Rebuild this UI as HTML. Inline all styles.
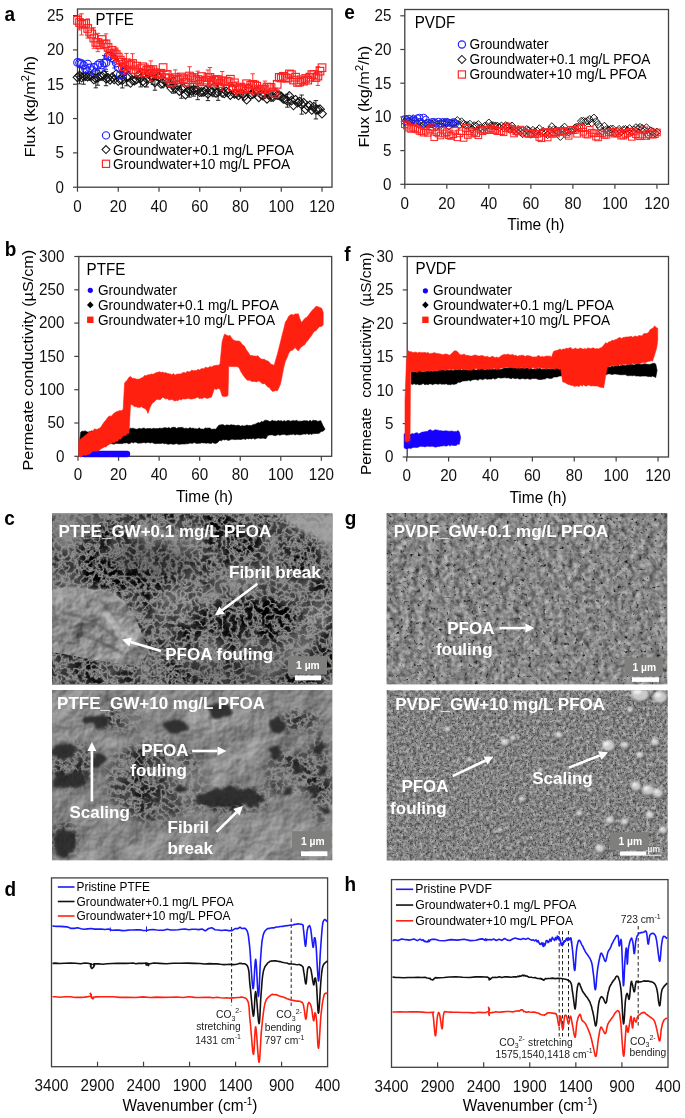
<!DOCTYPE html>
<html><head><meta charset="utf-8"><style>
html,body{margin:0;padding:0;background:#fff;}
svg{display:block;opacity:0.999;}
text{font-family:"Liberation Sans", sans-serif;}
</style></head><body>
<svg width="685" height="1118" viewBox="0 0 685 1118">
<defs><filter id="bl6" x="-50%" y="-50%" width="200%" height="200%"><feGaussianBlur stdDeviation="6"/></filter><filter id="bl3" x="-50%" y="-50%" width="200%" height="200%"><feGaussianBlur stdDeviation="3"/></filter><filter id="bl10" x="-50%" y="-50%" width="200%" height="200%"><feGaussianBlur stdDeviation="10"/></filter><filter id="nc1" x="0" y="0" width="1" height="1" color-interpolation-filters="sRGB"><feTurbulence type="fractalNoise" baseFrequency="0.025" numOctaves="4" seed="3"/><feColorMatrix type="matrix" values="0.9 0 0 0 -0.28  0.9 0 0 0 -0.28  0.9 0 0 0 -0.28  0 0 0 0 1"/></filter><filter id="fil_c1" x="0" y="0" width="1" height="1" color-interpolation-filters="sRGB"><feTurbulence type="fractalNoise" baseFrequency="0.13" numOctaves="3" seed="5"/><feColorMatrix type="matrix" values="0 0 0 0 0.6 0 0 0 0 0.6 0 0 0 0 0.6 1 0 0 0 0"/><feComponentTransfer><feFuncA type="table" tableValues="0 0 0 0 0.05 0.5 0.95 0.5 0.05 0 0 0 0"/></feComponentTransfer><feGaussianBlur stdDeviation="0.45"/></filter><filter id="nc1f" x="0" y="0" width="1" height="1" color-interpolation-filters="sRGB"><feTurbulence type="fractalNoise" baseFrequency="0.02" numOctaves="3" seed="8"/><feColorMatrix type="matrix" values="1.0 0 0 0 0.07999999999999996  1.0 0 0 0 0.07999999999999996  1.0 0 0 0 0.07999999999999996  0 0 0 0 1"/><feGaussianBlur stdDeviation="0.5"/></filter><filter id="nc2" x="0" y="0" width="1" height="1" color-interpolation-filters="sRGB"><feTurbulence type="fractalNoise" baseFrequency="0.03" numOctaves="5" seed="11"/><feColorMatrix type="matrix" values="0.45 0 0 0 0.28  0.45 0 0 0 0.28  0.45 0 0 0 0.28  0 0 0 0 1"/><feGaussianBlur stdDeviation="0.4"/></filter><filter id="rc2" x="0" y="0" width="1" height="1" color-interpolation-filters="sRGB"><feTurbulence type="fractalNoise" baseFrequency="0.035" numOctaves="4" seed="11" result="t"/><feColorMatrix in="t" type="matrix" values="0 0 0 0 0 0 0 0 0 0 0 0 0 0 0 1 0 0 0 0" result="a"/><feDiffuseLighting in="a" surfaceScale="3" diffuseConstant="0.7" lighting-color="#fff"><feDistantLight azimuth="225" elevation="45"/></feDiffuseLighting><feComponentTransfer><feFuncR type="linear" slope="1.4" intercept="-0.13"/><feFuncG type="linear" slope="1.4" intercept="-0.13"/><feFuncB type="linear" slope="1.4" intercept="-0.13"/></feComponentTransfer></filter><filter id="rg1" x="0" y="0" width="1" height="1" color-interpolation-filters="sRGB"><feTurbulence type="fractalNoise" baseFrequency="0.12 0.08" numOctaves="3" seed="5" result="t"/><feColorMatrix in="t" type="matrix" values="0 0 0 0 0 0 0 0 0 0 0 0 0 0 0 1 0 0 0 0" result="a"/><feDiffuseLighting in="a" surfaceScale="2.5" diffuseConstant="0.75" lighting-color="#fff"><feDistantLight azimuth="225" elevation="45"/></feDiffuseLighting><feComponentTransfer><feFuncR type="linear" slope="1.5" intercept="-0.2"/><feFuncG type="linear" slope="1.5" intercept="-0.2"/><feFuncB type="linear" slope="1.5" intercept="-0.2"/></feComponentTransfer></filter><filter id="nc2f" x="0" y="0" width="1" height="1" color-interpolation-filters="sRGB"><feTurbulence type="fractalNoise" baseFrequency="0.1" numOctaves="4" seed="12"/><feColorMatrix type="matrix" values="1.1 0 0 0 -0.18000000000000005  1.1 0 0 0 -0.18000000000000005  1.1 0 0 0 -0.18000000000000005  0 0 0 0 1"/><feGaussianBlur stdDeviation="0.4"/></filter><filter id="ng1" x="0" y="0" width="1" height="1" color-interpolation-filters="sRGB"><feTurbulence type="fractalNoise" baseFrequency="0.05 0.14" numOctaves="4" seed="5"/><feColorMatrix type="matrix" values="0.55 0 0 0 0.275  0.55 0 0 0 0.275  0.55 0 0 0 0.275  0 0 0 0 1"/><feGaussianBlur stdDeviation="0.5"/></filter><filter id="ng1f" x="0" y="0" width="1" height="1" color-interpolation-filters="sRGB"><feTurbulence type="fractalNoise" baseFrequency="0.22" numOctaves="3" seed="15"/><feColorMatrix type="matrix" values="1.0 0 0 0 0.0  1.0 0 0 0 0.0  1.0 0 0 0 0.0  0 0 0 0 1"/><feGaussianBlur stdDeviation="0.4"/></filter><filter id="ng2" x="0" y="0" width="1" height="1" color-interpolation-filters="sRGB"><feTurbulence type="fractalNoise" baseFrequency="0.3" numOctaves="4" seed="9"/><feColorMatrix type="matrix" values="0.6 0 0 0 0.23000000000000004  0.6 0 0 0 0.23000000000000004  0.6 0 0 0 0.23000000000000004  0 0 0 0 1"/><feGaussianBlur stdDeviation="0.4"/></filter><filter id="sp_c1" x="0" y="0" width="1" height="1" color-interpolation-filters="sRGB"><feTurbulence type="fractalNoise" baseFrequency="0.07" numOctaves="3" seed="7"/><feColorMatrix type="matrix" values="0 0 0 0 0.12  0 0 0 0 0.12  0 0 0 0 0.12  -5 0 0 0 1.85"/><feGaussianBlur stdDeviation="0.8"/></filter><filter id="sp_g1" x="0" y="0" width="1" height="1" color-interpolation-filters="sRGB"><feTurbulence type="fractalNoise" baseFrequency="0.28" numOctaves="2" seed="31"/><feColorMatrix type="matrix" values="0 0 0 0 0.1  0 0 0 0 0.1  0 0 0 0 0.1  -5 0 0 0 1.7999999999999998"/><feGaussianBlur stdDeviation="0.45"/></filter><filter id="sp_g2" x="0" y="0" width="1" height="1" color-interpolation-filters="sRGB"><feTurbulence type="fractalNoise" baseFrequency="0.6" numOctaves="2" seed="41"/><feColorMatrix type="matrix" values="0 0 0 0 0.15  0 0 0 0 0.15  0 0 0 0 0.15  -3.0 0 0 0 1.26"/><feGaussianBlur stdDeviation="0.35"/></filter><filter id="disp" x="-20%" y="-20%" width="140%" height="140%"><feTurbulence type="fractalNoise" baseFrequency="0.08" numOctaves="2" seed="4" result="t"/><feDisplacementMap in="SourceGraphic" in2="t" scale="12" xChannelSelector="R" yChannelSelector="G"/><feGaussianBlur stdDeviation="0.8"/></filter><filter id="bl1" x="-50%" y="-50%" width="200%" height="200%"><feGaussianBlur stdDeviation="1.2"/></filter><filter id="bl2" x="-50%" y="-50%" width="200%" height="200%"><feGaussianBlur stdDeviation="2"/></filter><mask id="m_c2" maskUnits="userSpaceOnUse" x="0" y="0" width="685" height="1118"><g filter="url(#bl6)" fill="#fff"><ellipse cx="156" cy="782" rx="50" ry="40"/><ellipse cx="289" cy="773" rx="25" ry="22"/><ellipse cx="72" cy="765" rx="20" ry="25"/><ellipse cx="320" cy="780" rx="12" ry="45"/><ellipse cx="230" cy="800" rx="38" ry="13"/><ellipse cx="64" cy="840" rx="14" ry="18"/><ellipse cx="120" cy="720" rx="25" ry="10"/><ellipse cx="300" cy="720" rx="25" ry="10"/></g></mask><clipPath id="clip1"><rect x="52" y="513.6" width="280.4" height="170.89999999999998"/></clipPath><clipPath id="filmc1"><path d="M52 592 C62 585 80 588 95 590 C108 588 118 595 126 604 C135 615 142 632 148 650 C146 662 135 667 118 664 C95 660 75 656 52 652Z"/></clipPath><clipPath id="clip2"><rect x="52" y="690.1" width="280.3" height="170.10000000000002"/></clipPath><clipPath id="clip3"><rect x="386.7" y="513.1" width="280.50000000000006" height="171.10000000000002"/></clipPath><clipPath id="clip4"><rect x="386.7" y="690.2" width="281.00000000000006" height="170.39999999999998"/></clipPath></defs>
<rect width="685" height="1118" fill="#fff"/>
<rect x="77.50" y="9.00" width="254.50" height="178.20" fill="none" stroke="#404040" stroke-width="1.3"/>
<line x1="73.00" y1="187.20" x2="77.50" y2="187.20" stroke="#404040" stroke-width="1.2"/>
<text x="64.00" y="192.60" font-size="15.20" text-anchor="end" font-weight="normal" fill="#111" transform="matrix(1 0 0 1.06 0 -11.556)">0</text>
<line x1="73.00" y1="152.88" x2="77.50" y2="152.88" stroke="#404040" stroke-width="1.2"/>
<text x="64.00" y="158.28" font-size="15.20" text-anchor="end" font-weight="normal" fill="#111" transform="matrix(1 0 0 1.06 0 -9.497)">5</text>
<line x1="73.00" y1="118.56" x2="77.50" y2="118.56" stroke="#404040" stroke-width="1.2"/>
<text x="64.00" y="123.96" font-size="15.20" text-anchor="end" font-weight="normal" fill="#111" transform="matrix(1 0 0 1.06 0 -7.438)">10</text>
<line x1="73.00" y1="84.24" x2="77.50" y2="84.24" stroke="#404040" stroke-width="1.2"/>
<text x="64.00" y="89.64" font-size="15.20" text-anchor="end" font-weight="normal" fill="#111" transform="matrix(1 0 0 1.06 0 -5.378)">15</text>
<line x1="73.00" y1="49.92" x2="77.50" y2="49.92" stroke="#404040" stroke-width="1.2"/>
<text x="64.00" y="55.32" font-size="15.20" text-anchor="end" font-weight="normal" fill="#111" transform="matrix(1 0 0 1.06 0 -3.319)">20</text>
<line x1="73.00" y1="15.60" x2="77.50" y2="15.60" stroke="#404040" stroke-width="1.2"/>
<text x="64.00" y="21.00" font-size="15.20" text-anchor="end" font-weight="normal" fill="#111" transform="matrix(1 0 0 1.06 0 -1.260)">25</text>
<line x1="77.50" y1="187.20" x2="77.50" y2="191.70" stroke="#404040" stroke-width="1.2"/>
<text x="77.50" y="211.80" font-size="15.20" text-anchor="middle" font-weight="normal" fill="#111" transform="matrix(1 0 0 1.06 0 -12.708)">0</text>
<line x1="118.25" y1="187.20" x2="118.25" y2="191.70" stroke="#404040" stroke-width="1.2"/>
<text x="118.25" y="211.80" font-size="15.20" text-anchor="middle" font-weight="normal" fill="#111" transform="matrix(1 0 0 1.06 0 -12.708)">20</text>
<line x1="159.01" y1="187.20" x2="159.01" y2="191.70" stroke="#404040" stroke-width="1.2"/>
<text x="159.01" y="211.80" font-size="15.20" text-anchor="middle" font-weight="normal" fill="#111" transform="matrix(1 0 0 1.06 0 -12.708)">40</text>
<line x1="199.76" y1="187.20" x2="199.76" y2="191.70" stroke="#404040" stroke-width="1.2"/>
<text x="199.76" y="211.80" font-size="15.20" text-anchor="middle" font-weight="normal" fill="#111" transform="matrix(1 0 0 1.06 0 -12.708)">60</text>
<line x1="240.51" y1="187.20" x2="240.51" y2="191.70" stroke="#404040" stroke-width="1.2"/>
<text x="240.51" y="211.80" font-size="15.20" text-anchor="middle" font-weight="normal" fill="#111" transform="matrix(1 0 0 1.06 0 -12.708)">80</text>
<line x1="281.26" y1="187.20" x2="281.26" y2="191.70" stroke="#404040" stroke-width="1.2"/>
<text x="281.26" y="211.80" font-size="15.20" text-anchor="middle" font-weight="normal" fill="#111" transform="matrix(1 0 0 1.06 0 -12.708)">100</text>
<line x1="322.02" y1="187.20" x2="322.02" y2="191.70" stroke="#404040" stroke-width="1.2"/>
<text x="322.02" y="211.80" font-size="15.20" text-anchor="middle" font-weight="normal" fill="#111" transform="matrix(1 0 0 1.06 0 -12.708)">120</text>
<text x="34.80" y="106.60" font-size="15.38" text-anchor="middle" font-weight="normal" fill="#000" transform="translate(34.80 106.60) rotate(-90) scale(1.06 1) translate(-34.80 -106.60)">Flux (kg/m<tspan font-size="10.5" dy="-6">2</tspan><tspan dy="6">/h)</tspan></text>
<text x="95.50" y="25.20" font-size="15.00" text-anchor="start" font-weight="normal" fill="#000" transform="matrix(1 0 0 1.06 0 -1.512)">PTFE</text>
<text x="4.40" y="21.20" font-size="19.00" text-anchor="start" font-weight="bold" fill="#000" transform="matrix(1 0 0 1.06 0 -1.272)">a</text>
<path d="M77.50 72.90L81.90 77.30L77.50 81.70L73.10 77.30Z" fill="none" stroke="#111" stroke-width="1.05"/>
<line x1="79.54" y1="67.23" x2="79.54" y2="83.83" stroke="#111" stroke-width="0.9"/>
<line x1="77.34" y1="67.23" x2="81.74" y2="67.23" stroke="#111" stroke-width="0.9"/>
<line x1="77.34" y1="83.83" x2="81.74" y2="83.83" stroke="#111" stroke-width="0.9"/>
<path d="M79.54 71.13L83.94 75.53L79.54 79.93L75.14 75.53Z" fill="none" stroke="#111" stroke-width="1.05"/>
<path d="M81.58 72.98L85.98 77.38L81.58 81.78L77.18 77.38Z" fill="none" stroke="#111" stroke-width="1.05"/>
<line x1="83.61" y1="68.33" x2="83.61" y2="84.22" stroke="#111" stroke-width="0.9"/>
<line x1="81.41" y1="68.33" x2="85.81" y2="68.33" stroke="#111" stroke-width="0.9"/>
<line x1="81.41" y1="84.22" x2="85.81" y2="84.22" stroke="#111" stroke-width="0.9"/>
<path d="M83.61 71.87L88.01 76.27L83.61 80.67L79.21 76.27Z" fill="none" stroke="#111" stroke-width="1.05"/>
<path d="M85.65 71.62L90.05 76.02L85.65 80.42L81.25 76.02Z" fill="none" stroke="#111" stroke-width="1.05"/>
<path d="M87.69 72.19L92.09 76.59L87.69 80.99L83.29 76.59Z" fill="none" stroke="#111" stroke-width="1.05"/>
<path d="M89.73 71.48L94.13 75.88L89.73 80.28L85.33 75.88Z" fill="none" stroke="#111" stroke-width="1.05"/>
<path d="M91.76 71.57L96.16 75.97L91.76 80.37L87.36 75.97Z" fill="none" stroke="#111" stroke-width="1.05"/>
<path d="M93.80 74.98L98.20 79.38L93.80 83.78L89.40 79.38Z" fill="none" stroke="#111" stroke-width="1.05"/>
<line x1="95.84" y1="69.03" x2="95.84" y2="87.84" stroke="#111" stroke-width="0.9"/>
<line x1="93.64" y1="69.03" x2="98.04" y2="69.03" stroke="#111" stroke-width="0.9"/>
<line x1="93.64" y1="87.84" x2="98.04" y2="87.84" stroke="#111" stroke-width="0.9"/>
<path d="M95.84 74.03L100.24 78.43L95.84 82.83L91.44 78.43Z" fill="none" stroke="#111" stroke-width="1.05"/>
<line x1="97.88" y1="70.19" x2="97.88" y2="85.22" stroke="#111" stroke-width="0.9"/>
<line x1="95.68" y1="70.19" x2="100.08" y2="70.19" stroke="#111" stroke-width="0.9"/>
<line x1="95.68" y1="85.22" x2="100.08" y2="85.22" stroke="#111" stroke-width="0.9"/>
<path d="M97.88 73.31L102.28 77.71L97.88 82.11L93.48 77.71Z" fill="none" stroke="#111" stroke-width="1.05"/>
<path d="M99.91 71.77L104.31 76.17L99.91 80.57L95.51 76.17Z" fill="none" stroke="#111" stroke-width="1.05"/>
<path d="M101.95 71.82L106.35 76.22L101.95 80.62L97.55 76.22Z" fill="none" stroke="#111" stroke-width="1.05"/>
<path d="M103.99 70.37L108.39 74.77L103.99 79.17L99.59 74.77Z" fill="none" stroke="#111" stroke-width="1.05"/>
<line x1="106.03" y1="71.40" x2="106.03" y2="85.73" stroke="#111" stroke-width="0.9"/>
<line x1="103.83" y1="71.40" x2="108.23" y2="71.40" stroke="#111" stroke-width="0.9"/>
<line x1="103.83" y1="85.73" x2="108.23" y2="85.73" stroke="#111" stroke-width="0.9"/>
<path d="M106.03 74.17L110.43 78.57L106.03 82.97L101.63 78.57Z" fill="none" stroke="#111" stroke-width="1.05"/>
<path d="M108.06 73.69L112.46 78.09L108.06 82.49L103.66 78.09Z" fill="none" stroke="#111" stroke-width="1.05"/>
<path d="M110.10 75.40L114.50 79.80L110.10 84.20L105.70 79.80Z" fill="none" stroke="#111" stroke-width="1.05"/>
<path d="M112.14 72.70L116.54 77.10L112.14 81.50L107.74 77.10Z" fill="none" stroke="#111" stroke-width="1.05"/>
<path d="M114.18 75.02L118.58 79.42L114.18 83.82L109.78 79.42Z" fill="none" stroke="#111" stroke-width="1.05"/>
<path d="M116.21 69.73L120.61 74.13L116.21 78.53L111.81 74.13Z" fill="none" stroke="#111" stroke-width="1.05"/>
<path d="M118.25 76.51L122.65 80.91L118.25 85.31L113.85 80.91Z" fill="none" stroke="#111" stroke-width="1.05"/>
<path d="M120.29 75.30L124.69 79.70L120.29 84.10L115.89 79.70Z" fill="none" stroke="#111" stroke-width="1.05"/>
<line x1="122.33" y1="72.17" x2="122.33" y2="87.96" stroke="#111" stroke-width="0.9"/>
<line x1="120.13" y1="72.17" x2="124.53" y2="72.17" stroke="#111" stroke-width="0.9"/>
<line x1="120.13" y1="87.96" x2="124.53" y2="87.96" stroke="#111" stroke-width="0.9"/>
<path d="M122.33 75.66L126.73 80.06L122.33 84.46L117.93 80.06Z" fill="none" stroke="#111" stroke-width="1.05"/>
<path d="M124.37 67.63L128.77 72.03L124.37 76.43L119.97 72.03Z" fill="none" stroke="#111" stroke-width="1.05"/>
<line x1="126.40" y1="68.30" x2="126.40" y2="85.80" stroke="#111" stroke-width="0.9"/>
<line x1="124.20" y1="68.30" x2="128.60" y2="68.30" stroke="#111" stroke-width="0.9"/>
<line x1="124.20" y1="85.80" x2="128.60" y2="85.80" stroke="#111" stroke-width="0.9"/>
<path d="M126.40 72.65L130.80 77.05L126.40 81.45L122.00 77.05Z" fill="none" stroke="#111" stroke-width="1.05"/>
<path d="M128.44 72.08L132.84 76.48L128.44 80.88L124.04 76.48Z" fill="none" stroke="#111" stroke-width="1.05"/>
<path d="M130.48 78.47L134.88 82.87L130.48 87.27L126.08 82.87Z" fill="none" stroke="#111" stroke-width="1.05"/>
<path d="M132.52 75.97L136.92 80.37L132.52 84.77L128.12 80.37Z" fill="none" stroke="#111" stroke-width="1.05"/>
<path d="M134.55 76.15L138.95 80.55L134.55 84.95L130.15 80.55Z" fill="none" stroke="#111" stroke-width="1.05"/>
<path d="M136.59 75.02L140.99 79.42L136.59 83.82L132.19 79.42Z" fill="none" stroke="#111" stroke-width="1.05"/>
<path d="M138.63 70.42L143.03 74.82L138.63 79.22L134.23 74.82Z" fill="none" stroke="#111" stroke-width="1.05"/>
<line x1="140.67" y1="69.16" x2="140.67" y2="86.90" stroke="#111" stroke-width="0.9"/>
<line x1="138.47" y1="69.16" x2="142.87" y2="69.16" stroke="#111" stroke-width="0.9"/>
<line x1="138.47" y1="86.90" x2="142.87" y2="86.90" stroke="#111" stroke-width="0.9"/>
<path d="M140.67 73.63L145.07 78.03L140.67 82.43L136.27 78.03Z" fill="none" stroke="#111" stroke-width="1.05"/>
<path d="M142.70 76.99L147.10 81.39L142.70 85.79L138.30 81.39Z" fill="none" stroke="#111" stroke-width="1.05"/>
<path d="M144.74 78.20L149.14 82.60L144.74 87.00L140.34 82.60Z" fill="none" stroke="#111" stroke-width="1.05"/>
<line x1="146.78" y1="70.92" x2="146.78" y2="87.01" stroke="#111" stroke-width="0.9"/>
<line x1="144.58" y1="70.92" x2="148.98" y2="70.92" stroke="#111" stroke-width="0.9"/>
<line x1="144.58" y1="87.01" x2="148.98" y2="87.01" stroke="#111" stroke-width="0.9"/>
<path d="M146.78 74.57L151.18 78.97L146.78 83.37L142.38 78.97Z" fill="none" stroke="#111" stroke-width="1.05"/>
<path d="M148.82 69.26L153.22 73.66L148.82 78.06L144.42 73.66Z" fill="none" stroke="#111" stroke-width="1.05"/>
<path d="M150.85 71.81L155.25 76.21L150.85 80.61L146.45 76.21Z" fill="none" stroke="#111" stroke-width="1.05"/>
<line x1="152.89" y1="69.78" x2="152.89" y2="84.40" stroke="#111" stroke-width="0.9"/>
<line x1="150.69" y1="69.78" x2="155.09" y2="69.78" stroke="#111" stroke-width="0.9"/>
<line x1="150.69" y1="84.40" x2="155.09" y2="84.40" stroke="#111" stroke-width="0.9"/>
<path d="M152.89 72.69L157.29 77.09L152.89 81.49L148.49 77.09Z" fill="none" stroke="#111" stroke-width="1.05"/>
<line x1="154.93" y1="74.24" x2="154.93" y2="90.24" stroke="#111" stroke-width="0.9"/>
<line x1="152.73" y1="74.24" x2="157.13" y2="74.24" stroke="#111" stroke-width="0.9"/>
<line x1="152.73" y1="90.24" x2="157.13" y2="90.24" stroke="#111" stroke-width="0.9"/>
<path d="M154.93 77.84L159.33 82.24L154.93 86.64L150.53 82.24Z" fill="none" stroke="#111" stroke-width="1.05"/>
<path d="M156.97 71.82L161.37 76.22L156.97 80.62L152.57 76.22Z" fill="none" stroke="#111" stroke-width="1.05"/>
<path d="M159.01 72.42L163.41 76.82L159.01 81.22L154.61 76.82Z" fill="none" stroke="#111" stroke-width="1.05"/>
<path d="M161.04 79.52L165.44 83.92L161.04 88.32L156.64 83.92Z" fill="none" stroke="#111" stroke-width="1.05"/>
<path d="M163.08 79.32L167.48 83.72L163.08 88.12L158.68 83.72Z" fill="none" stroke="#111" stroke-width="1.05"/>
<path d="M165.12 77.04L169.52 81.44L165.12 85.84L160.72 81.44Z" fill="none" stroke="#111" stroke-width="1.05"/>
<path d="M167.16 78.14L171.56 82.54L167.16 86.94L162.76 82.54Z" fill="none" stroke="#111" stroke-width="1.05"/>
<path d="M169.19 78.62L173.59 83.02L169.19 87.42L164.79 83.02Z" fill="none" stroke="#111" stroke-width="1.05"/>
<path d="M171.23 83.72L175.63 88.12L171.23 92.52L166.83 88.12Z" fill="none" stroke="#111" stroke-width="1.05"/>
<line x1="173.27" y1="77.41" x2="173.27" y2="93.21" stroke="#111" stroke-width="0.9"/>
<line x1="171.07" y1="77.41" x2="175.47" y2="77.41" stroke="#111" stroke-width="0.9"/>
<line x1="171.07" y1="93.21" x2="175.47" y2="93.21" stroke="#111" stroke-width="0.9"/>
<path d="M173.27 80.91L177.67 85.31L173.27 89.71L168.87 85.31Z" fill="none" stroke="#111" stroke-width="1.05"/>
<path d="M175.31 84.01L179.71 88.41L175.31 92.81L170.91 88.41Z" fill="none" stroke="#111" stroke-width="1.05"/>
<path d="M177.34 80.31L181.74 84.71L177.34 89.11L172.94 84.71Z" fill="none" stroke="#111" stroke-width="1.05"/>
<path d="M179.38 86.59L183.78 90.99L179.38 95.39L174.98 90.99Z" fill="none" stroke="#111" stroke-width="1.05"/>
<line x1="181.42" y1="79.14" x2="181.42" y2="98.23" stroke="#111" stroke-width="0.9"/>
<line x1="179.22" y1="79.14" x2="183.62" y2="79.14" stroke="#111" stroke-width="0.9"/>
<line x1="179.22" y1="98.23" x2="183.62" y2="98.23" stroke="#111" stroke-width="0.9"/>
<path d="M181.42 84.28L185.82 88.68L181.42 93.08L177.02 88.68Z" fill="none" stroke="#111" stroke-width="1.05"/>
<path d="M183.46 83.73L187.86 88.13L183.46 92.53L179.06 88.13Z" fill="none" stroke="#111" stroke-width="1.05"/>
<path d="M185.49 90.14L189.89 94.54L185.49 98.94L181.09 94.54Z" fill="none" stroke="#111" stroke-width="1.05"/>
<path d="M187.53 86.92L191.93 91.32L187.53 95.72L183.13 91.32Z" fill="none" stroke="#111" stroke-width="1.05"/>
<line x1="189.57" y1="83.75" x2="189.57" y2="97.13" stroke="#111" stroke-width="0.9"/>
<line x1="187.37" y1="83.75" x2="191.77" y2="83.75" stroke="#111" stroke-width="0.9"/>
<line x1="187.37" y1="97.13" x2="191.77" y2="97.13" stroke="#111" stroke-width="0.9"/>
<path d="M189.57 86.04L193.97 90.44L189.57 94.84L185.17 90.44Z" fill="none" stroke="#111" stroke-width="1.05"/>
<path d="M191.61 86.34L196.01 90.74L191.61 95.14L187.21 90.74Z" fill="none" stroke="#111" stroke-width="1.05"/>
<line x1="193.64" y1="83.26" x2="193.64" y2="96.18" stroke="#111" stroke-width="0.9"/>
<line x1="191.44" y1="83.26" x2="195.84" y2="83.26" stroke="#111" stroke-width="0.9"/>
<line x1="191.44" y1="96.18" x2="195.84" y2="96.18" stroke="#111" stroke-width="0.9"/>
<path d="M193.64 85.32L198.04 89.72L193.64 94.12L189.24 89.72Z" fill="none" stroke="#111" stroke-width="1.05"/>
<path d="M195.68 86.06L200.08 90.46L195.68 94.86L191.28 90.46Z" fill="none" stroke="#111" stroke-width="1.05"/>
<line x1="197.72" y1="80.74" x2="197.72" y2="99.66" stroke="#111" stroke-width="0.9"/>
<line x1="195.52" y1="80.74" x2="199.92" y2="80.74" stroke="#111" stroke-width="0.9"/>
<line x1="195.52" y1="99.66" x2="199.92" y2="99.66" stroke="#111" stroke-width="0.9"/>
<path d="M197.72 85.80L202.12 90.20L197.72 94.60L193.32 90.20Z" fill="none" stroke="#111" stroke-width="1.05"/>
<path d="M199.76 87.73L204.16 92.13L199.76 96.53L195.36 92.13Z" fill="none" stroke="#111" stroke-width="1.05"/>
<path d="M201.80 87.60L206.20 92.00L201.80 96.40L197.40 92.00Z" fill="none" stroke="#111" stroke-width="1.05"/>
<path d="M203.83 87.51L208.23 91.91L203.83 96.31L199.43 91.91Z" fill="none" stroke="#111" stroke-width="1.05"/>
<path d="M205.87 85.78L210.27 90.18L205.87 94.58L201.47 90.18Z" fill="none" stroke="#111" stroke-width="1.05"/>
<line x1="207.91" y1="86.99" x2="207.91" y2="100.61" stroke="#111" stroke-width="0.9"/>
<line x1="205.71" y1="86.99" x2="210.11" y2="86.99" stroke="#111" stroke-width="0.9"/>
<line x1="205.71" y1="100.61" x2="210.11" y2="100.61" stroke="#111" stroke-width="0.9"/>
<path d="M207.91 89.40L212.31 93.80L207.91 98.20L203.51 93.80Z" fill="none" stroke="#111" stroke-width="1.05"/>
<path d="M209.95 86.12L214.35 90.52L209.95 94.92L205.55 90.52Z" fill="none" stroke="#111" stroke-width="1.05"/>
<path d="M211.98 87.30L216.38 91.70L211.98 96.10L207.58 91.70Z" fill="none" stroke="#111" stroke-width="1.05"/>
<line x1="214.02" y1="77.25" x2="214.02" y2="96.70" stroke="#111" stroke-width="0.9"/>
<line x1="211.82" y1="77.25" x2="216.22" y2="77.25" stroke="#111" stroke-width="0.9"/>
<line x1="211.82" y1="96.70" x2="216.22" y2="96.70" stroke="#111" stroke-width="0.9"/>
<path d="M214.02 82.58L218.42 86.98L214.02 91.38L209.62 86.98Z" fill="none" stroke="#111" stroke-width="1.05"/>
<path d="M216.06 88.58L220.46 92.98L216.06 97.38L211.66 92.98Z" fill="none" stroke="#111" stroke-width="1.05"/>
<line x1="218.10" y1="83.80" x2="218.10" y2="100.35" stroke="#111" stroke-width="0.9"/>
<line x1="215.90" y1="83.80" x2="220.30" y2="83.80" stroke="#111" stroke-width="0.9"/>
<line x1="215.90" y1="100.35" x2="220.30" y2="100.35" stroke="#111" stroke-width="0.9"/>
<path d="M218.10 87.68L222.50 92.08L218.10 96.48L213.70 92.08Z" fill="none" stroke="#111" stroke-width="1.05"/>
<path d="M220.13 82.87L224.53 87.27L220.13 91.67L215.73 87.27Z" fill="none" stroke="#111" stroke-width="1.05"/>
<path d="M222.17 88.45L226.57 92.85L222.17 97.25L217.77 92.85Z" fill="none" stroke="#111" stroke-width="1.05"/>
<path d="M224.21 88.96L228.61 93.36L224.21 97.76L219.81 93.36Z" fill="none" stroke="#111" stroke-width="1.05"/>
<path d="M226.25 87.09L230.65 91.49L226.25 95.89L221.85 91.49Z" fill="none" stroke="#111" stroke-width="1.05"/>
<path d="M228.28 87.96L232.68 92.36L228.28 96.76L223.88 92.36Z" fill="none" stroke="#111" stroke-width="1.05"/>
<path d="M230.32 90.65L234.72 95.05L230.32 99.45L225.92 95.05Z" fill="none" stroke="#111" stroke-width="1.05"/>
<path d="M232.36 84.04L236.76 88.44L232.36 92.84L227.96 88.44Z" fill="none" stroke="#111" stroke-width="1.05"/>
<path d="M234.40 89.35L238.80 93.75L234.40 98.15L230.00 93.75Z" fill="none" stroke="#111" stroke-width="1.05"/>
<path d="M236.44 89.19L240.84 93.59L236.44 97.99L232.04 93.59Z" fill="none" stroke="#111" stroke-width="1.05"/>
<path d="M238.47 90.99L242.87 95.39L238.47 99.79L234.07 95.39Z" fill="none" stroke="#111" stroke-width="1.05"/>
<path d="M240.51 88.89L244.91 93.29L240.51 97.69L236.11 93.29Z" fill="none" stroke="#111" stroke-width="1.05"/>
<path d="M242.55 89.43L246.95 93.83L242.55 98.23L238.15 93.83Z" fill="none" stroke="#111" stroke-width="1.05"/>
<path d="M244.59 91.74L248.99 96.14L244.59 100.54L240.19 96.14Z" fill="none" stroke="#111" stroke-width="1.05"/>
<path d="M246.62 95.32L251.02 99.72L246.62 104.12L242.22 99.72Z" fill="none" stroke="#111" stroke-width="1.05"/>
<path d="M248.66 83.81L253.06 88.21L248.66 92.61L244.26 88.21Z" fill="none" stroke="#111" stroke-width="1.05"/>
<path d="M250.70 90.30L255.10 94.70L250.70 99.10L246.30 94.70Z" fill="none" stroke="#111" stroke-width="1.05"/>
<path d="M252.74 89.70L257.14 94.10L252.74 98.50L248.34 94.10Z" fill="none" stroke="#111" stroke-width="1.05"/>
<path d="M254.77 88.44L259.17 92.84L254.77 97.24L250.37 92.84Z" fill="none" stroke="#111" stroke-width="1.05"/>
<path d="M256.81 86.37L261.21 90.77L256.81 95.17L252.41 90.77Z" fill="none" stroke="#111" stroke-width="1.05"/>
<path d="M258.85 92.87L263.25 97.27L258.85 101.67L254.45 97.27Z" fill="none" stroke="#111" stroke-width="1.05"/>
<path d="M260.89 89.95L265.29 94.35L260.89 98.75L256.49 94.35Z" fill="none" stroke="#111" stroke-width="1.05"/>
<path d="M262.92 91.30L267.32 95.70L262.92 100.10L258.52 95.70Z" fill="none" stroke="#111" stroke-width="1.05"/>
<path d="M264.96 89.61L269.36 94.01L264.96 98.41L260.56 94.01Z" fill="none" stroke="#111" stroke-width="1.05"/>
<path d="M267.00 94.42L271.40 98.82L267.00 103.22L262.60 98.82Z" fill="none" stroke="#111" stroke-width="1.05"/>
<path d="M269.04 90.05L273.44 94.45L269.04 98.85L264.64 94.45Z" fill="none" stroke="#111" stroke-width="1.05"/>
<path d="M271.07 92.76L275.47 97.16L271.07 101.56L266.67 97.16Z" fill="none" stroke="#111" stroke-width="1.05"/>
<path d="M273.11 92.67L277.51 97.07L273.11 101.47L268.71 97.07Z" fill="none" stroke="#111" stroke-width="1.05"/>
<path d="M275.15 89.34L279.55 93.74L275.15 98.14L270.75 93.74Z" fill="none" stroke="#111" stroke-width="1.05"/>
<path d="M277.19 90.82L281.59 95.22L277.19 99.62L272.79 95.22Z" fill="none" stroke="#111" stroke-width="1.05"/>
<path d="M279.23 90.93L283.63 95.33L279.23 99.73L274.83 95.33Z" fill="none" stroke="#111" stroke-width="1.05"/>
<path d="M281.26 92.15L285.66 96.55L281.26 100.95L276.86 96.55Z" fill="none" stroke="#111" stroke-width="1.05"/>
<path d="M283.30 94.49L287.70 98.89L283.30 103.29L278.90 98.89Z" fill="none" stroke="#111" stroke-width="1.05"/>
<path d="M285.34 95.05L289.74 99.45L285.34 103.85L280.94 99.45Z" fill="none" stroke="#111" stroke-width="1.05"/>
<line x1="287.38" y1="94.18" x2="287.38" y2="107.20" stroke="#111" stroke-width="0.9"/>
<line x1="285.18" y1="94.18" x2="289.58" y2="94.18" stroke="#111" stroke-width="0.9"/>
<line x1="285.18" y1="107.20" x2="289.58" y2="107.20" stroke="#111" stroke-width="0.9"/>
<path d="M287.38 96.29L291.78 100.69L287.38 105.09L282.98 100.69Z" fill="none" stroke="#111" stroke-width="1.05"/>
<path d="M289.41 91.61L293.81 96.01L289.41 100.41L285.01 96.01Z" fill="none" stroke="#111" stroke-width="1.05"/>
<path d="M291.45 96.26L295.85 100.66L291.45 105.06L287.05 100.66Z" fill="none" stroke="#111" stroke-width="1.05"/>
<path d="M293.49 100.96L297.89 105.36L293.49 109.76L289.09 105.36Z" fill="none" stroke="#111" stroke-width="1.05"/>
<path d="M295.53 95.43L299.93 99.83L295.53 104.23L291.13 99.83Z" fill="none" stroke="#111" stroke-width="1.05"/>
<path d="M297.56 98.30L301.96 102.70L297.56 107.10L293.16 102.70Z" fill="none" stroke="#111" stroke-width="1.05"/>
<path d="M299.60 97.16L304.00 101.56L299.60 105.96L295.20 101.56Z" fill="none" stroke="#111" stroke-width="1.05"/>
<line x1="301.64" y1="95.00" x2="301.64" y2="114.17" stroke="#111" stroke-width="0.9"/>
<line x1="299.44" y1="95.00" x2="303.84" y2="95.00" stroke="#111" stroke-width="0.9"/>
<line x1="299.44" y1="114.17" x2="303.84" y2="114.17" stroke="#111" stroke-width="0.9"/>
<path d="M301.64 100.19L306.04 104.59L301.64 108.99L297.24 104.59Z" fill="none" stroke="#111" stroke-width="1.05"/>
<path d="M303.68 98.42L308.08 102.82L303.68 107.22L299.28 102.82Z" fill="none" stroke="#111" stroke-width="1.05"/>
<path d="M305.71 104.87L310.11 109.27L305.71 113.67L301.31 109.27Z" fill="none" stroke="#111" stroke-width="1.05"/>
<path d="M307.75 101.75L312.15 106.15L307.75 110.55L303.35 106.15Z" fill="none" stroke="#111" stroke-width="1.05"/>
<path d="M309.79 100.88L314.19 105.28L309.79 109.68L305.39 105.28Z" fill="none" stroke="#111" stroke-width="1.05"/>
<path d="M311.83 105.52L316.23 109.92L311.83 114.32L307.43 109.92Z" fill="none" stroke="#111" stroke-width="1.05"/>
<path d="M313.87 102.32L318.27 106.72L313.87 111.12L309.47 106.72Z" fill="none" stroke="#111" stroke-width="1.05"/>
<line x1="315.90" y1="100.56" x2="315.90" y2="118.96" stroke="#111" stroke-width="0.9"/>
<line x1="313.70" y1="100.56" x2="318.10" y2="100.56" stroke="#111" stroke-width="0.9"/>
<line x1="313.70" y1="118.96" x2="318.10" y2="118.96" stroke="#111" stroke-width="0.9"/>
<path d="M315.90 105.36L320.30 109.76L315.90 114.16L311.50 109.76Z" fill="none" stroke="#111" stroke-width="1.05"/>
<path d="M317.94 105.16L322.34 109.56L317.94 113.96L313.54 109.56Z" fill="none" stroke="#111" stroke-width="1.05"/>
<path d="M319.98 104.81L324.38 109.21L319.98 113.61L315.58 109.21Z" fill="none" stroke="#111" stroke-width="1.05"/>
<path d="M322.02 109.32L326.42 113.72L322.02 118.12L317.62 113.72Z" fill="none" stroke="#111" stroke-width="1.05"/>
<circle cx="77.50" cy="62.44" r="3.8" fill="none" stroke="#2020ff" stroke-width="1.15"/>
<circle cx="79.54" cy="62.86" r="3.8" fill="none" stroke="#2020ff" stroke-width="1.15"/>
<circle cx="81.58" cy="63.63" r="3.8" fill="none" stroke="#2020ff" stroke-width="1.15"/>
<circle cx="83.61" cy="65.39" r="3.8" fill="none" stroke="#2020ff" stroke-width="1.15"/>
<circle cx="85.65" cy="68.88" r="3.8" fill="none" stroke="#2020ff" stroke-width="1.15"/>
<circle cx="87.69" cy="64.09" r="3.8" fill="none" stroke="#2020ff" stroke-width="1.15"/>
<circle cx="89.73" cy="67.92" r="3.8" fill="none" stroke="#2020ff" stroke-width="1.15"/>
<circle cx="91.76" cy="70.50" r="3.8" fill="none" stroke="#2020ff" stroke-width="1.15"/>
<circle cx="93.80" cy="67.36" r="3.8" fill="none" stroke="#2020ff" stroke-width="1.15"/>
<circle cx="95.84" cy="72.06" r="3.8" fill="none" stroke="#2020ff" stroke-width="1.15"/>
<circle cx="97.88" cy="64.92" r="3.8" fill="none" stroke="#2020ff" stroke-width="1.15"/>
<circle cx="99.91" cy="63.28" r="3.8" fill="none" stroke="#2020ff" stroke-width="1.15"/>
<circle cx="101.95" cy="65.00" r="3.8" fill="none" stroke="#2020ff" stroke-width="1.15"/>
<line x1="103.99" y1="55.57" x2="103.99" y2="59.15" stroke="#2020ff" stroke-width="0.9"/>
<line x1="101.99" y1="55.57" x2="105.99" y2="55.57" stroke="#2020ff" stroke-width="0.9"/>
<line x1="103.99" y1="66.75" x2="103.99" y2="70.33" stroke="#2020ff" stroke-width="0.9"/>
<line x1="101.99" y1="70.33" x2="105.99" y2="70.33" stroke="#2020ff" stroke-width="0.9"/>
<circle cx="103.99" cy="62.95" r="3.8" fill="none" stroke="#2020ff" stroke-width="1.15"/>
<line x1="106.03" y1="56.01" x2="106.03" y2="58.89" stroke="#2020ff" stroke-width="0.9"/>
<line x1="104.03" y1="56.01" x2="108.03" y2="56.01" stroke="#2020ff" stroke-width="0.9"/>
<line x1="106.03" y1="66.49" x2="106.03" y2="69.38" stroke="#2020ff" stroke-width="0.9"/>
<line x1="104.03" y1="69.38" x2="108.03" y2="69.38" stroke="#2020ff" stroke-width="0.9"/>
<circle cx="106.03" cy="62.69" r="3.8" fill="none" stroke="#2020ff" stroke-width="1.15"/>
<circle cx="108.06" cy="56.33" r="3.8" fill="none" stroke="#2020ff" stroke-width="1.15"/>
<circle cx="110.10" cy="55.89" r="3.8" fill="none" stroke="#2020ff" stroke-width="1.15"/>
<circle cx="112.14" cy="57.72" r="3.8" fill="none" stroke="#2020ff" stroke-width="1.15"/>
<line x1="114.18" y1="50.24" x2="114.18" y2="55.33" stroke="#2020ff" stroke-width="0.9"/>
<line x1="112.18" y1="50.24" x2="116.18" y2="50.24" stroke="#2020ff" stroke-width="0.9"/>
<line x1="114.18" y1="62.93" x2="114.18" y2="68.02" stroke="#2020ff" stroke-width="0.9"/>
<line x1="112.18" y1="68.02" x2="116.18" y2="68.02" stroke="#2020ff" stroke-width="0.9"/>
<circle cx="114.18" cy="59.13" r="3.8" fill="none" stroke="#2020ff" stroke-width="1.15"/>
<circle cx="116.21" cy="63.02" r="3.8" fill="none" stroke="#2020ff" stroke-width="1.15"/>
<circle cx="118.25" cy="67.42" r="3.8" fill="none" stroke="#2020ff" stroke-width="1.15"/>
<circle cx="120.29" cy="74.85" r="3.8" fill="none" stroke="#2020ff" stroke-width="1.15"/>
<line x1="122.33" y1="60.19" x2="122.33" y2="63.73" stroke="#2020ff" stroke-width="0.9"/>
<line x1="120.33" y1="60.19" x2="124.33" y2="60.19" stroke="#2020ff" stroke-width="0.9"/>
<line x1="122.33" y1="71.33" x2="122.33" y2="74.87" stroke="#2020ff" stroke-width="0.9"/>
<line x1="120.33" y1="74.87" x2="124.33" y2="74.87" stroke="#2020ff" stroke-width="0.9"/>
<circle cx="122.33" cy="67.53" r="3.8" fill="none" stroke="#2020ff" stroke-width="1.15"/>
<line x1="124.37" y1="63.85" x2="124.37" y2="67.00" stroke="#2020ff" stroke-width="0.9"/>
<line x1="122.37" y1="63.85" x2="126.37" y2="63.85" stroke="#2020ff" stroke-width="0.9"/>
<line x1="124.37" y1="74.60" x2="124.37" y2="77.75" stroke="#2020ff" stroke-width="0.9"/>
<line x1="122.37" y1="77.75" x2="126.37" y2="77.75" stroke="#2020ff" stroke-width="0.9"/>
<circle cx="124.37" cy="70.80" r="3.8" fill="none" stroke="#2020ff" stroke-width="1.15"/>
<circle cx="126.40" cy="69.35" r="3.8" fill="none" stroke="#2020ff" stroke-width="1.15"/>
<rect x="73.70" y="16.57" width="7.6" height="7.6" fill="none" stroke="#ff2020" stroke-width="1.15"/>
<line x1="79.54" y1="15.04" x2="79.54" y2="29.95" stroke="#ff2020" stroke-width="0.9"/>
<line x1="77.34" y1="15.04" x2="81.74" y2="15.04" stroke="#ff2020" stroke-width="0.9"/>
<line x1="77.34" y1="29.95" x2="81.74" y2="29.95" stroke="#ff2020" stroke-width="0.9"/>
<rect x="75.74" y="18.70" width="7.6" height="7.6" fill="none" stroke="#ff2020" stroke-width="1.15"/>
<line x1="81.58" y1="13.76" x2="81.58" y2="34.94" stroke="#ff2020" stroke-width="0.9"/>
<line x1="79.38" y1="13.76" x2="83.78" y2="13.76" stroke="#ff2020" stroke-width="0.9"/>
<line x1="79.38" y1="34.94" x2="83.78" y2="34.94" stroke="#ff2020" stroke-width="0.9"/>
<rect x="77.78" y="20.55" width="7.6" height="7.6" fill="none" stroke="#ff2020" stroke-width="1.15"/>
<rect x="79.81" y="19.60" width="7.6" height="7.6" fill="none" stroke="#ff2020" stroke-width="1.15"/>
<rect x="81.85" y="19.59" width="7.6" height="7.6" fill="none" stroke="#ff2020" stroke-width="1.15"/>
<line x1="87.69" y1="18.86" x2="87.69" y2="38.06" stroke="#ff2020" stroke-width="0.9"/>
<line x1="85.49" y1="18.86" x2="89.89" y2="18.86" stroke="#ff2020" stroke-width="0.9"/>
<line x1="85.49" y1="38.06" x2="89.89" y2="38.06" stroke="#ff2020" stroke-width="0.9"/>
<rect x="83.89" y="24.66" width="7.6" height="7.6" fill="none" stroke="#ff2020" stroke-width="1.15"/>
<rect x="85.93" y="28.18" width="7.6" height="7.6" fill="none" stroke="#ff2020" stroke-width="1.15"/>
<rect x="87.96" y="30.13" width="7.6" height="7.6" fill="none" stroke="#ff2020" stroke-width="1.15"/>
<line x1="93.80" y1="27.77" x2="93.80" y2="48.32" stroke="#ff2020" stroke-width="0.9"/>
<line x1="91.60" y1="27.77" x2="96.00" y2="27.77" stroke="#ff2020" stroke-width="0.9"/>
<line x1="91.60" y1="48.32" x2="96.00" y2="48.32" stroke="#ff2020" stroke-width="0.9"/>
<rect x="90.00" y="34.25" width="7.6" height="7.6" fill="none" stroke="#ff2020" stroke-width="1.15"/>
<rect x="92.04" y="38.67" width="7.6" height="7.6" fill="none" stroke="#ff2020" stroke-width="1.15"/>
<line x1="97.88" y1="33.34" x2="97.88" y2="51.67" stroke="#ff2020" stroke-width="0.9"/>
<line x1="95.68" y1="33.34" x2="100.08" y2="33.34" stroke="#ff2020" stroke-width="0.9"/>
<line x1="95.68" y1="51.67" x2="100.08" y2="51.67" stroke="#ff2020" stroke-width="0.9"/>
<rect x="94.08" y="38.71" width="7.6" height="7.6" fill="none" stroke="#ff2020" stroke-width="1.15"/>
<rect x="96.11" y="41.07" width="7.6" height="7.6" fill="none" stroke="#ff2020" stroke-width="1.15"/>
<rect x="98.15" y="35.72" width="7.6" height="7.6" fill="none" stroke="#ff2020" stroke-width="1.15"/>
<rect x="100.19" y="40.30" width="7.6" height="7.6" fill="none" stroke="#ff2020" stroke-width="1.15"/>
<line x1="106.03" y1="33.87" x2="106.03" y2="53.88" stroke="#ff2020" stroke-width="0.9"/>
<line x1="103.83" y1="33.87" x2="108.23" y2="33.87" stroke="#ff2020" stroke-width="0.9"/>
<line x1="103.83" y1="53.88" x2="108.23" y2="53.88" stroke="#ff2020" stroke-width="0.9"/>
<rect x="102.23" y="40.07" width="7.6" height="7.6" fill="none" stroke="#ff2020" stroke-width="1.15"/>
<rect x="104.26" y="43.63" width="7.6" height="7.6" fill="none" stroke="#ff2020" stroke-width="1.15"/>
<rect x="106.30" y="49.80" width="7.6" height="7.6" fill="none" stroke="#ff2020" stroke-width="1.15"/>
<rect x="108.34" y="46.60" width="7.6" height="7.6" fill="none" stroke="#ff2020" stroke-width="1.15"/>
<rect x="110.38" y="49.07" width="7.6" height="7.6" fill="none" stroke="#ff2020" stroke-width="1.15"/>
<line x1="116.21" y1="47.94" x2="116.21" y2="61.21" stroke="#ff2020" stroke-width="0.9"/>
<line x1="114.01" y1="47.94" x2="118.41" y2="47.94" stroke="#ff2020" stroke-width="0.9"/>
<line x1="114.01" y1="61.21" x2="118.41" y2="61.21" stroke="#ff2020" stroke-width="0.9"/>
<rect x="112.41" y="50.78" width="7.6" height="7.6" fill="none" stroke="#ff2020" stroke-width="1.15"/>
<rect x="114.45" y="53.29" width="7.6" height="7.6" fill="none" stroke="#ff2020" stroke-width="1.15"/>
<rect x="116.49" y="56.30" width="7.6" height="7.6" fill="none" stroke="#ff2020" stroke-width="1.15"/>
<rect x="118.53" y="58.57" width="7.6" height="7.6" fill="none" stroke="#ff2020" stroke-width="1.15"/>
<line x1="124.37" y1="59.08" x2="124.37" y2="74.13" stroke="#ff2020" stroke-width="0.9"/>
<line x1="122.17" y1="59.08" x2="126.57" y2="59.08" stroke="#ff2020" stroke-width="0.9"/>
<line x1="122.17" y1="74.13" x2="126.57" y2="74.13" stroke="#ff2020" stroke-width="0.9"/>
<rect x="120.57" y="62.80" width="7.6" height="7.6" fill="none" stroke="#ff2020" stroke-width="1.15"/>
<line x1="126.40" y1="53.40" x2="126.40" y2="72.16" stroke="#ff2020" stroke-width="0.9"/>
<line x1="124.20" y1="53.40" x2="128.60" y2="53.40" stroke="#ff2020" stroke-width="0.9"/>
<line x1="124.20" y1="72.16" x2="128.60" y2="72.16" stroke="#ff2020" stroke-width="0.9"/>
<rect x="122.60" y="58.98" width="7.6" height="7.6" fill="none" stroke="#ff2020" stroke-width="1.15"/>
<rect x="124.64" y="61.33" width="7.6" height="7.6" fill="none" stroke="#ff2020" stroke-width="1.15"/>
<rect x="126.68" y="60.92" width="7.6" height="7.6" fill="none" stroke="#ff2020" stroke-width="1.15"/>
<line x1="132.52" y1="53.71" x2="132.52" y2="73.29" stroke="#ff2020" stroke-width="0.9"/>
<line x1="130.32" y1="53.71" x2="134.72" y2="53.71" stroke="#ff2020" stroke-width="0.9"/>
<line x1="130.32" y1="73.29" x2="134.72" y2="73.29" stroke="#ff2020" stroke-width="0.9"/>
<rect x="128.72" y="59.70" width="7.6" height="7.6" fill="none" stroke="#ff2020" stroke-width="1.15"/>
<rect x="130.75" y="66.03" width="7.6" height="7.6" fill="none" stroke="#ff2020" stroke-width="1.15"/>
<rect x="132.79" y="62.30" width="7.6" height="7.6" fill="none" stroke="#ff2020" stroke-width="1.15"/>
<rect x="134.83" y="68.32" width="7.6" height="7.6" fill="none" stroke="#ff2020" stroke-width="1.15"/>
<rect x="136.87" y="64.83" width="7.6" height="7.6" fill="none" stroke="#ff2020" stroke-width="1.15"/>
<rect x="138.90" y="62.98" width="7.6" height="7.6" fill="none" stroke="#ff2020" stroke-width="1.15"/>
<rect x="140.94" y="69.31" width="7.6" height="7.6" fill="none" stroke="#ff2020" stroke-width="1.15"/>
<line x1="146.78" y1="64.15" x2="146.78" y2="76.55" stroke="#ff2020" stroke-width="0.9"/>
<line x1="144.58" y1="64.15" x2="148.98" y2="64.15" stroke="#ff2020" stroke-width="0.9"/>
<line x1="144.58" y1="76.55" x2="148.98" y2="76.55" stroke="#ff2020" stroke-width="0.9"/>
<rect x="142.98" y="66.55" width="7.6" height="7.6" fill="none" stroke="#ff2020" stroke-width="1.15"/>
<rect x="145.02" y="65.73" width="7.6" height="7.6" fill="none" stroke="#ff2020" stroke-width="1.15"/>
<line x1="150.85" y1="60.90" x2="150.85" y2="80.70" stroke="#ff2020" stroke-width="0.9"/>
<line x1="148.65" y1="60.90" x2="153.05" y2="60.90" stroke="#ff2020" stroke-width="0.9"/>
<line x1="148.65" y1="80.70" x2="153.05" y2="80.70" stroke="#ff2020" stroke-width="0.9"/>
<rect x="147.05" y="67.00" width="7.6" height="7.6" fill="none" stroke="#ff2020" stroke-width="1.15"/>
<rect x="149.09" y="65.76" width="7.6" height="7.6" fill="none" stroke="#ff2020" stroke-width="1.15"/>
<rect x="151.13" y="68.93" width="7.6" height="7.6" fill="none" stroke="#ff2020" stroke-width="1.15"/>
<rect x="153.17" y="70.28" width="7.6" height="7.6" fill="none" stroke="#ff2020" stroke-width="1.15"/>
<rect x="155.21" y="70.33" width="7.6" height="7.6" fill="none" stroke="#ff2020" stroke-width="1.15"/>
<rect x="157.24" y="69.44" width="7.6" height="7.6" fill="none" stroke="#ff2020" stroke-width="1.15"/>
<rect x="159.28" y="63.77" width="7.6" height="7.6" fill="none" stroke="#ff2020" stroke-width="1.15"/>
<rect x="161.32" y="73.76" width="7.6" height="7.6" fill="none" stroke="#ff2020" stroke-width="1.15"/>
<rect x="163.36" y="70.78" width="7.6" height="7.6" fill="none" stroke="#ff2020" stroke-width="1.15"/>
<line x1="169.19" y1="70.78" x2="169.19" y2="86.16" stroke="#ff2020" stroke-width="0.9"/>
<line x1="166.99" y1="70.78" x2="171.39" y2="70.78" stroke="#ff2020" stroke-width="0.9"/>
<line x1="166.99" y1="86.16" x2="171.39" y2="86.16" stroke="#ff2020" stroke-width="0.9"/>
<rect x="165.39" y="74.67" width="7.6" height="7.6" fill="none" stroke="#ff2020" stroke-width="1.15"/>
<rect x="167.43" y="78.45" width="7.6" height="7.6" fill="none" stroke="#ff2020" stroke-width="1.15"/>
<rect x="169.47" y="75.81" width="7.6" height="7.6" fill="none" stroke="#ff2020" stroke-width="1.15"/>
<line x1="175.31" y1="69.88" x2="175.31" y2="85.43" stroke="#ff2020" stroke-width="0.9"/>
<line x1="173.11" y1="69.88" x2="177.51" y2="69.88" stroke="#ff2020" stroke-width="0.9"/>
<line x1="173.11" y1="85.43" x2="177.51" y2="85.43" stroke="#ff2020" stroke-width="0.9"/>
<rect x="171.51" y="73.86" width="7.6" height="7.6" fill="none" stroke="#ff2020" stroke-width="1.15"/>
<line x1="177.34" y1="73.45" x2="177.34" y2="85.39" stroke="#ff2020" stroke-width="0.9"/>
<line x1="175.14" y1="73.45" x2="179.54" y2="73.45" stroke="#ff2020" stroke-width="0.9"/>
<line x1="175.14" y1="85.39" x2="179.54" y2="85.39" stroke="#ff2020" stroke-width="0.9"/>
<rect x="173.54" y="75.62" width="7.6" height="7.6" fill="none" stroke="#ff2020" stroke-width="1.15"/>
<rect x="175.58" y="76.04" width="7.6" height="7.6" fill="none" stroke="#ff2020" stroke-width="1.15"/>
<rect x="177.62" y="73.17" width="7.6" height="7.6" fill="none" stroke="#ff2020" stroke-width="1.15"/>
<rect x="179.66" y="74.72" width="7.6" height="7.6" fill="none" stroke="#ff2020" stroke-width="1.15"/>
<rect x="181.69" y="78.44" width="7.6" height="7.6" fill="none" stroke="#ff2020" stroke-width="1.15"/>
<rect x="183.73" y="75.98" width="7.6" height="7.6" fill="none" stroke="#ff2020" stroke-width="1.15"/>
<line x1="189.57" y1="66.69" x2="189.57" y2="85.37" stroke="#ff2020" stroke-width="0.9"/>
<line x1="187.37" y1="66.69" x2="191.77" y2="66.69" stroke="#ff2020" stroke-width="0.9"/>
<line x1="187.37" y1="85.37" x2="191.77" y2="85.37" stroke="#ff2020" stroke-width="0.9"/>
<rect x="185.77" y="72.23" width="7.6" height="7.6" fill="none" stroke="#ff2020" stroke-width="1.15"/>
<rect x="187.81" y="73.98" width="7.6" height="7.6" fill="none" stroke="#ff2020" stroke-width="1.15"/>
<rect x="189.84" y="73.80" width="7.6" height="7.6" fill="none" stroke="#ff2020" stroke-width="1.15"/>
<rect x="191.88" y="75.95" width="7.6" height="7.6" fill="none" stroke="#ff2020" stroke-width="1.15"/>
<line x1="197.72" y1="71.15" x2="197.72" y2="87.90" stroke="#ff2020" stroke-width="0.9"/>
<line x1="195.52" y1="71.15" x2="199.92" y2="71.15" stroke="#ff2020" stroke-width="0.9"/>
<line x1="195.52" y1="87.90" x2="199.92" y2="87.90" stroke="#ff2020" stroke-width="0.9"/>
<rect x="193.92" y="75.72" width="7.6" height="7.6" fill="none" stroke="#ff2020" stroke-width="1.15"/>
<rect x="195.96" y="77.41" width="7.6" height="7.6" fill="none" stroke="#ff2020" stroke-width="1.15"/>
<rect x="198.00" y="72.76" width="7.6" height="7.6" fill="none" stroke="#ff2020" stroke-width="1.15"/>
<rect x="200.03" y="78.04" width="7.6" height="7.6" fill="none" stroke="#ff2020" stroke-width="1.15"/>
<rect x="202.07" y="76.36" width="7.6" height="7.6" fill="none" stroke="#ff2020" stroke-width="1.15"/>
<line x1="207.91" y1="69.97" x2="207.91" y2="85.16" stroke="#ff2020" stroke-width="0.9"/>
<line x1="205.71" y1="69.97" x2="210.11" y2="69.97" stroke="#ff2020" stroke-width="0.9"/>
<line x1="205.71" y1="85.16" x2="210.11" y2="85.16" stroke="#ff2020" stroke-width="0.9"/>
<rect x="204.11" y="73.76" width="7.6" height="7.6" fill="none" stroke="#ff2020" stroke-width="1.15"/>
<line x1="209.95" y1="67.50" x2="209.95" y2="87.25" stroke="#ff2020" stroke-width="0.9"/>
<line x1="207.75" y1="67.50" x2="212.15" y2="67.50" stroke="#ff2020" stroke-width="0.9"/>
<line x1="207.75" y1="87.25" x2="212.15" y2="87.25" stroke="#ff2020" stroke-width="0.9"/>
<rect x="206.15" y="73.58" width="7.6" height="7.6" fill="none" stroke="#ff2020" stroke-width="1.15"/>
<rect x="208.18" y="78.28" width="7.6" height="7.6" fill="none" stroke="#ff2020" stroke-width="1.15"/>
<rect x="210.22" y="76.47" width="7.6" height="7.6" fill="none" stroke="#ff2020" stroke-width="1.15"/>
<rect x="212.26" y="75.72" width="7.6" height="7.6" fill="none" stroke="#ff2020" stroke-width="1.15"/>
<rect x="214.30" y="75.89" width="7.6" height="7.6" fill="none" stroke="#ff2020" stroke-width="1.15"/>
<rect x="216.33" y="79.72" width="7.6" height="7.6" fill="none" stroke="#ff2020" stroke-width="1.15"/>
<line x1="222.17" y1="71.47" x2="222.17" y2="90.27" stroke="#ff2020" stroke-width="0.9"/>
<line x1="219.97" y1="71.47" x2="224.37" y2="71.47" stroke="#ff2020" stroke-width="0.9"/>
<line x1="219.97" y1="90.27" x2="224.37" y2="90.27" stroke="#ff2020" stroke-width="0.9"/>
<rect x="218.37" y="77.07" width="7.6" height="7.6" fill="none" stroke="#ff2020" stroke-width="1.15"/>
<rect x="220.41" y="77.71" width="7.6" height="7.6" fill="none" stroke="#ff2020" stroke-width="1.15"/>
<rect x="222.45" y="77.30" width="7.6" height="7.6" fill="none" stroke="#ff2020" stroke-width="1.15"/>
<rect x="224.48" y="77.82" width="7.6" height="7.6" fill="none" stroke="#ff2020" stroke-width="1.15"/>
<rect x="226.52" y="75.43" width="7.6" height="7.6" fill="none" stroke="#ff2020" stroke-width="1.15"/>
<rect x="228.56" y="82.76" width="7.6" height="7.6" fill="none" stroke="#ff2020" stroke-width="1.15"/>
<rect x="230.60" y="79.02" width="7.6" height="7.6" fill="none" stroke="#ff2020" stroke-width="1.15"/>
<line x1="236.44" y1="81.97" x2="236.44" y2="95.10" stroke="#ff2020" stroke-width="0.9"/>
<line x1="234.24" y1="81.97" x2="238.64" y2="81.97" stroke="#ff2020" stroke-width="0.9"/>
<line x1="234.24" y1="95.10" x2="238.64" y2="95.10" stroke="#ff2020" stroke-width="0.9"/>
<rect x="232.64" y="84.74" width="7.6" height="7.6" fill="none" stroke="#ff2020" stroke-width="1.15"/>
<rect x="234.67" y="85.14" width="7.6" height="7.6" fill="none" stroke="#ff2020" stroke-width="1.15"/>
<rect x="236.71" y="83.29" width="7.6" height="7.6" fill="none" stroke="#ff2020" stroke-width="1.15"/>
<line x1="242.55" y1="83.45" x2="242.55" y2="95.75" stroke="#ff2020" stroke-width="0.9"/>
<line x1="240.35" y1="83.45" x2="244.75" y2="83.45" stroke="#ff2020" stroke-width="0.9"/>
<line x1="240.35" y1="95.75" x2="244.75" y2="95.75" stroke="#ff2020" stroke-width="0.9"/>
<rect x="238.75" y="85.80" width="7.6" height="7.6" fill="none" stroke="#ff2020" stroke-width="1.15"/>
<rect x="240.79" y="84.22" width="7.6" height="7.6" fill="none" stroke="#ff2020" stroke-width="1.15"/>
<rect x="242.82" y="79.94" width="7.6" height="7.6" fill="none" stroke="#ff2020" stroke-width="1.15"/>
<rect x="244.86" y="85.12" width="7.6" height="7.6" fill="none" stroke="#ff2020" stroke-width="1.15"/>
<rect x="246.90" y="81.36" width="7.6" height="7.6" fill="none" stroke="#ff2020" stroke-width="1.15"/>
<line x1="252.74" y1="73.80" x2="252.74" y2="94.92" stroke="#ff2020" stroke-width="0.9"/>
<line x1="250.54" y1="73.80" x2="254.94" y2="73.80" stroke="#ff2020" stroke-width="0.9"/>
<line x1="250.54" y1="94.92" x2="254.94" y2="94.92" stroke="#ff2020" stroke-width="0.9"/>
<rect x="248.94" y="80.56" width="7.6" height="7.6" fill="none" stroke="#ff2020" stroke-width="1.15"/>
<rect x="250.97" y="81.17" width="7.6" height="7.6" fill="none" stroke="#ff2020" stroke-width="1.15"/>
<rect x="253.01" y="82.36" width="7.6" height="7.6" fill="none" stroke="#ff2020" stroke-width="1.15"/>
<rect x="255.05" y="85.32" width="7.6" height="7.6" fill="none" stroke="#ff2020" stroke-width="1.15"/>
<rect x="257.09" y="87.99" width="7.6" height="7.6" fill="none" stroke="#ff2020" stroke-width="1.15"/>
<rect x="259.12" y="85.55" width="7.6" height="7.6" fill="none" stroke="#ff2020" stroke-width="1.15"/>
<line x1="264.96" y1="81.06" x2="264.96" y2="97.81" stroke="#ff2020" stroke-width="0.9"/>
<line x1="262.76" y1="81.06" x2="267.16" y2="81.06" stroke="#ff2020" stroke-width="0.9"/>
<line x1="262.76" y1="97.81" x2="267.16" y2="97.81" stroke="#ff2020" stroke-width="0.9"/>
<rect x="261.16" y="85.63" width="7.6" height="7.6" fill="none" stroke="#ff2020" stroke-width="1.15"/>
<rect x="263.20" y="83.30" width="7.6" height="7.6" fill="none" stroke="#ff2020" stroke-width="1.15"/>
<rect x="265.24" y="83.69" width="7.6" height="7.6" fill="none" stroke="#ff2020" stroke-width="1.15"/>
<rect x="267.27" y="83.64" width="7.6" height="7.6" fill="none" stroke="#ff2020" stroke-width="1.15"/>
<rect x="269.31" y="88.27" width="7.6" height="7.6" fill="none" stroke="#ff2020" stroke-width="1.15"/>
<rect x="271.35" y="89.90" width="7.6" height="7.6" fill="none" stroke="#ff2020" stroke-width="1.15"/>
<rect x="273.39" y="80.55" width="7.6" height="7.6" fill="none" stroke="#ff2020" stroke-width="1.15"/>
<rect x="275.43" y="73.54" width="7.6" height="7.6" fill="none" stroke="#ff2020" stroke-width="1.15"/>
<rect x="277.46" y="74.23" width="7.6" height="7.6" fill="none" stroke="#ff2020" stroke-width="1.15"/>
<rect x="279.50" y="72.49" width="7.6" height="7.6" fill="none" stroke="#ff2020" stroke-width="1.15"/>
<rect x="281.54" y="74.00" width="7.6" height="7.6" fill="none" stroke="#ff2020" stroke-width="1.15"/>
<rect x="283.58" y="74.40" width="7.6" height="7.6" fill="none" stroke="#ff2020" stroke-width="1.15"/>
<rect x="285.61" y="70.12" width="7.6" height="7.6" fill="none" stroke="#ff2020" stroke-width="1.15"/>
<rect x="287.65" y="70.83" width="7.6" height="7.6" fill="none" stroke="#ff2020" stroke-width="1.15"/>
<rect x="289.69" y="76.21" width="7.6" height="7.6" fill="none" stroke="#ff2020" stroke-width="1.15"/>
<rect x="291.73" y="73.41" width="7.6" height="7.6" fill="none" stroke="#ff2020" stroke-width="1.15"/>
<rect x="293.76" y="78.61" width="7.6" height="7.6" fill="none" stroke="#ff2020" stroke-width="1.15"/>
<rect x="295.80" y="78.22" width="7.6" height="7.6" fill="none" stroke="#ff2020" stroke-width="1.15"/>
<rect x="297.84" y="76.05" width="7.6" height="7.6" fill="none" stroke="#ff2020" stroke-width="1.15"/>
<rect x="299.88" y="77.31" width="7.6" height="7.6" fill="none" stroke="#ff2020" stroke-width="1.15"/>
<rect x="301.91" y="74.68" width="7.6" height="7.6" fill="none" stroke="#ff2020" stroke-width="1.15"/>
<rect x="303.95" y="76.32" width="7.6" height="7.6" fill="none" stroke="#ff2020" stroke-width="1.15"/>
<rect x="305.99" y="73.42" width="7.6" height="7.6" fill="none" stroke="#ff2020" stroke-width="1.15"/>
<rect x="308.03" y="70.83" width="7.6" height="7.6" fill="none" stroke="#ff2020" stroke-width="1.15"/>
<rect x="310.07" y="70.73" width="7.6" height="7.6" fill="none" stroke="#ff2020" stroke-width="1.15"/>
<rect x="312.10" y="73.73" width="7.6" height="7.6" fill="none" stroke="#ff2020" stroke-width="1.15"/>
<line x1="317.94" y1="66.68" x2="317.94" y2="85.43" stroke="#ff2020" stroke-width="0.9"/>
<line x1="315.74" y1="66.68" x2="320.14" y2="66.68" stroke="#ff2020" stroke-width="0.9"/>
<line x1="315.74" y1="85.43" x2="320.14" y2="85.43" stroke="#ff2020" stroke-width="0.9"/>
<rect x="314.14" y="72.26" width="7.6" height="7.6" fill="none" stroke="#ff2020" stroke-width="1.15"/>
<rect x="316.18" y="67.36" width="7.6" height="7.6" fill="none" stroke="#ff2020" stroke-width="1.15"/>
<rect x="318.22" y="63.90" width="7.6" height="7.6" fill="none" stroke="#ff2020" stroke-width="1.15"/>
<rect x="98" y="126" width="200" height="46" fill="#fff"/>
<circle cx="106.00" cy="135.40" r="3.6" fill="none" stroke="#2020ff" stroke-width="1.15"/>
<text x="113.00" y="140.40" font-size="13.70" text-anchor="start" font-weight="normal" fill="#000" transform="matrix(1 0 0 1.06 0 -8.424)">Groundwater</text>
<path d="M106.00 145.60L110.00 149.60L106.00 153.60L102.00 149.60Z" fill="none" stroke="#111" stroke-width="1.05"/>
<text x="113.00" y="154.60" font-size="13.70" text-anchor="start" font-weight="normal" fill="#000" transform="matrix(1 0 0 1.06 0 -9.276)">Groundwater+0.1 mg/L PFOA</text>
<rect x="102.40" y="160.20" width="7.2" height="7.2" fill="none" stroke="#ff2020" stroke-width="1.15"/>
<text x="113.00" y="168.80" font-size="13.70" text-anchor="start" font-weight="normal" fill="#000" transform="matrix(1 0 0 1.06 0 -10.128)">Groundwater+10 mg/L PFOA</text>
<rect x="404.80" y="9.50" width="263.70" height="174.80" fill="none" stroke="#404040" stroke-width="1.3"/>
<line x1="400.30" y1="184.30" x2="404.80" y2="184.30" stroke="#404040" stroke-width="1.2"/>
<text x="391.50" y="189.70" font-size="15.20" text-anchor="end" font-weight="normal" fill="#111" transform="matrix(1 0 0 1.06 0 -11.382)">0</text>
<line x1="400.30" y1="150.60" x2="404.80" y2="150.60" stroke="#404040" stroke-width="1.2"/>
<text x="391.50" y="156.00" font-size="15.20" text-anchor="end" font-weight="normal" fill="#111" transform="matrix(1 0 0 1.06 0 -9.360)">5</text>
<line x1="400.30" y1="116.90" x2="404.80" y2="116.90" stroke="#404040" stroke-width="1.2"/>
<text x="391.50" y="122.30" font-size="15.20" text-anchor="end" font-weight="normal" fill="#111" transform="matrix(1 0 0 1.06 0 -7.338)">10</text>
<line x1="400.30" y1="83.20" x2="404.80" y2="83.20" stroke="#404040" stroke-width="1.2"/>
<text x="391.50" y="88.60" font-size="15.20" text-anchor="end" font-weight="normal" fill="#111" transform="matrix(1 0 0 1.06 0 -5.316)">15</text>
<line x1="400.30" y1="49.50" x2="404.80" y2="49.50" stroke="#404040" stroke-width="1.2"/>
<text x="391.50" y="54.90" font-size="15.20" text-anchor="end" font-weight="normal" fill="#111" transform="matrix(1 0 0 1.06 0 -3.294)">20</text>
<line x1="400.30" y1="15.80" x2="404.80" y2="15.80" stroke="#404040" stroke-width="1.2"/>
<text x="391.50" y="21.20" font-size="15.20" text-anchor="end" font-weight="normal" fill="#111" transform="matrix(1 0 0 1.06 0 -1.272)">25</text>
<line x1="404.80" y1="184.30" x2="404.80" y2="188.80" stroke="#404040" stroke-width="1.2"/>
<text x="404.80" y="208.60" font-size="15.20" text-anchor="middle" font-weight="normal" fill="#111" transform="matrix(1 0 0 1.06 0 -12.516)">0</text>
<line x1="446.82" y1="184.30" x2="446.82" y2="188.80" stroke="#404040" stroke-width="1.2"/>
<text x="446.82" y="208.60" font-size="15.20" text-anchor="middle" font-weight="normal" fill="#111" transform="matrix(1 0 0 1.06 0 -12.516)">20</text>
<line x1="488.85" y1="184.30" x2="488.85" y2="188.80" stroke="#404040" stroke-width="1.2"/>
<text x="488.85" y="208.60" font-size="15.20" text-anchor="middle" font-weight="normal" fill="#111" transform="matrix(1 0 0 1.06 0 -12.516)">40</text>
<line x1="530.87" y1="184.30" x2="530.87" y2="188.80" stroke="#404040" stroke-width="1.2"/>
<text x="530.87" y="208.60" font-size="15.20" text-anchor="middle" font-weight="normal" fill="#111" transform="matrix(1 0 0 1.06 0 -12.516)">60</text>
<line x1="572.90" y1="184.30" x2="572.90" y2="188.80" stroke="#404040" stroke-width="1.2"/>
<text x="572.90" y="208.60" font-size="15.20" text-anchor="middle" font-weight="normal" fill="#111" transform="matrix(1 0 0 1.06 0 -12.516)">80</text>
<line x1="614.92" y1="184.30" x2="614.92" y2="188.80" stroke="#404040" stroke-width="1.2"/>
<text x="614.92" y="208.60" font-size="15.20" text-anchor="middle" font-weight="normal" fill="#111" transform="matrix(1 0 0 1.06 0 -12.516)">100</text>
<line x1="656.94" y1="184.30" x2="656.94" y2="188.80" stroke="#404040" stroke-width="1.2"/>
<text x="656.94" y="208.60" font-size="15.20" text-anchor="middle" font-weight="normal" fill="#111" transform="matrix(1 0 0 1.06 0 -12.516)">120</text>
<text x="535.90" y="229.90" font-size="15.50" text-anchor="middle" font-weight="normal" fill="#000" transform="matrix(1 0 0 1.06 0 -13.794)">Time (h)</text>
<text x="369.30" y="96.60" font-size="15.47" text-anchor="middle" font-weight="normal" fill="#000" transform="translate(369.30 96.60) rotate(-90) scale(1.06 1) translate(-369.30 -96.60)">Flux (kg/m<tspan font-size="10.5" dy="-6">2</tspan><tspan dy="6">/h)</tspan></text>
<text x="414.70" y="28.20" font-size="15.20" text-anchor="start" font-weight="normal" fill="#000" transform="matrix(1 0 0 1.06 0 -1.692)">PVDF</text>
<text x="344.20" y="18.80" font-size="19.00" text-anchor="start" font-weight="bold" fill="#000" transform="matrix(1 0 0 1.06 0 -1.128)">e</text>
<path d="M404.80 118.12L408.70 122.02L404.80 125.92L400.90 122.02Z" fill="none" stroke="#111" stroke-width="0.95"/>
<path d="M406.90 115.31L410.80 119.21L406.90 123.11L403.00 119.21Z" fill="none" stroke="#111" stroke-width="0.95"/>
<path d="M409.00 116.90L412.90 120.80L409.00 124.70L405.10 120.80Z" fill="none" stroke="#111" stroke-width="0.95"/>
<path d="M411.10 117.73L415.00 121.63L411.10 125.53L407.20 121.63Z" fill="none" stroke="#111" stroke-width="0.95"/>
<path d="M413.20 114.68L417.10 118.58L413.20 122.48L409.30 118.58Z" fill="none" stroke="#111" stroke-width="0.95"/>
<path d="M415.31 118.51L419.21 122.41L415.31 126.31L411.41 122.41Z" fill="none" stroke="#111" stroke-width="0.95"/>
<path d="M417.41 119.31L421.31 123.21L417.41 127.11L413.51 123.21Z" fill="none" stroke="#111" stroke-width="0.95"/>
<path d="M419.51 118.03L423.41 121.93L419.51 125.83L415.61 121.93Z" fill="none" stroke="#111" stroke-width="0.95"/>
<path d="M421.61 118.06L425.51 121.96L421.61 125.86L417.71 121.96Z" fill="none" stroke="#111" stroke-width="0.95"/>
<path d="M423.71 120.52L427.61 124.42L423.71 128.32L419.81 124.42Z" fill="none" stroke="#111" stroke-width="0.95"/>
<path d="M425.81 119.72L429.71 123.62L425.81 127.52L421.91 123.62Z" fill="none" stroke="#111" stroke-width="0.95"/>
<path d="M427.91 120.62L431.81 124.52L427.91 128.42L424.01 124.52Z" fill="none" stroke="#111" stroke-width="0.95"/>
<path d="M430.01 119.45L433.91 123.35L430.01 127.25L426.11 123.35Z" fill="none" stroke="#111" stroke-width="0.95"/>
<path d="M432.12 120.14L436.02 124.04L432.12 127.94L428.22 124.04Z" fill="none" stroke="#111" stroke-width="0.95"/>
<path d="M434.22 119.12L438.12 123.02L434.22 126.92L430.32 123.02Z" fill="none" stroke="#111" stroke-width="0.95"/>
<path d="M436.32 122.93L440.22 126.83L436.32 130.73L432.42 126.83Z" fill="none" stroke="#111" stroke-width="0.95"/>
<path d="M438.42 121.23L442.32 125.13L438.42 129.03L434.52 125.13Z" fill="none" stroke="#111" stroke-width="0.95"/>
<path d="M440.52 121.50L444.42 125.40L440.52 129.30L436.62 125.40Z" fill="none" stroke="#111" stroke-width="0.95"/>
<path d="M442.62 118.68L446.52 122.58L442.62 126.48L438.72 122.58Z" fill="none" stroke="#111" stroke-width="0.95"/>
<path d="M444.72 118.48L448.62 122.38L444.72 126.28L440.82 122.38Z" fill="none" stroke="#111" stroke-width="0.95"/>
<path d="M446.82 119.22L450.72 123.12L446.82 127.02L442.92 123.12Z" fill="none" stroke="#111" stroke-width="0.95"/>
<path d="M448.93 122.11L452.83 126.01L448.93 129.91L445.03 126.01Z" fill="none" stroke="#111" stroke-width="0.95"/>
<path d="M451.03 119.79L454.93 123.69L451.03 127.59L447.13 123.69Z" fill="none" stroke="#111" stroke-width="0.95"/>
<path d="M453.13 119.91L457.03 123.81L453.13 127.71L449.23 123.81Z" fill="none" stroke="#111" stroke-width="0.95"/>
<path d="M455.23 118.48L459.13 122.38L455.23 126.28L451.33 122.38Z" fill="none" stroke="#111" stroke-width="0.95"/>
<path d="M457.33 116.60L461.23 120.50L457.33 124.40L453.43 120.50Z" fill="none" stroke="#111" stroke-width="0.95"/>
<path d="M459.43 121.01L463.33 124.91L459.43 128.81L455.53 124.91Z" fill="none" stroke="#111" stroke-width="0.95"/>
<path d="M461.53 117.82L465.43 121.72L461.53 125.62L457.63 121.72Z" fill="none" stroke="#111" stroke-width="0.95"/>
<path d="M463.63 120.22L467.53 124.12L463.63 128.02L459.73 124.12Z" fill="none" stroke="#111" stroke-width="0.95"/>
<path d="M465.73 121.12L469.63 125.02L465.73 128.92L461.83 125.02Z" fill="none" stroke="#111" stroke-width="0.95"/>
<path d="M467.84 121.44L471.74 125.34L467.84 129.24L463.94 125.34Z" fill="none" stroke="#111" stroke-width="0.95"/>
<path d="M469.94 120.25L473.84 124.15L469.94 128.05L466.04 124.15Z" fill="none" stroke="#111" stroke-width="0.95"/>
<path d="M472.04 125.05L475.94 128.95L472.04 132.85L468.14 128.95Z" fill="none" stroke="#111" stroke-width="0.95"/>
<path d="M474.14 121.68L478.04 125.58L474.14 129.48L470.24 125.58Z" fill="none" stroke="#111" stroke-width="0.95"/>
<path d="M476.24 122.16L480.14 126.06L476.24 129.96L472.34 126.06Z" fill="none" stroke="#111" stroke-width="0.95"/>
<path d="M478.34 120.59L482.24 124.49L478.34 128.39L474.44 124.49Z" fill="none" stroke="#111" stroke-width="0.95"/>
<path d="M480.44 124.01L484.34 127.91L480.44 131.81L476.54 127.91Z" fill="none" stroke="#111" stroke-width="0.95"/>
<path d="M482.54 125.03L486.44 128.93L482.54 132.83L478.64 128.93Z" fill="none" stroke="#111" stroke-width="0.95"/>
<path d="M484.65 122.34L488.55 126.24L484.65 130.14L480.75 126.24Z" fill="none" stroke="#111" stroke-width="0.95"/>
<path d="M486.75 122.43L490.65 126.33L486.75 130.23L482.85 126.33Z" fill="none" stroke="#111" stroke-width="0.95"/>
<path d="M488.85 119.01L492.75 122.91L488.85 126.81L484.95 122.91Z" fill="none" stroke="#111" stroke-width="0.95"/>
<path d="M490.95 121.82L494.85 125.72L490.95 129.62L487.05 125.72Z" fill="none" stroke="#111" stroke-width="0.95"/>
<path d="M493.05 121.71L496.95 125.61L493.05 129.51L489.15 125.61Z" fill="none" stroke="#111" stroke-width="0.95"/>
<path d="M495.15 122.08L499.05 125.98L495.15 129.88L491.25 125.98Z" fill="none" stroke="#111" stroke-width="0.95"/>
<path d="M497.25 122.09L501.15 125.99L497.25 129.89L493.35 125.99Z" fill="none" stroke="#111" stroke-width="0.95"/>
<path d="M499.35 123.35L503.25 127.25L499.35 131.15L495.45 127.25Z" fill="none" stroke="#111" stroke-width="0.95"/>
<path d="M501.45 122.02L505.35 125.92L501.45 129.82L497.55 125.92Z" fill="none" stroke="#111" stroke-width="0.95"/>
<path d="M503.56 123.75L507.46 127.65L503.56 131.55L499.66 127.65Z" fill="none" stroke="#111" stroke-width="0.95"/>
<path d="M505.66 121.74L509.56 125.64L505.66 129.54L501.76 125.64Z" fill="none" stroke="#111" stroke-width="0.95"/>
<path d="M507.76 122.45L511.66 126.35L507.76 130.25L503.86 126.35Z" fill="none" stroke="#111" stroke-width="0.95"/>
<path d="M509.86 125.51L513.76 129.41L509.86 133.31L505.96 129.41Z" fill="none" stroke="#111" stroke-width="0.95"/>
<path d="M511.96 122.04L515.86 125.94L511.96 129.84L508.06 125.94Z" fill="none" stroke="#111" stroke-width="0.95"/>
<path d="M514.06 125.60L517.96 129.50L514.06 133.40L510.16 129.50Z" fill="none" stroke="#111" stroke-width="0.95"/>
<path d="M516.16 127.84L520.06 131.74L516.16 135.64L512.26 131.74Z" fill="none" stroke="#111" stroke-width="0.95"/>
<path d="M518.26 125.64L522.16 129.54L518.26 133.44L514.36 129.54Z" fill="none" stroke="#111" stroke-width="0.95"/>
<path d="M520.37 127.93L524.27 131.83L520.37 135.73L516.47 131.83Z" fill="none" stroke="#111" stroke-width="0.95"/>
<path d="M522.47 129.72L526.37 133.62L522.47 137.52L518.57 133.62Z" fill="none" stroke="#111" stroke-width="0.95"/>
<path d="M524.57 127.67L528.47 131.57L524.57 135.47L520.67 131.57Z" fill="none" stroke="#111" stroke-width="0.95"/>
<path d="M526.67 125.61L530.57 129.51L526.67 133.41L522.77 129.51Z" fill="none" stroke="#111" stroke-width="0.95"/>
<path d="M528.77 126.66L532.67 130.56L528.77 134.46L524.87 130.56Z" fill="none" stroke="#111" stroke-width="0.95"/>
<path d="M530.87 130.47L534.77 134.37L530.87 138.27L526.97 134.37Z" fill="none" stroke="#111" stroke-width="0.95"/>
<path d="M532.97 126.33L536.87 130.23L532.97 134.13L529.07 130.23Z" fill="none" stroke="#111" stroke-width="0.95"/>
<path d="M535.07 127.97L538.97 131.87L535.07 135.77L531.17 131.87Z" fill="none" stroke="#111" stroke-width="0.95"/>
<path d="M537.18 127.12L541.08 131.02L537.18 134.92L533.28 131.02Z" fill="none" stroke="#111" stroke-width="0.95"/>
<path d="M539.28 124.76L543.18 128.66L539.28 132.56L535.38 128.66Z" fill="none" stroke="#111" stroke-width="0.95"/>
<path d="M541.38 128.58L545.28 132.48L541.38 136.38L537.48 132.48Z" fill="none" stroke="#111" stroke-width="0.95"/>
<path d="M543.48 127.39L547.38 131.29L543.48 135.19L539.58 131.29Z" fill="none" stroke="#111" stroke-width="0.95"/>
<path d="M545.58 129.44L549.48 133.34L545.58 137.24L541.68 133.34Z" fill="none" stroke="#111" stroke-width="0.95"/>
<path d="M547.68 130.83L551.58 134.73L547.68 138.63L543.78 134.73Z" fill="none" stroke="#111" stroke-width="0.95"/>
<path d="M549.78 126.17L553.68 130.07L549.78 133.97L545.88 130.07Z" fill="none" stroke="#111" stroke-width="0.95"/>
<path d="M551.88 122.72L555.78 126.62L551.88 130.52L547.98 126.62Z" fill="none" stroke="#111" stroke-width="0.95"/>
<path d="M553.98 125.52L557.88 129.42L553.98 133.32L550.08 129.42Z" fill="none" stroke="#111" stroke-width="0.95"/>
<path d="M556.09 126.40L559.99 130.30L556.09 134.20L552.19 130.30Z" fill="none" stroke="#111" stroke-width="0.95"/>
<path d="M558.19 127.58L562.09 131.48L558.19 135.38L554.29 131.48Z" fill="none" stroke="#111" stroke-width="0.95"/>
<path d="M560.29 132.69L564.19 136.59L560.29 140.49L556.39 136.59Z" fill="none" stroke="#111" stroke-width="0.95"/>
<path d="M562.39 125.26L566.29 129.16L562.39 133.06L558.49 129.16Z" fill="none" stroke="#111" stroke-width="0.95"/>
<path d="M564.49 123.12L568.39 127.02L564.49 130.92L560.59 127.02Z" fill="none" stroke="#111" stroke-width="0.95"/>
<path d="M566.59 127.52L570.49 131.42L566.59 135.32L562.69 131.42Z" fill="none" stroke="#111" stroke-width="0.95"/>
<path d="M568.69 128.03L572.59 131.93L568.69 135.83L564.79 131.93Z" fill="none" stroke="#111" stroke-width="0.95"/>
<path d="M570.79 126.49L574.69 130.39L570.79 134.29L566.89 130.39Z" fill="none" stroke="#111" stroke-width="0.95"/>
<path d="M572.90 126.37L576.80 130.27L572.90 134.17L569.00 130.27Z" fill="none" stroke="#111" stroke-width="0.95"/>
<path d="M575.00 123.96L578.90 127.86L575.00 131.76L571.10 127.86Z" fill="none" stroke="#111" stroke-width="0.95"/>
<path d="M577.10 123.35L581.00 127.25L577.10 131.15L573.20 127.25Z" fill="none" stroke="#111" stroke-width="0.95"/>
<path d="M579.20 123.37L583.10 127.27L579.20 131.17L575.30 127.27Z" fill="none" stroke="#111" stroke-width="0.95"/>
<path d="M581.30 117.29L585.20 121.19L581.30 125.09L577.40 121.19Z" fill="none" stroke="#111" stroke-width="0.95"/>
<path d="M583.40 117.25L587.30 121.15L583.40 125.05L579.50 121.15Z" fill="none" stroke="#111" stroke-width="0.95"/>
<path d="M585.50 117.81L589.40 121.71L585.50 125.61L581.60 121.71Z" fill="none" stroke="#111" stroke-width="0.95"/>
<path d="M587.60 117.16L591.50 121.06L587.60 124.96L583.70 121.06Z" fill="none" stroke="#111" stroke-width="0.95"/>
<path d="M589.71 115.54L593.61 119.44L589.71 123.34L585.81 119.44Z" fill="none" stroke="#111" stroke-width="0.95"/>
<path d="M591.81 118.98L595.71 122.88L591.81 126.78L587.91 122.88Z" fill="none" stroke="#111" stroke-width="0.95"/>
<path d="M593.91 114.06L597.81 117.96L593.91 121.86L590.01 117.96Z" fill="none" stroke="#111" stroke-width="0.95"/>
<path d="M596.01 117.58L599.91 121.48L596.01 125.38L592.11 121.48Z" fill="none" stroke="#111" stroke-width="0.95"/>
<path d="M598.11 120.51L602.01 124.41L598.11 128.31L594.21 124.41Z" fill="none" stroke="#111" stroke-width="0.95"/>
<path d="M600.21 123.17L604.11 127.07L600.21 130.97L596.31 127.07Z" fill="none" stroke="#111" stroke-width="0.95"/>
<path d="M602.31 127.39L606.21 131.29L602.31 135.19L598.41 131.29Z" fill="none" stroke="#111" stroke-width="0.95"/>
<path d="M604.41 122.21L608.31 126.11L604.41 130.01L600.51 126.11Z" fill="none" stroke="#111" stroke-width="0.95"/>
<path d="M606.51 125.75L610.41 129.65L606.51 133.55L602.61 129.65Z" fill="none" stroke="#111" stroke-width="0.95"/>
<path d="M608.62 126.35L612.52 130.25L608.62 134.15L604.72 130.25Z" fill="none" stroke="#111" stroke-width="0.95"/>
<path d="M610.72 125.24L614.62 129.14L610.72 133.04L606.82 129.14Z" fill="none" stroke="#111" stroke-width="0.95"/>
<path d="M612.82 125.09L616.72 128.99L612.82 132.89L608.92 128.99Z" fill="none" stroke="#111" stroke-width="0.95"/>
<path d="M614.92 129.03L618.82 132.93L614.92 136.83L611.02 132.93Z" fill="none" stroke="#111" stroke-width="0.95"/>
<path d="M617.02 127.36L620.92 131.26L617.02 135.16L613.12 131.26Z" fill="none" stroke="#111" stroke-width="0.95"/>
<path d="M619.12 125.39L623.02 129.29L619.12 133.19L615.22 129.29Z" fill="none" stroke="#111" stroke-width="0.95"/>
<path d="M621.22 127.99L625.12 131.89L621.22 135.79L617.32 131.89Z" fill="none" stroke="#111" stroke-width="0.95"/>
<path d="M623.32 125.91L627.22 129.81L623.32 133.71L619.42 129.81Z" fill="none" stroke="#111" stroke-width="0.95"/>
<path d="M625.43 125.52L629.33 129.42L625.43 133.32L621.53 129.42Z" fill="none" stroke="#111" stroke-width="0.95"/>
<path d="M627.53 126.68L631.43 130.58L627.53 134.48L623.63 130.58Z" fill="none" stroke="#111" stroke-width="0.95"/>
<path d="M629.63 124.66L633.53 128.56L629.63 132.46L625.73 128.56Z" fill="none" stroke="#111" stroke-width="0.95"/>
<path d="M631.73 128.27L635.63 132.17L631.73 136.07L627.83 132.17Z" fill="none" stroke="#111" stroke-width="0.95"/>
<path d="M633.83 126.08L637.73 129.98L633.83 133.88L629.93 129.98Z" fill="none" stroke="#111" stroke-width="0.95"/>
<path d="M635.93 123.68L639.83 127.58L635.93 131.48L632.03 127.58Z" fill="none" stroke="#111" stroke-width="0.95"/>
<path d="M638.03 124.69L641.93 128.59L638.03 132.49L634.13 128.59Z" fill="none" stroke="#111" stroke-width="0.95"/>
<path d="M640.13 123.41L644.03 127.31L640.13 131.21L636.23 127.31Z" fill="none" stroke="#111" stroke-width="0.95"/>
<path d="M642.24 124.46L646.14 128.36L642.24 132.26L638.34 128.36Z" fill="none" stroke="#111" stroke-width="0.95"/>
<path d="M644.34 126.57L648.24 130.47L644.34 134.37L640.44 130.47Z" fill="none" stroke="#111" stroke-width="0.95"/>
<path d="M646.44 123.77L650.34 127.67L646.44 131.57L642.54 127.67Z" fill="none" stroke="#111" stroke-width="0.95"/>
<path d="M648.54 131.31L652.44 135.21L648.54 139.11L644.64 135.21Z" fill="none" stroke="#111" stroke-width="0.95"/>
<path d="M650.64 126.81L654.54 130.71L650.64 134.61L646.74 130.71Z" fill="none" stroke="#111" stroke-width="0.95"/>
<path d="M652.74 127.78L656.64 131.68L652.74 135.58L648.84 131.68Z" fill="none" stroke="#111" stroke-width="0.95"/>
<path d="M654.84 129.20L658.74 133.10L654.84 137.00L650.94 133.10Z" fill="none" stroke="#111" stroke-width="0.95"/>
<path d="M656.94 128.11L660.84 132.01L656.94 135.91L653.04 132.01Z" fill="none" stroke="#111" stroke-width="0.95"/>
<circle cx="404.80" cy="118.96" r="3.4" fill="none" stroke="#2020ff" stroke-width="1.0"/>
<circle cx="406.90" cy="121.67" r="3.4" fill="none" stroke="#2020ff" stroke-width="1.0"/>
<circle cx="409.00" cy="118.58" r="3.4" fill="none" stroke="#2020ff" stroke-width="1.0"/>
<circle cx="411.10" cy="120.27" r="3.4" fill="none" stroke="#2020ff" stroke-width="1.0"/>
<circle cx="413.20" cy="119.53" r="3.4" fill="none" stroke="#2020ff" stroke-width="1.0"/>
<circle cx="415.31" cy="120.49" r="3.4" fill="none" stroke="#2020ff" stroke-width="1.0"/>
<circle cx="417.41" cy="118.13" r="3.4" fill="none" stroke="#2020ff" stroke-width="1.0"/>
<circle cx="419.51" cy="117.57" r="3.4" fill="none" stroke="#2020ff" stroke-width="1.0"/>
<circle cx="421.61" cy="123.35" r="3.4" fill="none" stroke="#2020ff" stroke-width="1.0"/>
<circle cx="423.71" cy="117.57" r="3.4" fill="none" stroke="#2020ff" stroke-width="1.0"/>
<circle cx="425.81" cy="119.57" r="3.4" fill="none" stroke="#2020ff" stroke-width="1.0"/>
<circle cx="427.91" cy="122.78" r="3.4" fill="none" stroke="#2020ff" stroke-width="1.0"/>
<circle cx="430.01" cy="124.08" r="3.4" fill="none" stroke="#2020ff" stroke-width="1.0"/>
<circle cx="432.12" cy="121.90" r="3.4" fill="none" stroke="#2020ff" stroke-width="1.0"/>
<circle cx="434.22" cy="121.88" r="3.4" fill="none" stroke="#2020ff" stroke-width="1.0"/>
<circle cx="436.32" cy="123.36" r="3.4" fill="none" stroke="#2020ff" stroke-width="1.0"/>
<circle cx="438.42" cy="121.61" r="3.4" fill="none" stroke="#2020ff" stroke-width="1.0"/>
<circle cx="440.52" cy="123.40" r="3.4" fill="none" stroke="#2020ff" stroke-width="1.0"/>
<circle cx="442.62" cy="121.85" r="3.4" fill="none" stroke="#2020ff" stroke-width="1.0"/>
<circle cx="444.72" cy="123.66" r="3.4" fill="none" stroke="#2020ff" stroke-width="1.0"/>
<circle cx="446.82" cy="121.69" r="3.4" fill="none" stroke="#2020ff" stroke-width="1.0"/>
<circle cx="448.93" cy="122.84" r="3.4" fill="none" stroke="#2020ff" stroke-width="1.0"/>
<circle cx="451.03" cy="122.70" r="3.4" fill="none" stroke="#2020ff" stroke-width="1.0"/>
<circle cx="453.13" cy="122.04" r="3.4" fill="none" stroke="#2020ff" stroke-width="1.0"/>
<circle cx="455.23" cy="123.70" r="3.4" fill="none" stroke="#2020ff" stroke-width="1.0"/>
<rect x="401.50" y="120.98" width="6.6" height="6.6" fill="none" stroke="#ff2020" stroke-width="1.0"/>
<rect x="403.60" y="122.39" width="6.6" height="6.6" fill="none" stroke="#ff2020" stroke-width="1.0"/>
<rect x="405.70" y="124.52" width="6.6" height="6.6" fill="none" stroke="#ff2020" stroke-width="1.0"/>
<rect x="407.80" y="125.64" width="6.6" height="6.6" fill="none" stroke="#ff2020" stroke-width="1.0"/>
<rect x="409.90" y="124.34" width="6.6" height="6.6" fill="none" stroke="#ff2020" stroke-width="1.0"/>
<rect x="412.01" y="125.21" width="6.6" height="6.6" fill="none" stroke="#ff2020" stroke-width="1.0"/>
<rect x="414.11" y="126.18" width="6.6" height="6.6" fill="none" stroke="#ff2020" stroke-width="1.0"/>
<rect x="416.21" y="127.58" width="6.6" height="6.6" fill="none" stroke="#ff2020" stroke-width="1.0"/>
<rect x="418.31" y="128.16" width="6.6" height="6.6" fill="none" stroke="#ff2020" stroke-width="1.0"/>
<rect x="420.41" y="129.35" width="6.6" height="6.6" fill="none" stroke="#ff2020" stroke-width="1.0"/>
<rect x="422.51" y="127.54" width="6.6" height="6.6" fill="none" stroke="#ff2020" stroke-width="1.0"/>
<rect x="424.61" y="129.49" width="6.6" height="6.6" fill="none" stroke="#ff2020" stroke-width="1.0"/>
<rect x="426.71" y="126.15" width="6.6" height="6.6" fill="none" stroke="#ff2020" stroke-width="1.0"/>
<rect x="428.82" y="124.14" width="6.6" height="6.6" fill="none" stroke="#ff2020" stroke-width="1.0"/>
<rect x="430.92" y="133.84" width="6.6" height="6.6" fill="none" stroke="#ff2020" stroke-width="1.0"/>
<rect x="433.02" y="128.95" width="6.6" height="6.6" fill="none" stroke="#ff2020" stroke-width="1.0"/>
<rect x="435.12" y="130.18" width="6.6" height="6.6" fill="none" stroke="#ff2020" stroke-width="1.0"/>
<rect x="437.22" y="132.22" width="6.6" height="6.6" fill="none" stroke="#ff2020" stroke-width="1.0"/>
<rect x="439.32" y="127.24" width="6.6" height="6.6" fill="none" stroke="#ff2020" stroke-width="1.0"/>
<rect x="441.42" y="130.20" width="6.6" height="6.6" fill="none" stroke="#ff2020" stroke-width="1.0"/>
<rect x="443.52" y="128.81" width="6.6" height="6.6" fill="none" stroke="#ff2020" stroke-width="1.0"/>
<rect x="445.63" y="131.98" width="6.6" height="6.6" fill="none" stroke="#ff2020" stroke-width="1.0"/>
<rect x="447.73" y="132.67" width="6.6" height="6.6" fill="none" stroke="#ff2020" stroke-width="1.0"/>
<rect x="449.83" y="130.95" width="6.6" height="6.6" fill="none" stroke="#ff2020" stroke-width="1.0"/>
<rect x="451.93" y="127.63" width="6.6" height="6.6" fill="none" stroke="#ff2020" stroke-width="1.0"/>
<rect x="454.03" y="134.01" width="6.6" height="6.6" fill="none" stroke="#ff2020" stroke-width="1.0"/>
<rect x="456.13" y="130.12" width="6.6" height="6.6" fill="none" stroke="#ff2020" stroke-width="1.0"/>
<rect x="458.23" y="127.79" width="6.6" height="6.6" fill="none" stroke="#ff2020" stroke-width="1.0"/>
<rect x="460.33" y="134.61" width="6.6" height="6.6" fill="none" stroke="#ff2020" stroke-width="1.0"/>
<rect x="462.43" y="124.55" width="6.6" height="6.6" fill="none" stroke="#ff2020" stroke-width="1.0"/>
<rect x="464.54" y="131.70" width="6.6" height="6.6" fill="none" stroke="#ff2020" stroke-width="1.0"/>
<rect x="466.64" y="127.78" width="6.6" height="6.6" fill="none" stroke="#ff2020" stroke-width="1.0"/>
<rect x="468.74" y="130.27" width="6.6" height="6.6" fill="none" stroke="#ff2020" stroke-width="1.0"/>
<rect x="470.84" y="128.63" width="6.6" height="6.6" fill="none" stroke="#ff2020" stroke-width="1.0"/>
<rect x="472.94" y="130.03" width="6.6" height="6.6" fill="none" stroke="#ff2020" stroke-width="1.0"/>
<rect x="475.04" y="131.99" width="6.6" height="6.6" fill="none" stroke="#ff2020" stroke-width="1.0"/>
<rect x="477.14" y="126.35" width="6.6" height="6.6" fill="none" stroke="#ff2020" stroke-width="1.0"/>
<rect x="479.24" y="127.95" width="6.6" height="6.6" fill="none" stroke="#ff2020" stroke-width="1.0"/>
<rect x="481.35" y="126.16" width="6.6" height="6.6" fill="none" stroke="#ff2020" stroke-width="1.0"/>
<rect x="483.45" y="126.87" width="6.6" height="6.6" fill="none" stroke="#ff2020" stroke-width="1.0"/>
<rect x="485.55" y="126.69" width="6.6" height="6.6" fill="none" stroke="#ff2020" stroke-width="1.0"/>
<rect x="487.65" y="125.04" width="6.6" height="6.6" fill="none" stroke="#ff2020" stroke-width="1.0"/>
<rect x="489.75" y="126.69" width="6.6" height="6.6" fill="none" stroke="#ff2020" stroke-width="1.0"/>
<rect x="491.85" y="126.61" width="6.6" height="6.6" fill="none" stroke="#ff2020" stroke-width="1.0"/>
<rect x="493.95" y="127.81" width="6.6" height="6.6" fill="none" stroke="#ff2020" stroke-width="1.0"/>
<rect x="496.05" y="127.95" width="6.6" height="6.6" fill="none" stroke="#ff2020" stroke-width="1.0"/>
<rect x="498.15" y="127.78" width="6.6" height="6.6" fill="none" stroke="#ff2020" stroke-width="1.0"/>
<rect x="500.26" y="128.99" width="6.6" height="6.6" fill="none" stroke="#ff2020" stroke-width="1.0"/>
<rect x="502.36" y="124.80" width="6.6" height="6.6" fill="none" stroke="#ff2020" stroke-width="1.0"/>
<rect x="504.46" y="123.16" width="6.6" height="6.6" fill="none" stroke="#ff2020" stroke-width="1.0"/>
<rect x="506.56" y="125.32" width="6.6" height="6.6" fill="none" stroke="#ff2020" stroke-width="1.0"/>
<rect x="508.66" y="125.90" width="6.6" height="6.6" fill="none" stroke="#ff2020" stroke-width="1.0"/>
<rect x="510.76" y="130.18" width="6.6" height="6.6" fill="none" stroke="#ff2020" stroke-width="1.0"/>
<rect x="512.86" y="128.10" width="6.6" height="6.6" fill="none" stroke="#ff2020" stroke-width="1.0"/>
<rect x="514.96" y="127.46" width="6.6" height="6.6" fill="none" stroke="#ff2020" stroke-width="1.0"/>
<rect x="517.07" y="126.26" width="6.6" height="6.6" fill="none" stroke="#ff2020" stroke-width="1.0"/>
<rect x="519.17" y="127.37" width="6.6" height="6.6" fill="none" stroke="#ff2020" stroke-width="1.0"/>
<rect x="521.27" y="129.58" width="6.6" height="6.6" fill="none" stroke="#ff2020" stroke-width="1.0"/>
<rect x="523.37" y="130.14" width="6.6" height="6.6" fill="none" stroke="#ff2020" stroke-width="1.0"/>
<rect x="525.47" y="130.65" width="6.6" height="6.6" fill="none" stroke="#ff2020" stroke-width="1.0"/>
<rect x="527.57" y="130.50" width="6.6" height="6.6" fill="none" stroke="#ff2020" stroke-width="1.0"/>
<rect x="529.67" y="129.31" width="6.6" height="6.6" fill="none" stroke="#ff2020" stroke-width="1.0"/>
<rect x="531.77" y="130.58" width="6.6" height="6.6" fill="none" stroke="#ff2020" stroke-width="1.0"/>
<rect x="533.88" y="130.56" width="6.6" height="6.6" fill="none" stroke="#ff2020" stroke-width="1.0"/>
<rect x="535.98" y="133.74" width="6.6" height="6.6" fill="none" stroke="#ff2020" stroke-width="1.0"/>
<rect x="538.08" y="135.00" width="6.6" height="6.6" fill="none" stroke="#ff2020" stroke-width="1.0"/>
<rect x="540.18" y="129.58" width="6.6" height="6.6" fill="none" stroke="#ff2020" stroke-width="1.0"/>
<rect x="542.28" y="128.63" width="6.6" height="6.6" fill="none" stroke="#ff2020" stroke-width="1.0"/>
<rect x="544.38" y="134.18" width="6.6" height="6.6" fill="none" stroke="#ff2020" stroke-width="1.0"/>
<rect x="546.48" y="129.49" width="6.6" height="6.6" fill="none" stroke="#ff2020" stroke-width="1.0"/>
<rect x="548.58" y="130.63" width="6.6" height="6.6" fill="none" stroke="#ff2020" stroke-width="1.0"/>
<rect x="550.68" y="128.89" width="6.6" height="6.6" fill="none" stroke="#ff2020" stroke-width="1.0"/>
<rect x="552.79" y="130.27" width="6.6" height="6.6" fill="none" stroke="#ff2020" stroke-width="1.0"/>
<rect x="554.89" y="128.73" width="6.6" height="6.6" fill="none" stroke="#ff2020" stroke-width="1.0"/>
<rect x="556.99" y="127.51" width="6.6" height="6.6" fill="none" stroke="#ff2020" stroke-width="1.0"/>
<rect x="559.09" y="127.69" width="6.6" height="6.6" fill="none" stroke="#ff2020" stroke-width="1.0"/>
<rect x="561.19" y="128.54" width="6.6" height="6.6" fill="none" stroke="#ff2020" stroke-width="1.0"/>
<rect x="563.29" y="130.57" width="6.6" height="6.6" fill="none" stroke="#ff2020" stroke-width="1.0"/>
<rect x="565.39" y="132.51" width="6.6" height="6.6" fill="none" stroke="#ff2020" stroke-width="1.0"/>
<rect x="567.49" y="126.66" width="6.6" height="6.6" fill="none" stroke="#ff2020" stroke-width="1.0"/>
<rect x="569.60" y="126.78" width="6.6" height="6.6" fill="none" stroke="#ff2020" stroke-width="1.0"/>
<rect x="571.70" y="126.73" width="6.6" height="6.6" fill="none" stroke="#ff2020" stroke-width="1.0"/>
<rect x="573.80" y="130.47" width="6.6" height="6.6" fill="none" stroke="#ff2020" stroke-width="1.0"/>
<rect x="575.90" y="123.69" width="6.6" height="6.6" fill="none" stroke="#ff2020" stroke-width="1.0"/>
<rect x="578.00" y="124.94" width="6.6" height="6.6" fill="none" stroke="#ff2020" stroke-width="1.0"/>
<rect x="580.10" y="128.47" width="6.6" height="6.6" fill="none" stroke="#ff2020" stroke-width="1.0"/>
<rect x="582.20" y="130.55" width="6.6" height="6.6" fill="none" stroke="#ff2020" stroke-width="1.0"/>
<rect x="584.30" y="131.33" width="6.6" height="6.6" fill="none" stroke="#ff2020" stroke-width="1.0"/>
<rect x="586.41" y="126.59" width="6.6" height="6.6" fill="none" stroke="#ff2020" stroke-width="1.0"/>
<rect x="588.51" y="129.36" width="6.6" height="6.6" fill="none" stroke="#ff2020" stroke-width="1.0"/>
<rect x="590.61" y="130.07" width="6.6" height="6.6" fill="none" stroke="#ff2020" stroke-width="1.0"/>
<rect x="592.71" y="133.27" width="6.6" height="6.6" fill="none" stroke="#ff2020" stroke-width="1.0"/>
<rect x="594.81" y="134.11" width="6.6" height="6.6" fill="none" stroke="#ff2020" stroke-width="1.0"/>
<rect x="596.91" y="129.79" width="6.6" height="6.6" fill="none" stroke="#ff2020" stroke-width="1.0"/>
<rect x="599.01" y="129.73" width="6.6" height="6.6" fill="none" stroke="#ff2020" stroke-width="1.0"/>
<rect x="601.11" y="131.55" width="6.6" height="6.6" fill="none" stroke="#ff2020" stroke-width="1.0"/>
<rect x="603.21" y="131.48" width="6.6" height="6.6" fill="none" stroke="#ff2020" stroke-width="1.0"/>
<rect x="605.32" y="129.17" width="6.6" height="6.6" fill="none" stroke="#ff2020" stroke-width="1.0"/>
<rect x="607.42" y="129.18" width="6.6" height="6.6" fill="none" stroke="#ff2020" stroke-width="1.0"/>
<rect x="609.52" y="128.46" width="6.6" height="6.6" fill="none" stroke="#ff2020" stroke-width="1.0"/>
<rect x="611.62" y="130.42" width="6.6" height="6.6" fill="none" stroke="#ff2020" stroke-width="1.0"/>
<rect x="613.72" y="130.09" width="6.6" height="6.6" fill="none" stroke="#ff2020" stroke-width="1.0"/>
<rect x="615.82" y="127.94" width="6.6" height="6.6" fill="none" stroke="#ff2020" stroke-width="1.0"/>
<rect x="617.92" y="132.29" width="6.6" height="6.6" fill="none" stroke="#ff2020" stroke-width="1.0"/>
<rect x="620.02" y="132.33" width="6.6" height="6.6" fill="none" stroke="#ff2020" stroke-width="1.0"/>
<rect x="622.13" y="130.74" width="6.6" height="6.6" fill="none" stroke="#ff2020" stroke-width="1.0"/>
<rect x="624.23" y="129.71" width="6.6" height="6.6" fill="none" stroke="#ff2020" stroke-width="1.0"/>
<rect x="626.33" y="128.48" width="6.6" height="6.6" fill="none" stroke="#ff2020" stroke-width="1.0"/>
<rect x="628.43" y="133.54" width="6.6" height="6.6" fill="none" stroke="#ff2020" stroke-width="1.0"/>
<rect x="630.53" y="128.15" width="6.6" height="6.6" fill="none" stroke="#ff2020" stroke-width="1.0"/>
<rect x="632.63" y="130.91" width="6.6" height="6.6" fill="none" stroke="#ff2020" stroke-width="1.0"/>
<rect x="634.73" y="132.53" width="6.6" height="6.6" fill="none" stroke="#ff2020" stroke-width="1.0"/>
<rect x="636.83" y="132.99" width="6.6" height="6.6" fill="none" stroke="#ff2020" stroke-width="1.0"/>
<rect x="638.94" y="131.28" width="6.6" height="6.6" fill="none" stroke="#ff2020" stroke-width="1.0"/>
<rect x="641.04" y="127.02" width="6.6" height="6.6" fill="none" stroke="#ff2020" stroke-width="1.0"/>
<rect x="643.14" y="132.70" width="6.6" height="6.6" fill="none" stroke="#ff2020" stroke-width="1.0"/>
<rect x="645.24" y="130.70" width="6.6" height="6.6" fill="none" stroke="#ff2020" stroke-width="1.0"/>
<rect x="647.34" y="129.04" width="6.6" height="6.6" fill="none" stroke="#ff2020" stroke-width="1.0"/>
<rect x="649.44" y="131.46" width="6.6" height="6.6" fill="none" stroke="#ff2020" stroke-width="1.0"/>
<rect x="651.54" y="130.87" width="6.6" height="6.6" fill="none" stroke="#ff2020" stroke-width="1.0"/>
<rect x="653.64" y="129.17" width="6.6" height="6.6" fill="none" stroke="#ff2020" stroke-width="1.0"/>
<circle cx="461.90" cy="44.50" r="3.6" fill="none" stroke="#2020ff" stroke-width="1.15"/>
<text x="469.50" y="49.50" font-size="13.70" text-anchor="start" font-weight="normal" fill="#000" transform="matrix(1 0 0 1.06 0 -2.970)">Groundwater</text>
<path d="M461.90 55.50L465.90 59.50L461.90 63.50L457.90 59.50Z" fill="none" stroke="#111" stroke-width="1.05"/>
<text x="469.50" y="64.50" font-size="13.70" text-anchor="start" font-weight="normal" fill="#000" transform="matrix(1 0 0 1.06 0 -3.870)">Groundwater+0.1 mg/L PFOA</text>
<rect x="458.30" y="70.90" width="7.2" height="7.2" fill="none" stroke="#ff2020" stroke-width="1.15"/>
<text x="469.50" y="79.50" font-size="13.70" text-anchor="start" font-weight="normal" fill="#000" transform="matrix(1 0 0 1.06 0 -4.770)">Groundwater+10 mg/L PFOA</text>
<rect x="78.80" y="256.50" width="252.90" height="199.80" fill="none" stroke="#404040" stroke-width="1.3"/>
<line x1="74.30" y1="456.30" x2="78.80" y2="456.30" stroke="#404040" stroke-width="1.2"/>
<text x="64.40" y="461.70" font-size="15.20" text-anchor="end" font-weight="normal" fill="#111" transform="matrix(1 0 0 1.06 0 -27.702)">0</text>
<line x1="74.30" y1="423.00" x2="78.80" y2="423.00" stroke="#404040" stroke-width="1.2"/>
<text x="64.40" y="428.40" font-size="15.20" text-anchor="end" font-weight="normal" fill="#111" transform="matrix(1 0 0 1.06 0 -25.704)">50</text>
<line x1="74.30" y1="389.70" x2="78.80" y2="389.70" stroke="#404040" stroke-width="1.2"/>
<text x="64.40" y="395.10" font-size="15.20" text-anchor="end" font-weight="normal" fill="#111" transform="matrix(1 0 0 1.06 0 -23.706)">100</text>
<line x1="74.30" y1="356.40" x2="78.80" y2="356.40" stroke="#404040" stroke-width="1.2"/>
<text x="64.40" y="361.80" font-size="15.20" text-anchor="end" font-weight="normal" fill="#111" transform="matrix(1 0 0 1.06 0 -21.708)">150</text>
<line x1="74.30" y1="323.10" x2="78.80" y2="323.10" stroke="#404040" stroke-width="1.2"/>
<text x="64.40" y="328.50" font-size="15.20" text-anchor="end" font-weight="normal" fill="#111" transform="matrix(1 0 0 1.06 0 -19.710)">200</text>
<line x1="74.30" y1="289.80" x2="78.80" y2="289.80" stroke="#404040" stroke-width="1.2"/>
<text x="64.40" y="295.20" font-size="15.20" text-anchor="end" font-weight="normal" fill="#111" transform="matrix(1 0 0 1.06 0 -17.712)">250</text>
<line x1="74.30" y1="256.50" x2="78.80" y2="256.50" stroke="#404040" stroke-width="1.2"/>
<text x="64.40" y="261.90" font-size="15.20" text-anchor="end" font-weight="normal" fill="#111" transform="matrix(1 0 0 1.06 0 -15.714)">300</text>
<line x1="78.00" y1="456.30" x2="78.00" y2="460.80" stroke="#404040" stroke-width="1.2"/>
<text x="78.00" y="480.50" font-size="15.20" text-anchor="middle" font-weight="normal" fill="#111" transform="matrix(1 0 0 1.06 0 -28.830)">0</text>
<line x1="118.56" y1="456.30" x2="118.56" y2="460.80" stroke="#404040" stroke-width="1.2"/>
<text x="118.56" y="480.50" font-size="15.20" text-anchor="middle" font-weight="normal" fill="#111" transform="matrix(1 0 0 1.06 0 -28.830)">20</text>
<line x1="159.12" y1="456.30" x2="159.12" y2="460.80" stroke="#404040" stroke-width="1.2"/>
<text x="159.12" y="480.50" font-size="15.20" text-anchor="middle" font-weight="normal" fill="#111" transform="matrix(1 0 0 1.06 0 -28.830)">40</text>
<line x1="199.68" y1="456.30" x2="199.68" y2="460.80" stroke="#404040" stroke-width="1.2"/>
<text x="199.68" y="480.50" font-size="15.20" text-anchor="middle" font-weight="normal" fill="#111" transform="matrix(1 0 0 1.06 0 -28.830)">60</text>
<line x1="240.24" y1="456.30" x2="240.24" y2="460.80" stroke="#404040" stroke-width="1.2"/>
<text x="240.24" y="480.50" font-size="15.20" text-anchor="middle" font-weight="normal" fill="#111" transform="matrix(1 0 0 1.06 0 -28.830)">80</text>
<line x1="280.80" y1="456.30" x2="280.80" y2="460.80" stroke="#404040" stroke-width="1.2"/>
<text x="280.80" y="480.50" font-size="15.20" text-anchor="middle" font-weight="normal" fill="#111" transform="matrix(1 0 0 1.06 0 -28.830)">100</text>
<line x1="321.36" y1="456.30" x2="321.36" y2="460.80" stroke="#404040" stroke-width="1.2"/>
<text x="321.36" y="480.50" font-size="15.20" text-anchor="middle" font-weight="normal" fill="#111" transform="matrix(1 0 0 1.06 0 -28.830)">120</text>
<text x="204.50" y="501.80" font-size="15.50" text-anchor="middle" font-weight="normal" fill="#000" transform="matrix(1 0 0 1.06 0 -30.108)">Time (h)</text>
<text x="33.50" y="360.20" font-size="15.28" text-anchor="middle" font-weight="normal" fill="#000" transform="translate(33.50 360.20) rotate(-90) scale(1.06 1) translate(-33.50 -360.20)">Permeate conductivity (µS/cm)</text>
<text x="86.60" y="275.50" font-size="15.20" text-anchor="start" font-weight="normal" fill="#000" transform="matrix(1 0 0 1.06 0 -16.530)">PTFE</text>
<text x="4.80" y="256.40" font-size="19.00" text-anchor="start" font-weight="bold" fill="#000" transform="matrix(1 0 0 1.06 0 -15.384)">b</text>
<rect x="407.20" y="256.50" width="261.30" height="200.50" fill="none" stroke="#404040" stroke-width="1.3"/>
<line x1="402.70" y1="457.00" x2="407.20" y2="457.00" stroke="#404040" stroke-width="1.2"/>
<text x="393.50" y="462.40" font-size="15.20" text-anchor="end" font-weight="normal" fill="#111" transform="matrix(1 0 0 1.06 0 -27.744)">0</text>
<line x1="402.70" y1="423.58" x2="407.20" y2="423.58" stroke="#404040" stroke-width="1.2"/>
<text x="393.50" y="428.98" font-size="15.20" text-anchor="end" font-weight="normal" fill="#111" transform="matrix(1 0 0 1.06 0 -25.739)">5</text>
<line x1="402.70" y1="390.17" x2="407.20" y2="390.17" stroke="#404040" stroke-width="1.2"/>
<text x="393.50" y="395.57" font-size="15.20" text-anchor="end" font-weight="normal" fill="#111" transform="matrix(1 0 0 1.06 0 -23.734)">10</text>
<line x1="402.70" y1="356.75" x2="407.20" y2="356.75" stroke="#404040" stroke-width="1.2"/>
<text x="393.50" y="362.15" font-size="15.20" text-anchor="end" font-weight="normal" fill="#111" transform="matrix(1 0 0 1.06 0 -21.729)">15</text>
<line x1="402.70" y1="323.33" x2="407.20" y2="323.33" stroke="#404040" stroke-width="1.2"/>
<text x="393.50" y="328.73" font-size="15.20" text-anchor="end" font-weight="normal" fill="#111" transform="matrix(1 0 0 1.06 0 -19.724)">20</text>
<line x1="402.70" y1="289.92" x2="407.20" y2="289.92" stroke="#404040" stroke-width="1.2"/>
<text x="393.50" y="295.32" font-size="15.20" text-anchor="end" font-weight="normal" fill="#111" transform="matrix(1 0 0 1.06 0 -17.719)">25</text>
<line x1="402.70" y1="256.50" x2="407.20" y2="256.50" stroke="#404040" stroke-width="1.2"/>
<text x="393.50" y="261.90" font-size="15.20" text-anchor="end" font-weight="normal" fill="#111" transform="matrix(1 0 0 1.06 0 -15.714)">30</text>
<line x1="406.70" y1="457.00" x2="406.70" y2="461.50" stroke="#404040" stroke-width="1.2"/>
<text x="406.70" y="481.50" font-size="15.20" text-anchor="middle" font-weight="normal" fill="#111" transform="matrix(1 0 0 1.06 0 -28.890)">0</text>
<line x1="448.59" y1="457.00" x2="448.59" y2="461.50" stroke="#404040" stroke-width="1.2"/>
<text x="448.59" y="481.50" font-size="15.20" text-anchor="middle" font-weight="normal" fill="#111" transform="matrix(1 0 0 1.06 0 -28.890)">20</text>
<line x1="490.48" y1="457.00" x2="490.48" y2="461.50" stroke="#404040" stroke-width="1.2"/>
<text x="490.48" y="481.50" font-size="15.20" text-anchor="middle" font-weight="normal" fill="#111" transform="matrix(1 0 0 1.06 0 -28.890)">40</text>
<line x1="532.36" y1="457.00" x2="532.36" y2="461.50" stroke="#404040" stroke-width="1.2"/>
<text x="532.36" y="481.50" font-size="15.20" text-anchor="middle" font-weight="normal" fill="#111" transform="matrix(1 0 0 1.06 0 -28.890)">60</text>
<line x1="574.25" y1="457.00" x2="574.25" y2="461.50" stroke="#404040" stroke-width="1.2"/>
<text x="574.25" y="481.50" font-size="15.20" text-anchor="middle" font-weight="normal" fill="#111" transform="matrix(1 0 0 1.06 0 -28.890)">80</text>
<line x1="616.14" y1="457.00" x2="616.14" y2="461.50" stroke="#404040" stroke-width="1.2"/>
<text x="616.14" y="481.50" font-size="15.20" text-anchor="middle" font-weight="normal" fill="#111" transform="matrix(1 0 0 1.06 0 -28.890)">100</text>
<line x1="658.03" y1="457.00" x2="658.03" y2="461.50" stroke="#404040" stroke-width="1.2"/>
<text x="658.03" y="481.50" font-size="15.20" text-anchor="middle" font-weight="normal" fill="#111" transform="matrix(1 0 0 1.06 0 -28.890)">120</text>
<text x="538.00" y="502.60" font-size="15.50" text-anchor="middle" font-weight="normal" fill="#000" transform="matrix(1 0 0 1.06 0 -30.156)">Time (h)</text>
<text x="370.60" y="363.70" font-size="14.62" text-anchor="middle" font-weight="normal" fill="#000" transform="translate(370.60 363.70) rotate(-90) scale(1.06 1) translate(-370.60 -363.70)" word-spacing="5.5">Permeate conductivity (µS/cm)</text>
<text x="415.60" y="274.00" font-size="15.20" text-anchor="start" font-weight="normal" fill="#000" transform="matrix(1 0 0 1.06 0 -16.440)">PVDF</text>
<text x="344.20" y="260.80" font-size="19.00" text-anchor="start" font-weight="bold" fill="#000" transform="matrix(1 0 0 1.06 0 -15.648)">f</text>
<path d="M79.5 442.2 L80.8 432.0 L82.3 431.2 L83.9 431.2 L85.5 430.9 L87.0 432.0 L88.6 431.9 L90.2 431.8 L91.8 430.8 L93.4 432.0 L95.0 431.8 L96.5 431.5 L98.1 431.8 L99.7 431.4 L101.3 431.1 L102.8 430.8 L104.4 430.8 L105.9 430.4 L107.4 430.7 L108.9 431.2 L110.5 430.9 L112.0 431.0 L113.5 430.7 L115.1 429.9 L116.6 430.2 L118.1 429.9 L119.6 430.2 L121.2 429.7 L122.7 429.2 L124.2 429.6 L125.8 429.9 L127.3 428.8 L128.8 429.5 L130.3 428.2 L131.9 428.4 L133.4 428.2 L134.9 428.9 L136.5 429.2 L138.0 428.9 L139.6 428.3 L141.1 429.0 L142.6 428.2 L144.2 428.1 L145.7 429.0 L147.3 428.5 L148.8 428.6 L150.3 428.5 L151.9 429.0 L153.4 428.2 L155.0 428.7 L156.5 428.5 L158.1 428.7 L159.6 428.1 L161.1 428.4 L162.7 428.2 L164.2 427.8 L165.8 427.7 L167.3 428.2 L168.8 427.4 L170.4 428.6 L171.9 427.5 L173.5 427.3 L175.0 427.3 L176.5 428.5 L178.0 427.7 L179.5 427.5 L181.0 427.4 L182.6 427.4 L184.1 428.4 L185.6 428.3 L187.1 428.4 L188.6 428.5 L190.1 427.6 L191.6 428.4 L193.1 428.1 L194.6 428.8 L196.2 428.8 L197.7 428.9 L199.2 427.8 L200.7 429.0 L202.2 429.1 L203.7 429.2 L205.2 428.0 L206.7 428.2 L208.2 428.1 L209.8 428.0 L211.3 429.2 L212.8 429.2 L214.3 429.0 L215.8 429.3 L218.6 425.4 L220.2 424.9 L221.7 424.7 L223.3 424.7 L224.9 425.7 L226.4 424.9 L228.0 425.1 L229.6 425.3 L231.2 424.7 L232.7 425.1 L234.3 425.1 L235.9 425.8 L237.4 425.3 L239.0 425.3 L240.6 426.2 L242.2 425.6 L243.7 426.1 L245.3 425.8 L246.9 425.0 L248.4 425.6 L250.0 425.6 L251.6 425.5 L253.2 424.4 L254.8 424.4 L256.4 423.6 L258.1 422.6 L259.7 423.0 L261.3 421.4 L262.9 421.9 L264.5 420.4 L266.0 420.2 L267.5 420.5 L269.1 421.3 L270.6 421.6 L272.1 420.2 L273.6 420.9 L275.2 420.9 L276.7 421.3 L278.2 420.5 L279.7 420.9 L281.2 420.7 L282.8 421.4 L284.3 420.6 L285.8 421.5 L287.3 420.6 L288.8 420.5 L290.4 421.2 L291.9 420.9 L293.4 420.4 L294.9 421.1 L296.5 420.3 L298.0 421.3 L299.5 421.2 L301.0 421.3 L302.5 421.1 L304.1 420.7 L305.6 420.8 L307.1 420.8 L308.6 421.4 L310.1 420.3 L311.7 421.4 L313.2 420.2 L314.7 420.5 L316.2 420.6 L317.8 421.5 L319.3 420.9 L320.8 420.7 L322.9 425.4 L324.9 428.9 L324.9 429.5 L323.0 431.2 L321.1 431.6 L319.2 433.3 L317.7 433.6 L316.2 433.4 L314.7 433.7 L313.1 433.6 L311.6 434.4 L310.1 433.8 L308.6 434.5 L307.1 433.6 L305.6 434.2 L304.1 433.9 L302.5 434.2 L301.0 434.7 L299.5 434.8 L298.0 434.6 L296.5 434.2 L295.0 435.1 L293.4 434.1 L291.9 434.6 L290.4 434.6 L288.9 434.8 L287.4 435.1 L285.9 435.1 L284.4 434.3 L282.8 434.4 L281.3 434.7 L279.8 435.3 L278.3 434.6 L276.8 435.1 L275.3 435.7 L273.8 435.4 L272.2 434.8 L270.7 434.9 L269.2 435.0 L267.7 435.6 L266.1 438.5 L264.5 438.5 L262.9 437.9 L261.3 438.5 L259.7 438.3 L258.1 438.0 L256.4 438.4 L254.8 439.3 L253.2 438.1 L251.6 439.0 L250.0 438.4 L248.5 438.9 L247.0 438.4 L245.5 439.5 L244.0 438.8 L242.5 439.0 L241.0 439.5 L239.5 439.4 L238.0 439.3 L236.5 439.6 L235.0 439.5 L233.5 439.6 L232.0 439.0 L230.5 439.7 L229.0 440.3 L227.5 440.2 L226.0 439.4 L224.5 440.0 L223.0 439.4 L221.5 440.8 L220.0 440.2 L217.2 442.8 L215.6 443.4 L214.1 443.2 L212.5 442.6 L211.0 443.6 L209.4 443.2 L207.9 442.9 L206.3 443.2 L204.8 442.9 L203.2 442.9 L201.7 442.7 L200.2 443.2 L198.6 443.3 L197.0 443.5 L195.5 443.0 L193.9 442.6 L192.3 443.4 L190.7 443.1 L189.2 443.3 L187.6 443.7 L186.0 443.8 L184.4 444.1 L182.9 443.9 L181.3 444.1 L179.7 444.3 L178.1 444.2 L176.6 443.6 L175.0 443.9 L173.5 444.3 L171.9 444.0 L170.4 443.7 L168.8 444.3 L167.3 444.1 L165.8 443.5 L164.2 443.8 L162.7 443.1 L161.1 443.4 L159.6 443.6 L158.1 443.4 L156.5 443.6 L155.0 443.7 L153.4 443.1 L151.9 442.5 L150.3 443.0 L148.8 442.6 L147.3 442.4 L145.7 443.1 L144.2 442.5 L142.6 442.7 L141.1 443.1 L139.6 443.1 L138.0 443.3 L136.5 442.4 L134.9 442.0 L133.4 443.1 L131.8 442.1 L130.2 443.2 L128.5 443.7 L126.9 442.7 L125.3 443.1 L123.7 443.0 L122.0 443.7 L120.4 443.6 L118.8 443.6 L117.3 443.4 L115.8 443.3 L114.2 444.2 L112.7 443.9 L111.2 443.3 L109.7 443.0 L108.2 443.0 L106.6 443.8 L105.1 443.2 L103.6 442.6 L102.1 443.1 L100.6 443.3 L99.0 442.8 L97.5 442.3 L96.0 443.0 L94.5 442.8 L93.0 443.0 L91.4 441.9 L89.9 442.1 L88.4 442.0 L86.9 442.4 L85.4 442.4 L83.8 442.3 L82.3 441.9 L80.8 441.7 L79.5 446.6Z" fill="#000" stroke="#000" stroke-width="0.6" stroke-linejoin="round"/>
<path d="M84 450.8 L127 450.8 A3.2 3.2 0 0 1 127 457.2 L84 457.2 A3.2 3.2 0 0 1 84 450.8Z" fill="#1800ff"/>
<path d="M78.8 440.6 L80.3 439.2 L81.9 437.9 L83.4 436.9 L85.0 435.4 L86.5 434.5 L88.1 433.1 L89.6 431.3 L91.3 431.6 L92.9 430.9 L94.6 428.8 L96.3 429.5 L98.0 429.0 L99.6 428.2 L101.3 426.4 L104.2 421.9 L106.0 420.1 L107.7 417.5 L109.5 416.0 L111.2 416.3 L113.0 414.3 L114.7 412.8 L116.4 411.8 L118.1 411.2 L119.8 410.6 L121.5 410.8 L123.2 409.3 L124.6 382.8 L126.8 380.8 L129.0 377.3 L130.8 376.6 L132.5 378.4 L134.3 378.3 L136.0 379.1 L137.8 379.3 L139.5 379.0 L141.2 378.1 L142.9 377.4 L144.6 375.5 L146.3 375.7 L148.0 374.7 L149.7 374.7 L151.3 373.9 L153.0 374.3 L154.7 373.4 L156.4 372.6 L158.0 372.2 L159.7 371.8 L161.2 372.6 L162.8 372.0 L164.3 373.0 L165.8 372.6 L167.3 373.5 L168.9 373.7 L170.4 374.0 L171.9 374.8 L173.5 373.5 L175.0 375.2 L176.5 374.2 L178.1 374.1 L179.6 373.9 L181.1 373.9 L182.6 372.7 L184.2 372.5 L185.7 373.1 L187.2 371.2 L188.8 371.9 L190.3 371.5 L191.8 370.1 L193.3 370.8 L194.9 370.6 L196.4 370.7 L197.9 369.3 L199.4 370.1 L201.0 368.9 L202.5 368.5 L204.0 368.9 L205.5 367.0 L207.1 367.9 L208.6 367.4 L210.2 366.5 L211.9 367.1 L213.5 365.8 L215.1 365.6 L216.7 365.2 L218.4 365.3 L220.0 363.9 L222.2 341.4 L224.4 334.2 L226.3 334.9 L228.2 335.9 L230.1 335.4 L232.2 338.9 L234.4 340.6 L236.3 341.0 L238.2 340.9 L240.1 341.5 L242.2 344.5 L244.4 346.1 L246.3 349.7 L248.2 352.2 L250.1 355.5 L251.7 355.4 L253.2 355.9 L254.8 356.0 L256.4 356.2 L258.0 355.7 L259.6 357.8 L261.2 359.0 L262.8 359.3 L264.4 359.3 L266.1 360.6 L267.7 360.9 L269.3 362.1 L270.9 364.3 L272.5 364.6 L274.1 365.6 L275.7 359.9 L277.4 354.2 L279.0 347.8 L280.6 341.4 L282.2 335.0 L283.8 328.7 L285.4 322.1 L287.0 319.8 L288.6 316.5 L290.2 314.9 L291.8 314.5 L293.4 315.1 L295.1 313.9 L296.7 314.0 L298.3 313.8 L299.9 318.7 L301.5 322.6 L303.1 320.6 L304.8 318.4 L306.4 317.6 L308.0 315.9 L309.6 313.8 L311.2 311.4 L312.8 309.8 L314.4 308.2 L316.0 306.3 L317.9 306.7 L319.7 307.4 L321.6 308.2 L323.2 312.2 L323.2 325.0 L321.4 326.5 L319.6 326.7 L317.8 328.4 L316.0 330.8 L314.4 331.2 L312.8 333.4 L311.2 336.1 L309.5 338.0 L307.9 340.4 L306.3 342.1 L304.7 344.8 L303.1 345.4 L301.5 347.0 L299.9 348.6 L298.3 351.0 L296.6 349.2 L295.0 347.6 L293.4 349.4 L291.8 350.4 L290.2 350.9 L288.6 353.6 L287.0 357.8 L285.4 361.1 L283.8 367.3 L282.2 375.4 L280.6 383.5 L279.0 387.5 L277.4 390.7 L275.8 390.6 L274.1 391.0 L272.5 391.4 L270.9 389.7 L269.3 387.4 L267.7 387.0 L266.1 385.1 L264.5 383.4 L262.9 383.9 L261.2 382.8 L259.6 381.3 L258.0 381.1 L256.4 382.0 L254.8 381.4 L253.2 381.5 L251.6 381.4 L250.0 380.2 L247.3 380.2 L245.2 377.9 L243.0 375.0 L241.1 372.1 L239.1 367.8 L237.2 366.5 L235.5 366.6 L233.8 366.5 L232.1 366.5 L230.4 366.5 L228.7 366.3 L228.0 395.5 L226.1 396.5 L224.1 396.6 L222.2 396.1 L220.0 389.0 L218.1 388.5 L216.3 389.4 L214.4 388.6 L211.5 397.0 L210.0 397.6 L208.5 398.1 L207.0 398.4 L205.5 397.8 L203.9 397.4 L202.4 398.4 L200.9 398.2 L199.4 398.8 L197.9 397.2 L196.4 397.7 L194.9 398.3 L193.4 398.7 L191.9 399.1 L190.3 398.9 L188.8 398.3 L187.3 398.4 L185.8 398.9 L184.3 399.0 L182.8 398.8 L181.2 400.0 L179.7 399.2 L178.1 400.5 L176.6 400.4 L175.0 401.0 L173.4 400.3 L171.9 399.4 L170.3 399.8 L168.8 400.1 L167.2 398.5 L165.7 399.1 L164.2 398.0 L162.6 397.2 L160.9 399.3 L159.2 399.7 L157.5 399.3 L155.8 400.0 L154.1 402.0 L152.4 403.1 L150.2 407.0 L148.0 413.4 L146.5 410.2 L145.0 408.4 L143.2 407.9 L141.4 406.6 L139.6 407.4 L137.8 407.3 L136.0 406.7 L134.2 406.5 L132.3 404.8 L130.5 404.7 L129.0 433.4 L127.4 433.6 L125.7 435.6 L124.1 435.4 L122.5 436.7 L120.8 439.2 L119.2 438.9 L117.5 441.5 L115.9 441.1 L114.2 443.0 L112.6 442.6 L110.9 443.4 L109.2 444.5 L107.5 445.4 L105.9 447.0 L104.2 446.9 L102.6 448.1 L101.0 448.8 L99.3 450.4 L97.7 451.0 L96.1 451.0 L94.5 451.3 L92.8 451.2 L91.2 452.7 L89.6 454.2 L87.8 454.3 L86.1 455.4 L84.3 454.9 L82.6 455.5 L80.8 457.1 L78.8 456.2Z" fill="#ff2010" stroke="#ff2010" stroke-width="0.6" stroke-linejoin="round"/>
<circle cx="90.3" cy="290.3" r="2.6" fill="#1800ff"/>
<path d="M90.3 301.6 L93.6 304.9 L90.3 308.2 L87 304.9Z" fill="#000"/>
<rect x="87.1" y="316.6" width="6.4" height="6.4" fill="#ff2010"/>
<text x="97.90" y="294.80" font-size="13.70" text-anchor="start" font-weight="normal" fill="#000" transform="matrix(1 0 0 1.06 0 -17.688)">Groundwater</text>
<text x="97.90" y="310.10" font-size="13.70" text-anchor="start" font-weight="normal" fill="#000" transform="matrix(1 0 0 1.06 0 -18.606)">Groundwater+0.1 mg/L PFOA</text>
<text x="97.90" y="324.80" font-size="13.70" text-anchor="start" font-weight="normal" fill="#000" transform="matrix(1 0 0 1.06 0 -19.488)">Groundwater+10 mg/L PFOA</text>
<path d="M411.2 372.3 L412.7 371.3 L414.3 371.9 L415.8 371.5 L417.3 371.6 L418.9 370.8 L420.4 370.8 L421.9 372.0 L423.4 371.8 L425.0 371.2 L426.5 371.2 L428.0 370.7 L429.6 371.4 L431.1 370.8 L432.6 371.4 L434.2 371.1 L435.7 371.1 L437.2 371.2 L438.8 370.2 L440.3 369.8 L441.8 369.9 L443.3 369.8 L444.9 369.6 L446.4 369.5 L447.9 370.1 L449.5 370.5 L451.0 369.8 L452.5 370.5 L454.0 370.4 L455.5 369.2 L457.0 369.9 L458.5 369.6 L460.0 369.2 L461.5 370.3 L463.0 369.3 L464.6 369.7 L466.1 369.8 L467.6 370.2 L469.1 369.7 L470.6 369.3 L472.1 369.4 L473.6 368.9 L475.1 370.0 L476.6 370.0 L478.1 368.9 L479.6 368.6 L481.1 368.9 L482.6 369.0 L484.1 369.8 L485.6 369.7 L487.1 369.6 L488.6 368.5 L490.2 369.5 L491.7 369.3 L493.2 369.2 L494.7 369.6 L496.2 368.3 L497.7 368.4 L499.2 369.2 L500.7 369.4 L502.2 369.0 L504.2 368.0 L506.3 367.9 L507.8 368.2 L509.4 367.3 L510.9 367.7 L512.4 367.6 L514.0 367.5 L515.5 368.0 L517.0 367.7 L518.6 367.8 L520.1 367.7 L521.6 368.5 L523.1 367.6 L524.7 368.6 L526.2 368.0 L527.7 367.8 L529.3 369.1 L530.8 368.1 L532.3 369.2 L533.9 369.1 L535.4 369.2 L536.9 368.2 L538.5 368.7 L540.0 368.2 L541.6 369.4 L543.1 369.3 L544.7 369.0 L546.3 368.7 L547.9 368.6 L549.4 369.3 L551.0 368.8 L552.6 369.0 L554.1 368.3 L555.7 368.4 L557.3 368.2 L558.9 369.1 L560.4 368.9 L562.0 368.3 L563.5 369.3 L565.0 368.3 L566.5 368.5 L568.0 368.1 L569.5 368.1 L571.1 368.9 L572.6 368.1 L574.1 367.8 L575.6 368.2 L577.1 367.9 L578.6 368.6 L580.1 367.5 L581.6 368.6 L583.1 367.2 L584.6 368.4 L586.2 368.0 L587.7 367.3 L589.2 367.6 L590.7 367.2 L592.2 367.1 L593.7 367.0 L595.2 367.1 L596.7 368.0 L598.2 367.9 L599.8 367.7 L601.3 366.5 L602.8 366.7 L604.3 367.5 L605.8 366.2 L607.3 367.1 L608.8 366.4 L610.3 367.2 L611.9 365.7 L613.4 366.7 L614.9 365.9 L616.4 365.5 L617.9 365.1 L619.5 366.1 L621.0 365.6 L622.5 365.0 L624.0 365.2 L625.5 365.7 L627.1 364.6 L628.6 364.9 L630.1 364.2 L631.6 364.2 L633.1 365.0 L634.6 364.8 L636.1 364.0 L637.6 363.8 L639.1 363.8 L640.6 364.4 L642.1 364.2 L643.7 363.9 L645.2 363.7 L646.7 364.2 L648.2 364.3 L649.7 364.4 L651.2 364.0 L652.7 363.4 L654.2 363.2 L655.7 364.0 L657.0 370.0 L657.0 371.0 L655.7 377.5 L654.2 376.7 L652.6 376.1 L651.1 376.8 L649.6 376.5 L648.0 376.6 L646.5 376.1 L645.0 376.0 L643.4 376.0 L641.9 376.1 L640.4 376.2 L638.9 376.1 L637.3 375.9 L635.8 376.1 L634.3 375.3 L632.7 375.8 L631.2 375.6 L629.7 375.6 L628.1 375.8 L626.6 375.3 L625.1 374.6 L623.5 374.7 L622.0 374.7 L620.4 374.8 L618.8 374.5 L617.2 374.2 L615.6 374.0 L614.1 374.0 L612.5 374.4 L610.9 374.2 L609.3 373.8 L607.7 374.0 L606.2 374.7 L604.7 374.3 L603.2 373.7 L601.6 374.5 L600.1 374.1 L598.6 374.1 L597.1 375.1 L595.6 374.4 L594.1 374.6 L592.5 374.3 L591.0 374.9 L589.5 375.4 L588.0 374.9 L586.5 374.6 L585.0 375.2 L583.4 374.7 L581.9 375.3 L580.4 374.5 L578.9 375.8 L577.4 375.8 L575.9 375.8 L574.3 375.6 L572.8 376.1 L571.3 375.9 L569.8 376.3 L568.3 375.2 L566.8 375.1 L565.2 375.8 L563.7 375.8 L562.2 375.3 L560.7 376.0 L559.0 376.1 L557.3 376.9 L555.5 376.9 L553.8 377.0 L552.1 378.3 L550.4 378.6 L548.7 378.2 L546.9 377.7 L545.2 379.0 L543.5 379.1 L541.7 379.4 L540.0 379.4 L538.5 379.6 L537.0 378.8 L535.5 378.6 L534.0 378.5 L532.4 378.6 L530.9 379.1 L529.4 379.3 L527.9 378.5 L526.4 378.7 L524.9 379.1 L523.4 378.4 L521.9 378.4 L520.3 379.1 L518.8 378.9 L517.3 377.9 L515.8 378.7 L514.3 378.4 L512.8 377.8 L511.3 378.7 L509.8 378.3 L508.2 377.7 L506.7 378.0 L505.2 377.6 L503.7 377.7 L502.2 378.0 L500.7 378.1 L499.2 377.7 L497.7 377.7 L496.1 378.8 L494.6 379.1 L493.1 378.1 L491.6 379.1 L490.1 379.0 L488.6 379.1 L487.1 379.3 L485.5 378.6 L484.0 379.0 L482.5 379.8 L481.0 379.0 L479.5 379.1 L478.0 380.3 L476.4 379.6 L474.9 379.5 L473.4 379.7 L471.9 379.9 L470.4 381.1 L468.9 379.9 L467.4 380.7 L465.8 380.8 L464.3 380.9 L462.8 381.0 L461.3 381.7 L459.8 382.4 L458.2 382.0 L456.7 383.8 L455.2 384.0 L453.7 384.5 L452.2 383.9 L450.6 384.7 L449.1 384.6 L447.6 384.5 L446.1 383.7 L444.6 384.2 L443.1 384.1 L441.5 384.2 L440.0 383.5 L438.5 384.3 L437.0 384.0 L435.5 383.7 L434.0 384.0 L432.4 384.7 L430.9 383.8 L429.4 383.9 L427.9 384.7 L426.4 384.2 L424.9 384.8 L423.3 383.5 L421.8 384.2 L420.3 384.7 L418.8 384.7 L417.3 384.0 L415.8 384.6 L414.2 383.6 L412.7 384.5 L411.2 384.1Z" fill="#000" stroke="#000" stroke-width="0.6" stroke-linejoin="round"/>
<path d="M404.1 433.8 L405.7 434.2 L407.4 434.0 L409.0 433.6 L410.6 434.6 L412.2 433.4 L413.9 434.0 L415.5 433.0 L417.1 432.7 L418.8 433.9 L420.4 433.1 L422.1 432.0 L423.8 432.0 L425.5 431.6 L427.3 431.5 L429.0 430.0 L430.7 429.7 L432.2 430.9 L433.7 430.6 L435.2 429.7 L436.7 430.1 L438.2 430.2 L439.7 430.7 L441.2 430.7 L442.7 431.1 L444.2 431.1 L445.8 430.7 L447.3 431.1 L448.8 431.2 L450.3 431.3 L451.8 430.9 L453.3 431.4 L454.8 431.4 L456.3 431.7 L457.8 430.5 L459.3 431.8 L460.5 437.0 L460.5 438.0 L459.3 444.3 L457.8 444.1 L456.2 445.5 L454.7 445.5 L453.2 445.6 L451.6 445.0 L450.1 446.1 L448.6 445.0 L447.0 445.9 L445.5 446.1 L444.0 445.6 L442.4 446.0 L440.9 446.0 L439.3 446.4 L437.7 446.5 L436.2 447.1 L434.6 447.0 L433.0 446.2 L431.4 446.3 L429.9 446.6 L428.3 446.3 L426.7 446.2 L425.1 446.9 L423.6 446.4 L422.0 446.4 L420.4 446.3 L418.8 446.9 L417.2 447.5 L415.6 447.6 L414.0 447.3 L412.4 447.7 L410.8 448.6 L409.2 448.1 L407.6 448.4 L406.0 448.9 L404.1 447.7Z" fill="#1800ff" stroke="#1800ff" stroke-width="0.6" stroke-linejoin="round"/>
<path d="M405.0 400.7 L406.5 359.1 L408.2 350.7 L409.7 351.7 L411.3 351.7 L412.8 352.6 L414.3 352.4 L415.8 352.1 L417.4 353.0 L418.9 352.3 L420.4 352.4 L422.0 352.8 L423.5 352.4 L425.0 352.4 L426.5 353.0 L428.1 352.6 L429.6 353.8 L431.1 353.4 L432.7 353.3 L434.2 352.6 L435.7 353.2 L437.2 353.4 L438.8 353.8 L440.3 353.9 L441.8 354.5 L443.4 354.8 L444.9 354.0 L446.4 354.1 L447.9 354.5 L449.5 355.3 L451.0 354.2 L452.6 352.5 L454.2 351.0 L456.0 350.8 L457.8 352.1 L459.5 354.3 L461.3 355.1 L462.8 354.6 L464.4 354.0 L465.9 355.6 L467.5 355.3 L469.0 355.7 L470.6 356.1 L472.1 356.1 L473.7 355.3 L475.2 355.0 L476.8 355.4 L478.3 355.9 L479.9 356.0 L481.4 355.6 L483.0 355.7 L484.5 356.6 L486.1 356.7 L487.6 356.3 L489.2 357.6 L490.7 357.1 L492.3 356.2 L493.8 356.9 L495.4 357.7 L496.9 357.0 L498.5 357.8 L500.0 356.7 L501.6 355.5 L503.2 354.7 L504.8 354.4 L506.4 354.7 L507.9 354.0 L509.5 354.7 L511.1 354.9 L512.7 354.6 L514.2 355.4 L515.8 355.3 L517.4 356.3 L519.0 355.7 L520.5 355.6 L522.1 355.2 L523.7 355.4 L525.3 356.6 L526.8 355.6 L528.4 355.7 L530.0 356.0 L531.5 356.6 L533.1 357.2 L534.6 356.8 L536.1 357.2 L537.7 355.8 L539.2 355.7 L540.8 357.1 L542.3 356.3 L543.8 357.0 L545.4 356.3 L546.9 356.0 L548.4 356.2 L550.0 355.9 L551.5 357.3 L553.5 351.6 L555.1 350.8 L556.7 350.5 L558.3 350.0 L559.9 348.9 L561.5 350.0 L563.1 349.0 L564.7 349.2 L566.2 348.3 L567.8 348.6 L569.3 347.9 L570.8 347.6 L572.4 349.2 L573.9 349.0 L575.4 348.1 L577.0 349.1 L578.5 349.0 L580.0 348.0 L581.6 348.6 L583.1 349.2 L584.6 348.4 L586.2 349.2 L587.7 347.9 L589.2 348.2 L590.8 348.8 L592.3 347.9 L593.8 348.1 L595.4 349.1 L596.9 348.4 L598.4 348.9 L600.0 347.9 L601.5 347.8 L603.5 345.6 L605.6 342.7 L607.2 343.6 L608.8 341.8 L610.4 341.7 L612.0 340.3 L613.6 340.5 L615.2 339.7 L616.8 339.2 L618.4 338.0 L620.0 337.5 L621.6 338.6 L623.1 337.6 L624.7 337.3 L626.3 337.0 L627.8 337.0 L629.4 336.8 L631.0 336.2 L632.6 337.2 L634.1 336.5 L635.7 336.0 L637.3 336.8 L638.8 335.5 L640.4 335.7 L642.0 335.9 L643.6 333.8 L645.3 333.5 L646.9 333.4 L648.5 332.5 L650.0 329.9 L651.6 328.7 L653.2 327.9 L654.7 325.8 L656.2 327.8 L657.7 328.0 L657.7 340.0 L656.7 347.7 L654.7 354.5 L652.6 361.1 L651.1 360.7 L649.5 361.3 L648.0 361.4 L646.5 362.2 L645.0 362.6 L643.4 362.6 L641.9 362.4 L640.4 363.8 L638.8 363.8 L637.3 363.4 L635.8 363.8 L634.2 364.0 L632.7 363.2 L631.2 364.4 L629.7 364.2 L628.1 364.8 L626.6 364.0 L625.1 364.6 L623.5 363.9 L622.0 365.4 L620.4 364.6 L618.7 364.9 L617.1 366.2 L615.5 365.5 L613.8 365.9 L612.2 365.6 L610.6 365.9 L608.9 366.9 L607.3 367.2 L605.5 376.8 L603.6 387.9 L602.1 387.3 L600.5 387.3 L599.0 386.8 L597.5 385.9 L595.9 385.9 L594.4 386.0 L592.8 385.8 L591.3 386.0 L589.8 385.4 L588.2 384.9 L586.7 386.0 L585.2 385.9 L583.6 384.8 L582.1 386.2 L580.6 385.1 L579.0 386.6 L577.5 386.0 L576.0 385.9 L574.4 386.5 L572.9 385.4 L571.2 385.3 L569.5 384.7 L567.8 384.2 L566.1 383.2 L564.4 382.3 L562.7 381.9 L560.7 368.7 L559.2 369.6 L557.7 368.0 L556.2 368.3 L554.7 369.3 L553.1 369.1 L551.6 368.4 L550.1 369.0 L548.6 367.8 L547.1 369.0 L545.6 369.3 L544.1 368.0 L542.6 369.0 L541.1 367.7 L539.5 368.0 L538.0 367.6 L536.5 368.5 L535.0 369.0 L533.5 367.5 L532.0 367.9 L530.5 368.7 L529.0 368.8 L527.5 367.3 L525.9 367.9 L524.4 368.5 L522.9 368.0 L521.4 367.6 L519.9 368.4 L518.4 368.1 L516.9 368.6 L515.4 367.4 L513.9 368.2 L512.3 367.6 L510.8 367.1 L509.3 367.6 L507.8 367.5 L506.3 367.3 L504.2 367.7 L502.2 368.0 L500.7 368.0 L499.2 369.2 L497.7 369.3 L496.2 369.7 L494.7 368.3 L493.2 368.4 L491.7 369.3 L490.2 368.8 L488.6 369.7 L487.1 368.7 L485.6 369.5 L484.1 369.5 L482.6 369.1 L481.1 369.0 L479.6 369.6 L478.1 369.6 L476.6 368.5 L475.1 369.0 L473.6 368.8 L472.1 370.1 L470.6 370.2 L469.1 370.0 L467.6 370.3 L466.1 369.4 L464.6 369.2 L463.0 370.0 L461.5 369.0 L460.0 369.2 L458.5 369.4 L457.0 369.0 L455.5 369.4 L454.0 369.8 L452.5 369.6 L451.0 370.0 L449.5 369.3 L448.0 370.3 L446.5 369.8 L445.0 370.8 L443.5 369.7 L442.0 369.6 L440.5 370.2 L439.0 370.2 L437.5 370.7 L436.0 371.0 L434.5 370.5 L433.0 371.3 L431.5 370.5 L430.0 371.1 L428.5 371.1 L427.0 370.5 L425.5 371.9 L424.0 370.8 L422.5 371.6 L421.0 371.0 L419.5 371.3 L418.0 371.8 L416.5 372.4 L415.0 371.3 L413.5 372.2 L412.0 371.3 L410.5 371.9 L410.0 440.9 L408.3 441.4 L406.7 442.2 L405.0 440.9Z" fill="#ff2010" stroke="#ff2010" stroke-width="0.6" stroke-linejoin="round"/>
<circle cx="425.4" cy="290.8" r="2.6" fill="#1800ff"/>
<path d="M425.4 301.6 L428.7 304.9 L425.4 308.2 L422.1 304.9Z" fill="#000"/>
<rect x="422.2" y="316.6" width="6.4" height="6.4" fill="#ff2010"/>
<text x="433.00" y="295.40" font-size="13.70" text-anchor="start" font-weight="normal" fill="#000" transform="matrix(1 0 0 1.06 0 -17.724)">Groundwater</text>
<text x="433.00" y="310.10" font-size="13.70" text-anchor="start" font-weight="normal" fill="#000" transform="matrix(1 0 0 1.06 0 -18.606)">Groundwater+0.1 mg/L PFOA</text>
<text x="433.00" y="324.80" font-size="13.70" text-anchor="start" font-weight="normal" fill="#000" transform="matrix(1 0 0 1.06 0 -19.488)">Groundwater+10 mg/L PFOA</text>
<rect x="51.50" y="877.90" width="276.10" height="188.80" fill="none" stroke="#404040" stroke-width="1.3"/>
<line x1="97.52" y1="1066.70" x2="97.52" y2="1061.70" stroke="#404040" stroke-width="1.2"/>
<line x1="143.53" y1="1066.70" x2="143.53" y2="1061.70" stroke="#404040" stroke-width="1.2"/>
<line x1="189.55" y1="1066.70" x2="189.55" y2="1061.70" stroke="#404040" stroke-width="1.2"/>
<line x1="235.57" y1="1066.70" x2="235.57" y2="1061.70" stroke="#404040" stroke-width="1.2"/>
<line x1="281.58" y1="1066.70" x2="281.58" y2="1061.70" stroke="#404040" stroke-width="1.2"/>
<text x="51.50" y="1091.20" font-size="15.20" text-anchor="middle" font-weight="normal" fill="#111" transform="matrix(1 0 0 1.06 0 -65.472)">3400</text>
<text x="97.52" y="1091.20" font-size="15.20" text-anchor="middle" font-weight="normal" fill="#111" transform="matrix(1 0 0 1.06 0 -65.472)">2900</text>
<text x="143.53" y="1091.20" font-size="15.20" text-anchor="middle" font-weight="normal" fill="#111" transform="matrix(1 0 0 1.06 0 -65.472)">2400</text>
<text x="189.55" y="1091.20" font-size="15.20" text-anchor="middle" font-weight="normal" fill="#111" transform="matrix(1 0 0 1.06 0 -65.472)">1900</text>
<text x="235.57" y="1091.20" font-size="15.20" text-anchor="middle" font-weight="normal" fill="#111" transform="matrix(1 0 0 1.06 0 -65.472)">1400</text>
<text x="281.58" y="1091.20" font-size="15.20" text-anchor="middle" font-weight="normal" fill="#111" transform="matrix(1 0 0 1.06 0 -65.472)">900</text>
<text x="327.60" y="1091.20" font-size="15.20" text-anchor="middle" font-weight="normal" fill="#111" transform="matrix(1 0 0 1.06 0 -65.472)">400</text>
<text x="190.05" y="1110.70" font-size="15.40" text-anchor="middle" font-weight="normal" fill="#000" transform="matrix(1 0 0 1.06 0 -66.642)">Wavenumber (cm<tspan font-size="10" dy="-5.5">-1</tspan><tspan dy="5.5">)</tspan></text>
<text x="4.40" y="895.80" font-size="19.00" text-anchor="start" font-weight="bold" fill="#000" transform="matrix(1 0 0 1.06 0 -53.748)">d</text>
<rect x="391.50" y="879.60" width="276.50" height="187.70" fill="none" stroke="#404040" stroke-width="1.3"/>
<line x1="437.58" y1="1067.30" x2="437.58" y2="1062.30" stroke="#404040" stroke-width="1.2"/>
<line x1="483.67" y1="1067.30" x2="483.67" y2="1062.30" stroke="#404040" stroke-width="1.2"/>
<line x1="529.75" y1="1067.30" x2="529.75" y2="1062.30" stroke="#404040" stroke-width="1.2"/>
<line x1="575.83" y1="1067.30" x2="575.83" y2="1062.30" stroke="#404040" stroke-width="1.2"/>
<line x1="621.92" y1="1067.30" x2="621.92" y2="1062.30" stroke="#404040" stroke-width="1.2"/>
<text x="391.50" y="1091.80" font-size="15.20" text-anchor="middle" font-weight="normal" fill="#111" transform="matrix(1 0 0 1.06 0 -65.508)">3400</text>
<text x="437.58" y="1091.80" font-size="15.20" text-anchor="middle" font-weight="normal" fill="#111" transform="matrix(1 0 0 1.06 0 -65.508)">2900</text>
<text x="483.67" y="1091.80" font-size="15.20" text-anchor="middle" font-weight="normal" fill="#111" transform="matrix(1 0 0 1.06 0 -65.508)">2400</text>
<text x="529.75" y="1091.80" font-size="15.20" text-anchor="middle" font-weight="normal" fill="#111" transform="matrix(1 0 0 1.06 0 -65.508)">1900</text>
<text x="575.83" y="1091.80" font-size="15.20" text-anchor="middle" font-weight="normal" fill="#111" transform="matrix(1 0 0 1.06 0 -65.508)">1400</text>
<text x="621.92" y="1091.80" font-size="15.20" text-anchor="middle" font-weight="normal" fill="#111" transform="matrix(1 0 0 1.06 0 -65.508)">900</text>
<text x="668.00" y="1091.80" font-size="15.20" text-anchor="middle" font-weight="normal" fill="#111" transform="matrix(1 0 0 1.06 0 -65.508)">400</text>
<text x="530.25" y="1111.30" font-size="15.40" text-anchor="middle" font-weight="normal" fill="#000" transform="matrix(1 0 0 1.06 0 -66.678)">Wavenumber (cm<tspan font-size="10" dy="-5.5">-1</tspan><tspan dy="5.5">)</tspan></text>
<text x="344.40" y="891.40" font-size="19.00" text-anchor="start" font-weight="bold" fill="#000" transform="matrix(1 0 0 1.06 0 -53.484)">h</text>
<line x1="231.6" y1="927" x2="231.6" y2="1005.5" stroke="#222" stroke-width="1" stroke-dasharray="3.5 2.5"/>
<line x1="291.2" y1="918.5" x2="291.2" y2="1008.5" stroke="#222" stroke-width="1" stroke-dasharray="3.5 2.5"/>
<path d="M52.50 925.89 L54.43 926.24 L56.98 926.35 L60.01 926.41 L63.39 926.61 L66.99 926.86 L70.66 928.36 L74.28 928.36 L77.70 927.80 L81.01 928.76 L84.36 929.26 L87.74 928.92 L91.16 928.52 L94.60 929.11 L98.06 929.17 L101.53 929.00 L105.00 929.55 L108.49 929.04 L112.02 930.26 L115.57 930.06 L119.13 930.16 L122.69 930.64 L126.23 930.38 L129.74 929.97 L133.20 930.00 L136.60 929.87 L139.95 929.70 L143.27 930.53 L146.57 930.53 L149.87 929.79 L153.20 929.57 L156.57 930.03 L160.00 930.21 L163.51 930.25 L167.10 929.28 L170.73 929.96 L174.38 929.96 L178.03 929.80 L181.65 929.25 L185.21 929.05 L188.70 929.79 L192.11 929.18 L195.47 929.26 L198.80 929.65 L202.08 928.96 L205.34 930.84 L208.57 928.49 L211.79 927.70 L215.00 929.77 L218.31 929.93 L221.77 930.57 L225.28 929.96 L228.74 930.59 L232.04 930.59 L235.08 928.66 L237.77 928.61 L240.00 927.23 L241.72 928.47 L243.01 928.51 L243.95 928.15 L244.62 928.40 L245.13 928.21 L245.55 928.61 L245.98 929.39 L246.50 929.79 L247.04 930.80 L247.48 932.09 L247.86 933.22 L248.19 934.97 L248.49 936.43 L248.80 939.09 L249.12 941.84 L249.50 945.14 L249.92 949.54 L250.36 955.48 L250.81 962.53 L251.27 969.56 L251.72 976.28 L252.17 982.06 L252.60 986.40 L253.00 988.68 L253.38 988.15 L253.73 985.10 L254.07 979.95 L254.40 974.38 L254.72 968.76 L255.04 963.88 L255.37 960.41 L255.70 959.35 L256.04 961.23 L256.39 965.67 L256.74 971.63 L257.09 978.53 L257.43 985.09 L257.77 990.79 L258.09 994.89 L258.40 996.43 L258.69 995.13 L258.97 992.10 L259.23 987.12 L259.49 981.86 L259.74 975.79 L259.99 969.66 L260.24 964.38 L260.50 960.23 L260.75 956.47 L260.99 953.26 L261.21 950.01 L261.44 947.18 L261.69 944.82 L261.96 941.97 L262.26 939.85 L262.60 938.09 L262.96 936.23 L263.32 934.59 L263.69 933.66 L264.09 932.49 L264.55 931.73 L265.07 930.90 L265.68 930.27 L266.40 929.63 L267.21 928.98 L268.08 928.44 L269.02 928.19 L270.04 928.35 L271.14 928.03 L272.33 927.68 L273.61 927.90 L275.00 927.38 L276.54 927.03 L278.24 926.97 L280.07 926.55 L281.97 926.39 L283.91 926.15 L285.82 925.72 L287.67 925.66 L289.40 925.21 L291.10 925.17 L292.85 924.92 L294.59 924.37 L296.28 924.26 L297.88 923.88 L299.33 923.96 L300.58 924.19 L301.60 924.23 L302.33 924.62 L302.80 925.04 L303.06 925.20 L303.19 926.25 L303.23 926.85 L303.26 927.44 L303.33 928.89 L303.50 929.95 L303.75 931.59 L304.00 934.31 L304.26 936.76 L304.52 939.60 L304.78 941.86 L305.03 944.36 L305.27 945.53 L305.50 946.27 L305.71 945.95 L305.91 944.51 L306.10 942.91 L306.28 940.43 L306.46 938.00 L306.64 935.80 L306.82 933.55 L307.00 932.19 L307.18 930.90 L307.36 930.02 L307.54 929.01 L307.72 928.47 L307.90 927.84 L308.09 927.01 L308.29 926.91 L308.50 926.42 L308.72 926.36 L308.95 926.06 L309.19 925.93 L309.43 925.52 L309.68 925.77 L309.95 926.34 L310.22 927.14 L310.50 928.11 L310.80 929.52 L311.14 932.27 L311.48 934.95 L311.84 938.29 L312.19 941.45 L312.52 943.79 L312.83 946.25 L313.10 947.29 L313.33 947.18 L313.53 946.36 L313.71 945.09 L313.87 943.53 L314.02 941.55 L314.17 939.63 L314.33 938.33 L314.50 937.81 L314.68 938.05 L314.84 937.77 L315.01 938.19 L315.18 938.57 L315.36 939.63 L315.55 940.77 L315.76 942.45 L316.00 945.19 L316.27 948.59 L316.57 953.63 L316.89 959.47 L317.22 965.60 L317.56 970.89 L317.89 975.95 L318.20 979.33 L318.50 981.00 L318.77 980.50 L319.02 978.04 L319.26 973.92 L319.49 969.35 L319.73 964.52 L319.97 959.21 L320.22 954.14 L320.50 949.99 L320.78 945.99 L321.07 942.29 L321.36 937.98 L321.66 934.22 L321.97 930.34 L322.32 926.70 L322.69 923.98 L323.10 921.76 L323.59 920.72 L324.16 919.89 L324.78 919.48 L325.41 919.78 L326.03 920.33 L326.59 920.91 L327.06 921.38 L327.40 921.44" fill="none" stroke="#1a1aff" stroke-width="1.6" stroke-linejoin="round"/>
<line x1="146.50" y1="926.50" x2="146.50" y2="932.00" stroke="#1a1aff" stroke-width="1.0"/>
<line x1="110.30" y1="927.50" x2="110.30" y2="931.50" stroke="#1a1aff" stroke-width="1.0"/>
<path d="M52.50 963.38 L55.46 963.09 L59.65 963.50 L64.66 963.26 L70.09 962.96 L75.54 963.28 L80.61 963.71 L84.90 963.02 L88.00 963.22 L89.90 963.83 L90.97 963.77 L91.40 964.08 L91.38 964.61 L91.09 964.78 L90.72 965.39 L90.46 965.70 L90.50 966.37 L90.73 966.73 L90.92 966.34 L91.10 967.15 L91.26 967.70 L91.42 968.12 L91.59 968.31 L91.78 968.36 L92.00 968.41 L92.26 968.08 L92.56 967.75 L92.87 967.80 L93.19 967.44 L93.52 967.03 L93.84 966.37 L94.13 965.67 L94.40 965.71 L94.42 965.44 L94.10 965.02 L93.63 964.91 L93.23 964.49 L93.06 964.47 L93.34 964.20 L94.26 963.78 L96.00 963.87 L98.82 963.74 L102.62 964.18 L107.12 963.70 L112.04 963.55 L117.07 963.40 L121.94 963.35 L126.34 963.41 L130.00 963.21 L133.04 963.07 L135.81 963.71 L138.30 963.34 L140.53 963.30 L142.51 963.39 L144.24 963.19 L145.73 963.14 L147.00 963.15 L147.93 963.52 L148.46 963.80 L148.70 964.46 L148.72 964.67 L148.62 965.31 L148.49 965.11 L148.42 965.76 L148.50 965.57 L148.36 965.09 L147.74 964.97 L146.93 965.01 L146.22 965.00 L145.89 964.15 L146.21 964.16 L147.49 963.61 L150.00 963.79 L154.07 963.07 L159.56 963.37 L166.08 963.71 L173.22 963.25 L180.58 963.29 L187.77 963.17 L194.38 963.36 L200.00 963.51 L204.80 963.94 L209.22 963.64 L213.31 963.89 L217.09 963.84 L220.62 964.28 L223.92 964.60 L227.03 964.53 L230.00 964.26 L232.80 964.63 L235.38 964.56 L237.75 963.93 L239.91 963.21 L241.86 963.65 L243.61 963.81 L245.15 963.88 L246.50 964.82 L247.56 966.33 L248.29 968.38 L248.77 970.77 L249.07 973.15 L249.27 976.03 L249.44 978.61 L249.66 981.74 L250.00 985.12 L250.44 988.82 L250.88 993.27 L251.33 998.42 L251.78 1003.31 L252.21 1007.87 L252.63 1012.02 L253.03 1014.67 L253.40 1016.26 L253.73 1015.32 L254.03 1012.64 L254.30 1008.61 L254.56 1003.72 L254.81 999.10 L255.08 994.82 L255.37 992.55 L255.70 991.63 L256.07 993.57 L256.49 996.86 L256.92 1002.25 L257.37 1008.07 L257.81 1013.61 L258.24 1018.50 L258.64 1022.13 L259.00 1023.62 L259.31 1023.21 L259.58 1020.56 L259.83 1017.38 L260.06 1012.83 L260.29 1008.10 L260.51 1003.29 L260.74 998.78 L261.00 995.08 L261.26 991.78 L261.50 988.36 L261.74 985.34 L261.98 981.97 L262.25 979.23 L262.55 976.50 L262.90 974.01 L263.30 971.60 L263.76 970.00 L264.28 968.58 L264.83 967.05 L265.42 965.91 L266.04 965.14 L266.68 964.58 L267.33 963.48 L268.00 962.75 L268.61 962.38 L269.15 961.99 L269.68 961.68 L270.24 961.20 L270.89 961.33 L271.70 960.86 L272.72 961.09 L274.00 960.79 L275.63 960.91 L277.60 961.25 L279.81 961.60 L282.16 962.28 L284.54 962.79 L286.86 963.08 L289.01 963.88 L290.90 963.93 L292.59 964.05 L294.21 964.20 L295.74 964.57 L297.17 964.74 L298.48 964.47 L299.67 964.57 L300.71 965.22 L301.60 965.37 L302.28 966.28 L302.75 966.64 L303.05 967.40 L303.24 968.02 L303.36 969.09 L303.46 969.85 L303.59 970.80 L303.80 972.20 L304.07 973.22 L304.34 975.34 L304.62 977.02 L304.89 979.35 L305.15 981.11 L305.41 982.88 L305.66 983.49 L305.90 984.03 L306.12 983.37 L306.34 982.28 L306.54 980.39 L306.74 978.00 L306.93 975.45 L307.12 973.21 L307.31 971.28 L307.50 969.97 L307.69 968.92 L307.87 968.19 L308.05 967.94 L308.23 967.51 L308.41 967.10 L308.59 967.32 L308.79 966.87 L309.00 967.03 L309.22 966.84 L309.45 967.24 L309.69 967.36 L309.93 967.28 L310.18 967.88 L310.45 968.45 L310.72 968.92 L311.00 969.92 L311.30 971.42 L311.64 973.55 L311.98 975.43 L312.34 978.05 L312.69 980.29 L313.02 982.23 L313.33 983.85 L313.60 984.89 L313.83 984.65 L314.03 984.40 L314.21 983.08 L314.37 981.97 L314.52 980.63 L314.67 979.05 L314.83 978.51 L315.00 978.25 L315.18 977.97 L315.36 978.06 L315.53 978.50 L315.71 979.57 L315.90 979.99 L316.09 981.66 L316.29 982.85 L316.50 985.12 L316.72 987.71 L316.95 991.79 L317.19 996.73 L317.44 1001.30 L317.69 1005.96 L317.95 1010.01 L318.22 1012.38 L318.50 1013.19 L318.79 1011.90 L319.10 1008.36 L319.42 1004.13 L319.75 999.27 L320.08 993.76 L320.40 988.11 L320.71 983.64 L321.00 979.87 L321.26 977.24 L321.48 974.76 L321.68 972.72 L321.88 971.50 L322.10 969.66 L322.34 968.61 L322.64 967.00 L323.00 965.99 L323.47 964.73 L324.03 963.96 L324.67 963.09 L325.32 962.72 L325.97 961.94 L326.55 961.81 L327.04 961.32 L327.40 960.81" fill="none" stroke="#111" stroke-width="1.6" stroke-linejoin="round"/>
<path d="M52.50 996.68 L55.47 996.82 L59.66 997.21 L64.68 996.82 L70.11 996.78 L75.57 997.42 L80.63 997.34 L84.91 997.14 L88.00 996.62 L89.87 996.24 L90.91 995.85 L91.29 995.14 L91.22 994.53 L90.88 994.35 L90.47 993.82 L90.18 993.63 L90.20 993.39 L90.43 993.28 L90.64 994.21 L90.84 994.72 L91.03 995.27 L91.22 995.94 L91.41 996.69 L91.60 997.48 L91.80 997.80 L92.00 997.96 L92.20 997.94 L92.40 998.06 L92.59 998.28 L92.80 998.82 L93.02 998.41 L93.25 998.42 L93.50 998.43 L93.42 998.13 L92.86 998.66 L92.12 997.65 L91.48 997.88 L91.26 997.88 L91.74 997.11 L93.22 997.21 L96.00 996.90 L100.31 996.75 L105.97 996.72 L112.65 996.69 L120.03 997.34 L127.78 997.36 L135.57 997.54 L143.09 996.91 L150.00 997.46 L156.58 997.16 L163.25 997.40 L169.92 997.29 L176.50 997.07 L182.89 997.57 L189.00 996.77 L194.73 997.37 L200.00 997.48 L204.80 997.26 L209.22 997.41 L213.31 997.82 L217.09 997.32 L220.62 997.75 L223.92 997.96 L227.03 997.79 L230.00 998.17 L232.80 997.89 L235.38 997.79 L237.75 997.57 L239.91 997.38 L241.86 997.01 L243.61 997.44 L245.15 997.95 L246.50 998.86 L247.56 1000.63 L248.29 1002.41 L248.77 1005.02 L249.07 1007.39 L249.27 1010.37 L249.44 1013.34 L249.66 1016.58 L250.00 1019.86 L250.44 1023.91 L250.88 1029.34 L251.33 1034.69 L251.78 1040.30 L252.21 1045.53 L252.63 1050.08 L253.03 1052.94 L253.40 1054.34 L253.73 1053.75 L254.03 1050.47 L254.30 1046.01 L254.56 1040.82 L254.81 1035.58 L255.08 1031.02 L255.37 1027.54 L255.70 1026.84 L256.07 1028.92 L256.47 1033.02 L256.90 1038.27 L257.34 1044.61 L257.78 1050.95 L258.21 1056.36 L258.62 1060.42 L259.00 1062.25 L259.34 1061.28 L259.66 1058.64 L259.96 1054.52 L260.24 1049.83 L260.53 1044.80 L260.83 1039.28 L261.15 1034.16 L261.50 1029.99 L261.87 1026.48 L262.25 1022.76 L262.63 1018.80 L263.04 1015.53 L263.46 1012.02 L263.91 1009.02 L264.39 1006.12 L264.90 1003.84 L265.45 1001.92 L266.04 1000.43 L266.67 999.07 L267.31 998.25 L267.98 997.71 L268.65 996.86 L269.33 996.39 L270.00 996.11 L270.61 995.36 L271.14 994.97 L271.64 994.61 L272.16 994.69 L272.77 994.21 L273.51 994.47 L274.43 994.68 L275.60 994.55 L277.08 995.03 L278.85 995.78 L280.83 996.41 L282.93 997.08 L285.07 997.74 L287.17 998.72 L289.14 999.38 L290.90 1000.11 L292.51 1000.28 L294.09 1000.59 L295.61 1000.89 L297.06 1001.11 L298.40 1001.03 L299.62 1001.24 L300.69 1001.62 L301.60 1002.21 L302.30 1002.37 L302.80 1003.33 L303.13 1003.83 L303.35 1004.36 L303.50 1005.28 L303.63 1005.96 L303.78 1006.76 L304.00 1008.13 L304.26 1009.26 L304.51 1011.04 L304.75 1012.93 L304.98 1015.06 L305.21 1016.76 L305.44 1017.83 L305.67 1019.03 L305.90 1019.18 L306.14 1018.54 L306.38 1017.32 L306.62 1015.16 L306.86 1012.91 L307.10 1010.74 L307.34 1008.26 L307.57 1006.36 L307.80 1005.01 L308.02 1004.28 L308.23 1003.56 L308.44 1003.17 L308.64 1002.75 L308.85 1002.47 L309.06 1002.81 L309.27 1002.86 L309.50 1003.13 L309.73 1003.37 L309.98 1003.38 L310.22 1003.88 L310.48 1004.36 L310.73 1005.40 L310.99 1005.84 L311.24 1006.75 L311.50 1008.13 L311.76 1009.40 L312.03 1010.91 L312.31 1013.22 L312.59 1015.31 L312.86 1017.16 L313.12 1018.64 L313.37 1020.23 L313.60 1020.76 L313.81 1020.75 L314.00 1020.20 L314.17 1018.89 L314.34 1017.45 L314.50 1015.57 L314.66 1014.31 L314.83 1013.42 L315.00 1012.75 L315.18 1013.26 L315.36 1013.10 L315.53 1013.48 L315.71 1014.14 L315.90 1015.03 L316.09 1016.58 L316.29 1018.03 L316.50 1020.01 L316.72 1022.91 L316.95 1026.82 L317.19 1031.70 L317.44 1036.91 L317.69 1041.49 L317.95 1045.32 L318.22 1047.54 L318.50 1048.25 L318.79 1046.86 L319.08 1044.09 L319.38 1039.73 L319.69 1034.68 L320.00 1029.22 L320.33 1023.86 L320.66 1018.87 L321.00 1015.15 L321.35 1011.63 L321.71 1008.95 L322.07 1005.94 L322.44 1003.08 L322.82 1000.85 L323.21 998.86 L323.60 996.97 L324.00 995.53 L324.43 994.29 L324.90 993.55 L325.40 993.42 L325.89 993.03 L326.36 993.24 L326.78 993.36 L327.13 993.31 L327.40 993.18" fill="none" stroke="#ff2010" stroke-width="1.6" stroke-linejoin="round"/>
<line x1="57.80" y1="887.00" x2="74.50" y2="887.00" stroke="#1a1aff" stroke-width="1.6"/>
<text x="76.60" y="891.10" font-size="11.90" text-anchor="start" font-weight="normal" fill="#000" transform="matrix(1 0 0 1.06 0 -53.466)">Pristine PTFE</text>
<line x1="57.80" y1="901.50" x2="74.50" y2="901.50" stroke="#111" stroke-width="1.6"/>
<text x="76.60" y="905.60" font-size="11.90" text-anchor="start" font-weight="normal" fill="#000" transform="matrix(1 0 0 1.06 0 -54.336)">Groundwater+0.1 mg/L PFOA</text>
<line x1="57.80" y1="916.00" x2="74.50" y2="916.00" stroke="#ff2010" stroke-width="1.6"/>
<text x="76.60" y="920.10" font-size="11.90" text-anchor="start" font-weight="normal" fill="#000" transform="matrix(1 0 0 1.06 0 -55.206)">Groundwater+10 mg/L PFOA</text>
<text x="216.00" y="1018.00" font-size="10.30" text-anchor="start" font-weight="normal" fill="#222" transform="matrix(1 0 0 1.06 0 -61.080)">CO<tspan font-size="7" dy="2.5">3</tspan><tspan font-size="7" dy="-7">2-</tspan></text>
<text x="218.50" y="1030.20" font-size="10.30" text-anchor="middle" font-weight="normal" fill="#222" transform="matrix(1 0 0 1.06 0 -61.812)">stretching</text>
<text x="218.00" y="1044.00" font-size="10.30" text-anchor="middle" font-weight="normal" fill="#222" transform="matrix(1 0 0 1.06 0 -62.640)">1431 cm<tspan font-size="7" dy="-4.5">-1</tspan></text>
<text x="276.30" y="1018.50" font-size="10.30" text-anchor="start" font-weight="normal" fill="#222" transform="matrix(1 0 0 1.06 0 -61.110)">CO<tspan font-size="7" dy="2.5">3</tspan><tspan font-size="7" dy="-7">2-</tspan></text>
<text x="283.00" y="1030.70" font-size="10.30" text-anchor="middle" font-weight="normal" fill="#222" transform="matrix(1 0 0 1.06 0 -61.842)">bending</text>
<text x="284.50" y="1044.40" font-size="10.30" text-anchor="middle" font-weight="normal" fill="#222" transform="matrix(1 0 0 1.06 0 -62.664)">797 cm<tspan font-size="7" dy="-4.5">-1</tspan></text>
<line x1="559.2" y1="931" x2="559.2" y2="1037" stroke="#222" stroke-width="1" stroke-dasharray="3.5 2.5"/>
<line x1="562.5" y1="931" x2="562.5" y2="1037" stroke="#222" stroke-width="1" stroke-dasharray="3.5 2.5"/>
<line x1="568.5" y1="931" x2="568.5" y2="1037" stroke="#222" stroke-width="1" stroke-dasharray="3.5 2.5"/>
<line x1="638.2" y1="926" x2="638.2" y2="1026" stroke="#222" stroke-width="1" stroke-dasharray="3.5 2.5"/>
<path d="M392.50 940.67 L394.76 939.70 L397.92 940.56 L401.69 938.92 L405.80 939.67 L409.97 940.10 L413.91 938.95 L417.35 940.64 L420.00 939.14 L421.87 940.34 L423.21 939.71 L424.16 941.44 L424.83 940.98 L425.35 941.70 L425.83 941.30 L426.41 941.79 L427.20 941.85 L427.89 941.04 L428.24 940.73 L428.45 941.78 L428.74 940.15 L429.32 941.43 L430.42 939.77 L432.24 939.35 L435.00 939.19 L439.09 940.48 L444.47 940.76 L450.72 939.65 L457.41 940.12 L464.10 939.32 L470.39 940.62 L475.83 940.18 L480.00 939.11 L482.79 938.91 L484.57 940.19 L485.60 938.89 L486.17 940.49 L486.55 939.42 L487.01 939.30 L487.84 939.99 L489.30 939.44 L491.35 939.88 L493.69 939.00 L496.26 940.44 L498.98 939.19 L501.79 940.35 L504.61 938.48 L507.37 940.11 L510.00 940.55 L512.60 938.99 L515.28 938.03 L517.99 938.90 L520.67 939.56 L523.26 938.48 L525.72 939.37 L527.98 938.29 L530.00 939.41 L531.77 940.32 L533.35 939.84 L534.75 940.84 L536.01 939.75 L537.14 942.01 L538.17 940.58 L539.12 943.05 L540.00 944.28 L540.77 944.43 L541.38 943.20 L541.86 942.70 L542.26 943.35 L542.62 945.34 L542.97 944.61 L543.35 946.51 L543.80 943.17 L544.28 944.56 L544.73 945.73 L545.17 944.19 L545.62 943.41 L546.11 941.00 L546.65 940.60 L547.28 940.56 L548.00 942.57 L548.88 941.94 L549.92 939.02 L551.06 941.36 L552.24 937.36 L553.42 939.23 L554.52 940.35 L555.50 937.58 L556.30 939.78 L556.90 938.48 L557.36 935.94 L557.71 937.00 L557.98 937.45 L558.21 936.71 L558.44 938.84 L558.69 936.84 L559.00 939.65 L559.36 938.29 L559.73 938.23 L560.10 941.20 L560.48 940.41 L560.86 943.27 L561.24 945.12 L561.62 945.03 L562.00 944.85 L562.36 943.13 L562.69 944.76 L563.02 942.59 L563.35 944.15 L563.70 941.38 L564.08 942.45 L564.51 940.91 L565.00 940.50 L565.58 941.17 L566.26 938.60 L566.99 938.02 L567.76 940.55 L568.51 937.67 L569.23 939.47 L569.87 939.63 L570.40 938.42 L570.82 937.80 L571.15 938.55 L571.42 942.90 L571.65 941.27 L571.85 944.38 L572.05 946.17 L572.26 947.84 L572.50 949.98 L572.77 952.26 L573.05 955.52 L573.34 958.91 L573.62 962.30 L573.90 965.41 L574.18 968.17 L574.44 969.88 L574.70 970.51 L574.94 969.89 L575.16 968.36 L575.38 965.48 L575.59 962.44 L575.80 958.53 L576.02 955.59 L576.25 952.33 L576.50 950.15 L576.77 948.21 L577.04 946.58 L577.33 944.83 L577.62 943.74 L577.92 942.30 L578.24 941.42 L578.56 940.61 L578.90 940.35 L579.25 940.29 L579.62 940.40 L579.99 941.18 L580.38 941.47 L580.78 942.53 L581.18 943.23 L581.59 944.27 L582.00 945.14 L582.40 945.83 L582.80 946.27 L583.19 947.15 L583.59 948.15 L584.01 949.20 L584.46 949.64 L584.95 950.87 L585.50 951.90 L586.13 952.98 L586.85 953.79 L587.63 955.10 L588.42 956.04 L589.21 957.45 L589.96 958.24 L590.64 960.02 L591.20 961.16 L591.65 962.66 L592.02 964.11 L592.33 965.89 L592.59 967.89 L592.82 969.66 L593.03 971.21 L593.25 973.12 L593.50 974.82 L593.76 976.88 L594.00 979.28 L594.23 981.87 L594.46 984.68 L594.69 986.92 L594.92 988.57 L595.16 989.49 L595.40 989.70 L595.65 989.00 L595.89 987.32 L596.12 984.81 L596.37 981.86 L596.62 978.50 L596.89 975.55 L597.18 972.71 L597.50 970.14 L597.85 967.47 L598.24 965.36 L598.66 962.75 L599.09 960.31 L599.52 958.53 L599.94 956.47 L600.34 954.95 L600.70 953.52 L601.03 953.24 L601.33 953.12 L601.62 953.28 L601.89 953.63 L602.16 954.27 L602.43 954.94 L602.71 955.49 L603.00 955.97 L603.30 956.77 L603.61 957.58 L603.92 958.56 L604.24 959.22 L604.55 960.41 L604.87 960.86 L605.19 961.44 L605.50 961.01 L605.81 960.94 L606.13 959.93 L606.45 958.45 L606.77 957.34 L607.08 955.57 L607.40 954.12 L607.70 952.98 L608.00 951.87 L608.28 951.27 L608.53 950.93 L608.78 950.39 L609.02 950.03 L609.27 949.51 L609.54 949.30 L609.85 948.80 L610.20 948.09 L610.60 947.39 L611.04 946.36 L611.51 945.09 L612.00 943.82 L612.50 942.99 L613.01 942.01 L613.51 940.77 L614.00 940.05 L614.49 939.34 L615.00 938.45 L615.53 937.19 L616.04 936.64 L616.54 935.77 L617.01 935.38 L617.44 935.57 L617.80 935.56 L618.09 936.36 L618.33 937.52 L618.51 939.05 L618.67 940.76 L618.81 942.58 L618.95 944.38 L619.11 945.44 L619.30 945.90 L619.52 945.65 L619.77 944.93 L620.02 943.91 L620.27 942.37 L620.53 941.15 L620.77 940.21 L621.00 939.43 L621.20 940.09 L621.38 940.99 L621.53 943.20 L621.67 945.18 L621.79 947.89 L621.92 951.15 L622.04 953.91 L622.16 956.90 L622.30 960.19 L622.44 963.36 L622.59 967.47 L622.73 971.50 L622.88 975.82 L623.02 979.95 L623.18 982.93 L623.33 985.35 L623.50 985.74 L623.67 985.21 L623.86 982.57 L624.04 979.38 L624.24 975.07 L624.43 970.81 L624.62 966.93 L624.82 962.90 L625.00 960.15 L625.18 957.52 L625.37 955.29 L625.55 953.05 L625.74 951.41 L625.92 950.02 L626.09 948.71 L626.25 948.00 L626.40 948.21 L626.53 949.08 L626.65 950.86 L626.76 953.14 L626.86 956.31 L626.96 959.09 L627.07 961.82 L627.18 963.27 L627.30 964.08 L627.43 963.55 L627.55 962.04 L627.67 960.07 L627.79 957.68 L627.93 955.13 L628.09 952.29 L628.28 949.84 L628.50 948.24 L628.76 946.19 L629.07 945.03 L629.41 943.48 L629.77 942.06 L630.13 940.80 L630.48 939.93 L630.81 939.22 L631.10 938.61 L631.36 938.38 L631.59 938.04 L631.81 938.41 L632.02 938.74 L632.22 939.74 L632.41 940.44 L632.60 940.90 L632.80 942.04 L633.00 943.28 L633.18 944.72 L633.37 946.85 L633.55 949.05 L633.73 950.88 L633.92 952.26 L634.10 953.53 L634.30 953.60 L634.50 953.17 L634.69 951.85 L634.88 950.34 L635.07 948.05 L635.28 945.86 L635.50 943.59 L635.74 941.47 L636.00 940.23 L636.28 938.93 L636.57 937.88 L636.87 936.76 L637.19 935.90 L637.53 935.40 L637.89 934.91 L638.28 934.34 L638.70 933.62 L639.17 933.12 L639.69 933.04 L640.24 933.04 L640.81 932.58 L641.39 932.81 L641.96 932.48 L642.50 932.50 L643.00 932.28 L643.47 932.20 L643.93 931.92 L644.37 931.86 L644.80 931.53 L645.21 930.92 L645.60 930.95 L645.96 931.48 L646.30 931.65 L646.61 932.78 L646.88 934.45 L647.12 936.24 L647.34 938.41 L647.56 940.50 L647.76 942.25 L647.98 943.83 L648.20 944.08 L648.42 943.88 L648.61 943.44 L648.79 941.96 L648.98 940.62 L649.18 938.89 L649.40 937.39 L649.68 935.83 L650.00 934.83 L650.40 934.54 L650.86 933.93 L651.37 933.63 L651.90 933.47 L652.44 933.41 L652.97 933.19 L653.46 933.38 L653.90 933.91 L654.28 934.04 L654.63 934.29 L654.95 934.92 L655.25 935.32 L655.55 936.35 L655.85 936.97 L656.16 938.61 L656.50 940.03 L656.87 942.12 L657.27 945.35 L657.68 948.39 L658.09 951.88 L658.50 955.12 L658.90 958.20 L659.27 960.36 L659.60 961.29 L659.89 960.87 L660.16 959.75 L660.40 957.33 L660.63 954.85 L660.84 952.22 L661.05 949.61 L661.27 946.97 L661.50 945.10 L661.72 943.64 L661.93 942.06 L662.13 941.05 L662.33 939.79 L662.55 938.57 L662.79 937.74 L663.07 937.26 L663.40 936.52 L663.81 936.20 L664.31 936.58 L664.85 936.66 L665.42 937.04 L665.97 937.56 L666.47 938.12 L666.89 938.10 L667.20 938.42" fill="none" stroke="#1a1aff" stroke-width="1.6" stroke-linejoin="round"/>
<path d="M392.50 977.07 L395.18 977.40 L398.93 977.46 L403.42 977.76 L408.30 977.54 L413.24 977.43 L417.89 977.26 L421.93 977.48 L425.00 977.27 L427.11 978.03 L428.56 978.24 L429.53 978.62 L430.14 978.28 L430.57 979.13 L430.95 979.49 L431.44 979.43 L432.20 979.90 L432.89 979.83 L433.24 979.48 L433.45 979.28 L433.74 978.79 L434.32 978.67 L435.42 977.60 L437.24 977.90 L440.00 977.70 L444.12 977.48 L449.59 977.04 L455.94 976.76 L462.72 977.24 L469.47 977.44 L475.74 976.91 L481.07 976.91 L485.00 977.02 L487.48 977.08 L488.90 977.96 L489.53 978.62 L489.61 978.83 L489.37 978.75 L489.08 979.40 L488.97 978.99 L489.30 979.84 L489.85 979.25 L490.29 978.72 L490.71 979.04 L491.17 978.20 L491.75 977.95 L492.54 977.38 L493.59 977.46 L495.00 977.35 L496.90 977.49 L499.28 976.66 L501.98 977.43 L504.86 976.72 L507.75 976.84 L510.51 977.24 L512.98 976.92 L515.00 976.83 L516.58 976.92 L517.87 976.35 L518.92 976.68 L519.81 975.83 L520.60 976.22 L521.35 975.99 L522.13 975.58 L523.00 975.03 L523.90 975.84 L524.75 975.24 L525.57 975.93 L526.38 976.11 L527.20 976.03 L528.06 976.87 L528.99 977.22 L530.00 977.28 L531.15 977.26 L532.43 977.52 L533.80 977.72 L535.20 977.48 L536.57 978.24 L537.87 978.49 L539.03 978.44 L540.00 978.76 L540.77 978.34 L541.38 979.24 L541.86 978.61 L542.26 979.29 L542.62 979.20 L542.97 979.74 L543.35 980.12 L543.80 980.21 L544.19 979.90 L544.44 979.62 L544.63 979.22 L544.86 979.15 L545.21 978.75 L545.79 978.42 L546.69 978.79 L548.00 978.52 L549.90 978.43 L552.37 978.16 L555.22 978.66 L558.26 978.22 L561.30 978.56 L564.15 979.02 L566.62 979.58 L568.50 980.44 L569.80 981.28 L570.69 982.55 L571.27 983.88 L571.62 985.27 L571.83 986.88 L571.99 988.25 L572.18 990.07 L572.50 991.76 L572.90 994.28 L573.26 996.77 L573.61 999.52 L573.93 1002.14 L574.24 1004.74 L574.53 1006.73 L574.82 1008.34 L575.10 1008.95 L575.37 1007.88 L575.62 1006.01 L575.86 1003.60 L576.09 1000.75 L576.32 997.90 L576.54 994.83 L576.77 991.99 L577.00 989.80 L577.23 988.28 L577.45 986.95 L577.66 986.08 L577.88 984.94 L578.10 984.40 L578.34 983.78 L578.61 983.37 L578.90 983.09 L579.23 983.47 L579.58 983.70 L579.96 984.55 L580.35 985.81 L580.76 986.92 L581.17 987.91 L581.59 988.99 L582.00 989.76 L582.41 990.94 L582.82 991.51 L583.23 992.26 L583.64 992.90 L584.07 993.25 L584.52 994.05 L585.00 994.57 L585.50 995.56 L586.05 996.39 L586.65 996.86 L587.28 997.65 L587.92 998.64 L588.56 999.77 L589.18 1000.68 L589.77 1001.58 L590.30 1003.17 L590.78 1004.44 L591.23 1005.70 L591.65 1007.00 L592.04 1008.99 L592.42 1010.41 L592.79 1011.77 L593.14 1013.44 L593.50 1015.06 L593.85 1016.82 L594.17 1018.52 L594.49 1020.60 L594.79 1022.30 L595.09 1023.99 L595.39 1025.55 L595.69 1025.91 L596.00 1025.60 L596.31 1024.67 L596.63 1022.33 L596.95 1019.59 L597.27 1016.53 L597.58 1013.27 L597.90 1010.09 L598.20 1007.29 L598.50 1004.97 L598.79 1003.14 L599.07 1002.07 L599.34 1000.56 L599.61 999.79 L599.88 998.95 L600.15 998.41 L600.42 997.88 L600.70 997.17 L600.98 997.03 L601.25 996.88 L601.52 996.74 L601.80 996.68 L602.08 997.26 L602.37 997.38 L602.68 997.43 L603.00 997.87 L603.35 998.77 L603.72 999.16 L604.12 1000.17 L604.52 1001.31 L604.92 1002.20 L605.30 1002.77 L605.67 1003.18 L606.00 1002.77 L606.30 1002.24 L606.57 1001.72 L606.81 1000.37 L607.05 998.53 L607.28 996.97 L607.51 995.52 L607.75 994.43 L608.00 992.86 L608.25 992.05 L608.50 991.21 L608.74 990.14 L608.99 989.40 L609.25 988.23 L609.53 987.35 L609.85 986.47 L610.20 986.03 L610.60 984.89 L611.04 984.52 L611.51 983.60 L612.00 982.57 L612.50 982.14 L613.01 981.12 L613.51 980.63 L614.00 979.80 L614.48 979.47 L614.96 978.73 L615.45 977.93 L615.94 976.73 L616.42 976.56 L616.89 976.06 L617.35 976.17 L617.80 976.40 L618.23 977.20 L618.66 978.16 L619.07 979.50 L619.48 980.65 L619.88 982.43 L620.26 984.79 L620.64 987.11 L621.00 989.95 L621.35 993.42 L621.69 998.52 L622.01 1003.53 L622.33 1009.46 L622.63 1014.68 L622.93 1018.99 L623.22 1022.10 L623.50 1023.98 L623.78 1023.41 L624.04 1021.55 L624.30 1018.21 L624.54 1014.71 L624.79 1010.25 L625.03 1006.03 L625.26 1002.35 L625.50 1000.12 L625.73 998.45 L625.96 997.04 L626.19 995.56 L626.41 994.85 L626.63 994.20 L626.85 994.00 L627.07 993.44 L627.30 993.55 L627.53 994.01 L627.77 994.69 L628.01 995.42 L628.24 996.69 L628.48 997.86 L628.72 999.01 L628.96 999.35 L629.20 999.01 L629.44 997.80 L629.69 995.84 L629.93 993.49 L630.18 990.79 L630.42 988.18 L630.66 985.57 L630.89 983.57 L631.10 982.31 L631.30 981.66 L631.48 981.45 L631.64 981.32 L631.81 982.15 L631.97 982.92 L632.13 983.49 L632.31 984.50 L632.50 984.84 L632.71 986.02 L632.92 986.83 L633.15 988.18 L633.38 989.18 L633.61 990.34 L633.85 991.27 L634.08 991.82 L634.30 991.80 L634.51 991.47 L634.71 990.70 L634.90 989.13 L635.09 987.65 L635.29 985.90 L635.51 984.36 L635.74 983.13 L636.00 982.13 L636.26 981.42 L636.50 981.20 L636.74 981.27 L637.00 981.20 L637.31 981.50 L637.68 982.03 L638.14 982.19 L638.70 981.91 L639.39 982.04 L640.19 981.89 L641.07 981.76 L642.03 981.52 L643.02 981.22 L644.03 980.86 L645.03 981.15 L646.00 980.91 L646.99 981.14 L648.05 981.11 L649.13 981.33 L650.21 981.73 L651.26 981.58 L652.25 982.09 L653.14 982.57 L653.90 983.02 L654.52 983.79 L655.02 984.15 L655.44 985.08 L655.78 985.73 L656.09 986.74 L656.37 987.31 L656.67 988.53 L657.00 989.89 L657.35 991.97 L657.69 993.83 L658.02 996.55 L658.34 999.43 L658.66 1002.05 L658.98 1003.70 L659.29 1005.25 L659.60 1005.89 L659.89 1005.37 L660.15 1003.99 L660.39 1001.92 L660.64 999.19 L660.90 996.54 L661.21 993.83 L661.57 991.86 L662.00 989.85 L662.55 988.54 L663.23 987.72 L663.97 986.53 L664.75 985.61 L665.51 984.87 L666.20 984.18 L666.78 983.67 L667.20 983.00" fill="none" stroke="#111" stroke-width="1.6" stroke-linejoin="round"/>
<path d="M392.50 1011.95 L395.63 1011.94 L400.05 1011.85 L405.33 1012.07 L411.06 1011.85 L416.82 1011.79 L422.17 1012.11 L426.71 1012.55 L430.00 1012.45 L432.03 1012.20 L433.19 1012.57 L433.68 1012.06 L433.69 1012.02 L433.44 1012.38 L433.10 1012.91 L432.89 1013.92 L433.00 1014.96 L433.33 1017.20 L433.65 1019.58 L433.96 1023.64 L434.26 1026.74 L434.55 1030.52 L434.84 1032.74 L435.12 1035.38 L435.40 1035.68 L435.68 1035.53 L435.95 1033.62 L436.21 1030.78 L436.47 1027.20 L436.73 1023.55 L436.99 1020.42 L437.24 1018.23 L437.50 1015.73 L437.75 1014.91 L437.99 1013.92 L438.23 1013.34 L438.47 1012.59 L438.71 1012.47 L438.96 1012.60 L439.22 1013.72 L439.50 1013.91 L439.80 1015.35 L440.12 1017.22 L440.46 1019.33 L440.81 1021.75 L441.15 1024.15 L441.49 1026.88 L441.80 1027.71 L442.10 1028.87 L442.34 1027.79 L442.53 1026.57 L442.68 1023.95 L442.84 1021.93 L443.02 1018.85 L443.25 1016.43 L443.57 1014.45 L444.00 1012.69 L444.35 1012.00 L444.51 1012.00 L444.63 1011.45 L444.87 1011.59 L445.37 1012.07 L446.29 1011.86 L447.79 1012.01 L450.00 1012.08 L453.29 1012.21 L457.68 1012.26 L462.77 1012.57 L468.22 1012.53 L473.64 1012.92 L478.65 1012.26 L482.90 1012.66 L486.00 1012.57 L487.93 1011.63 L489.02 1010.77 L489.47 1010.26 L489.45 1009.12 L489.16 1008.58 L488.78 1008.12 L488.50 1007.22 L488.50 1007.19 L488.68 1007.90 L488.80 1008.49 L488.88 1009.64 L488.95 1011.07 L489.01 1012.09 L489.08 1013.21 L489.17 1014.36 L489.30 1014.98 L489.32 1015.49 L489.14 1015.04 L488.89 1014.31 L488.70 1013.95 L488.69 1013.82 L488.99 1013.13 L489.71 1012.91 L491.00 1012.67 L493.05 1012.40 L495.83 1011.67 L499.11 1012.25 L502.67 1011.84 L506.27 1011.56 L509.67 1011.44 L512.66 1011.91 L515.00 1011.27 L516.72 1010.99 L518.04 1010.90 L519.05 1011.17 L519.81 1010.54 L520.42 1010.52 L520.93 1009.80 L521.43 1009.99 L522.00 1009.85 L522.52 1009.86 L522.87 1010.42 L523.11 1010.46 L523.31 1010.58 L523.54 1011.61 L523.85 1011.52 L524.32 1011.55 L525.00 1011.61 L525.92 1012.22 L527.04 1012.15 L528.29 1011.75 L529.64 1012.08 L531.03 1012.28 L532.42 1012.13 L533.76 1011.95 L535.00 1012.30 L536.19 1012.64 L537.39 1013.04 L538.59 1013.06 L539.76 1014.04 L540.89 1014.45 L541.95 1014.72 L542.93 1015.05 L543.80 1014.93 L544.53 1015.16 L545.11 1014.61 L545.59 1014.35 L546.01 1014.19 L546.42 1013.97 L546.86 1013.23 L547.37 1013.02 L548.00 1012.77 L548.78 1012.90 L549.67 1012.72 L550.64 1012.76 L551.64 1013.09 L552.62 1013.10 L553.54 1013.40 L554.35 1013.28 L555.00 1013.59 L555.49 1013.42 L555.85 1014.04 L556.12 1013.84 L556.31 1014.16 L556.47 1014.45 L556.62 1015.04 L556.78 1015.32 L557.00 1016.25 L557.25 1017.07 L557.51 1018.25 L557.77 1020.17 L558.03 1021.52 L558.29 1023.49 L558.54 1024.54 L558.77 1025.33 L559.00 1026.03 L559.21 1025.26 L559.39 1024.13 L559.56 1022.45 L559.73 1020.75 L559.90 1018.58 L560.08 1017.20 L560.28 1016.07 L560.50 1016.16 L560.75 1016.51 L561.03 1018.42 L561.33 1020.42 L561.64 1022.95 L561.95 1025.42 L562.25 1027.60 L562.54 1028.81 L562.80 1029.47 L563.04 1029.01 L563.26 1028.25 L563.47 1026.11 L563.67 1024.03 L563.87 1022.04 L564.07 1019.99 L564.28 1018.39 L564.50 1016.78 L564.74 1016.13 L564.98 1015.56 L565.23 1015.42 L565.48 1015.19 L565.74 1015.16 L565.99 1015.54 L566.25 1015.70 L566.50 1016.18 L566.75 1016.91 L567.00 1017.63 L567.25 1019.26 L567.51 1020.39 L567.76 1021.55 L568.01 1023.12 L568.25 1023.51 L568.50 1023.76 L568.74 1023.54 L568.98 1022.62 L569.21 1021.66 L569.44 1020.12 L569.68 1018.42 L569.91 1017.19 L570.15 1016.47 L570.40 1016.15 L570.65 1016.37 L570.90 1016.99 L571.15 1017.80 L571.41 1019.11 L571.67 1020.72 L571.94 1022.17 L572.21 1023.76 L572.50 1025.20 L572.81 1026.79 L573.13 1028.31 L573.47 1030.33 L573.81 1032.81 L574.15 1034.53 L574.49 1035.84 L574.81 1037.06 L575.10 1037.08 L575.36 1036.43 L575.60 1035.08 L575.82 1033.18 L576.03 1030.93 L576.25 1028.13 L576.47 1026.03 L576.72 1023.79 L577.00 1021.99 L577.32 1020.68 L577.67 1019.41 L578.05 1017.77 L578.44 1016.89 L578.83 1016.04 L579.21 1015.30 L579.57 1014.74 L579.90 1014.24 L580.19 1014.71 L580.45 1015.05 L580.68 1015.47 L580.91 1016.45 L581.15 1017.67 L581.40 1018.26 L581.68 1019.25 L582.00 1020.23 L582.36 1020.72 L582.75 1020.79 L583.15 1021.39 L583.58 1021.54 L584.03 1022.07 L584.50 1022.59 L584.99 1022.89 L585.50 1023.76 L586.05 1024.79 L586.65 1026.01 L587.28 1027.22 L587.92 1028.70 L588.56 1030.34 L589.18 1031.88 L589.77 1033.26 L590.30 1035.04 L590.78 1036.79 L591.23 1038.27 L591.65 1039.88 L592.04 1041.79 L592.42 1043.37 L592.79 1044.89 L593.14 1046.59 L593.50 1047.76 L593.85 1049.51 L594.17 1050.81 L594.49 1052.48 L594.79 1054.22 L595.09 1055.33 L595.39 1056.20 L595.69 1056.45 L596.00 1056.17 L596.31 1055.14 L596.63 1053.47 L596.95 1050.74 L597.27 1048.34 L597.58 1045.28 L597.90 1042.48 L598.20 1040.23 L598.50 1038.05 L598.79 1036.42 L599.07 1034.75 L599.34 1033.02 L599.61 1031.37 L599.88 1029.98 L600.15 1029.14 L600.42 1028.35 L600.70 1027.49 L600.98 1027.07 L601.26 1027.03 L601.55 1027.35 L601.83 1028.03 L602.12 1028.21 L602.41 1028.89 L602.70 1029.44 L603.00 1030.11 L603.30 1030.72 L603.61 1030.86 L603.92 1031.61 L604.24 1032.71 L604.55 1033.33 L604.87 1033.34 L605.19 1033.59 L605.50 1033.51 L605.80 1032.82 L606.09 1031.92 L606.37 1030.73 L606.66 1029.22 L606.95 1027.65 L607.27 1026.23 L607.62 1024.94 L608.00 1023.80 L608.42 1023.15 L608.85 1022.39 L609.31 1021.44 L609.79 1021.01 L610.30 1020.31 L610.84 1019.44 L611.40 1018.79 L612.00 1017.84 L612.66 1017.24 L613.40 1015.88 L614.18 1014.36 L614.98 1013.16 L615.77 1012.30 L616.53 1011.24 L617.21 1010.84 L617.80 1010.46 L618.28 1010.94 L618.69 1011.29 L619.03 1011.52 L619.32 1012.62 L619.60 1013.63 L619.88 1015.48 L620.17 1017.58 L620.50 1020.15 L620.87 1023.49 L621.25 1028.28 L621.65 1034.18 L622.04 1039.99 L622.44 1045.40 L622.81 1050.32 L623.17 1054.18 L623.50 1055.90 L623.81 1056.19 L624.10 1054.44 L624.37 1051.73 L624.63 1048.34 L624.87 1044.57 L625.10 1040.89 L625.31 1037.22 L625.50 1035.11 L625.66 1033.04 L625.79 1031.40 L625.89 1030.07 L625.97 1028.79 L626.06 1027.66 L626.15 1026.94 L626.26 1025.98 L626.40 1025.71 L626.57 1026.02 L626.75 1026.48 L626.95 1027.45 L627.16 1028.69 L627.38 1030.17 L627.59 1031.25 L627.80 1031.91 L628.00 1032.23 L628.19 1031.82 L628.38 1030.89 L628.57 1029.93 L628.75 1028.97 L628.93 1027.37 L629.12 1026.35 L629.31 1024.87 L629.50 1023.77 L629.70 1022.92 L629.90 1021.47 L630.10 1020.53 L630.31 1019.22 L630.51 1017.88 L630.71 1016.88 L630.91 1016.33 L631.10 1016.50 L631.28 1017.19 L631.46 1018.47 L631.64 1020.47 L631.81 1022.42 L631.98 1024.56 L632.15 1025.99 L632.32 1027.25 L632.50 1027.94 L632.68 1027.67 L632.86 1026.56 L633.03 1025.29 L633.21 1023.33 L633.40 1021.58 L633.59 1020.01 L633.79 1018.83 L634.00 1018.14 L634.23 1017.83 L634.46 1018.22 L634.71 1019.13 L634.97 1019.97 L635.23 1020.68 L635.49 1021.18 L635.75 1021.86 L636.00 1022.07 L636.23 1021.60 L636.42 1020.91 L636.60 1020.61 L636.79 1019.67 L637.00 1018.32 L637.26 1017.54 L637.59 1016.76 L638.00 1015.90 L638.53 1015.19 L639.18 1014.96 L639.90 1014.42 L640.66 1013.75 L641.43 1013.13 L642.17 1012.91 L642.84 1012.48 L643.40 1012.73 L643.85 1012.21 L644.21 1012.38 L644.52 1012.76 L644.79 1012.66 L645.05 1012.91 L645.32 1013.19 L645.63 1013.54 L646.00 1014.02 L646.43 1014.47 L646.90 1014.48 L647.40 1014.85 L647.92 1015.54 L648.45 1015.77 L648.97 1016.13 L649.50 1016.43 L650.00 1016.87 L650.50 1017.58 L651.01 1017.44 L651.53 1017.79 L652.04 1018.31 L652.54 1018.70 L653.02 1019.10 L653.48 1019.37 L653.90 1020.23 L654.28 1020.78 L654.63 1021.43 L654.95 1022.40 L655.25 1023.48 L655.55 1024.53 L655.85 1025.35 L656.16 1026.57 L656.50 1028.23 L656.87 1029.37 L657.27 1031.66 L657.68 1033.57 L658.09 1035.69 L658.50 1037.69 L658.90 1039.45 L659.27 1040.83 L659.60 1040.82 L659.89 1040.76 L660.15 1039.37 L660.37 1037.65 L660.59 1035.93 L660.80 1033.57 L661.01 1031.35 L661.24 1029.52 L661.50 1028.16 L661.78 1026.90 L662.07 1025.54 L662.36 1024.12 L662.67 1023.43 L662.98 1022.38 L663.31 1021.65 L663.65 1020.90 L664.00 1019.91 L664.39 1019.64 L664.83 1019.23 L665.29 1018.67 L665.76 1018.53 L666.20 1018.41 L666.61 1018.30 L666.95 1018.24 L667.20 1018.01" fill="none" stroke="#ff2010" stroke-width="1.6" stroke-linejoin="round"/>
<line x1="396.00" y1="889.30" x2="413.20" y2="889.30" stroke="#1a1aff" stroke-width="1.6"/>
<text x="415.30" y="893.10" font-size="12.20" text-anchor="start" font-weight="normal" fill="#000" transform="matrix(1 0 0 1.06 0 -53.586)">Pristine PVDF</text>
<line x1="396.00" y1="905.05" x2="413.20" y2="905.05" stroke="#111" stroke-width="1.6"/>
<text x="415.30" y="908.85" font-size="12.20" text-anchor="start" font-weight="normal" fill="#000" transform="matrix(1 0 0 1.06 0 -54.531)">Groundwater+0.1 mg/L PFOA</text>
<line x1="396.00" y1="920.80" x2="413.20" y2="920.80" stroke="#ff2010" stroke-width="1.6"/>
<text x="415.30" y="924.60" font-size="12.20" text-anchor="start" font-weight="normal" fill="#000" transform="matrix(1 0 0 1.06 0 -55.476)">Groundwater+10 mg/L PFOA</text>
<text x="620.70" y="923.30" font-size="10.30" text-anchor="start" font-weight="normal" fill="#222" transform="matrix(1 0 0 1.06 0 -55.398)">723 cm<tspan font-size="7" dy="-4.5">-1</tspan></text>
<text x="499.20" y="1045.80" font-size="10.30" text-anchor="start" font-weight="normal" fill="#222" transform="matrix(1 0 0 1.06 0 -62.748)">CO<tspan font-size="7" dy="2.5">3</tspan><tspan font-size="7" dy="-7">2-</tspan></text>
<text x="528.00" y="1045.80" font-size="10.30" text-anchor="start" font-weight="normal" fill="#222" transform="matrix(1 0 0 1.06 0 -62.748)">stretching</text>
<text x="495.50" y="1058.20" font-size="10.30" text-anchor="start" font-weight="normal" fill="#222" transform="matrix(1 0 0 1.06 0 -63.492)">1575,1540,1418 cm<tspan font-size="7" dy="-4.5">-1</tspan></text>
<text x="630.10" y="1044.70" font-size="10.30" text-anchor="start" font-weight="normal" fill="#222" transform="matrix(1 0 0 1.06 0 -62.682)">CO<tspan font-size="7" dy="2.5">3</tspan><tspan font-size="7" dy="-7">2-</tspan></text>
<text x="629.60" y="1056.10" font-size="10.30" text-anchor="start" font-weight="normal" fill="#222" transform="matrix(1 0 0 1.06 0 -63.366)">bending</text>
<g clip-path="url(#clip1)">
<rect x="52" y="513.6" width="280.4" height="170.9" filter="url(#nc1)"/>
<rect x="52" y="513.6" width="280.4" height="170.9" filter="url(#fil_c1)"/>
<g clip-path="url(#filmc1)" opacity="0.92">
<rect x="52" y="513.6" width="280.4" height="170.9" filter="url(#rc2)"/>
</g>
<g opacity="0.6" filter="url(#bl1)" fill="none" stroke="#d8d8d8" stroke-width="1.5"><path d="M52 592 C62 585 80 588 95 590 C108 588 118 595 126 604"/><path d="M105 615 C115 625 120 640 122 650"/><path d="M115 632 C125 630 135 640 140 652"/></g>
<g filter="url(#bl6)"><ellipse cx="178" cy="605" rx="30" ry="20" fill="#c8c8c8" opacity="0.22"/><ellipse cx="322" cy="615" rx="14" ry="18" fill="#d0d0d0" opacity="0.3"/><ellipse cx="150" cy="562" rx="45" ry="18" fill="#000" opacity="0.18"/><ellipse cx="240" cy="672" rx="60" ry="12" fill="#000" opacity="0.12"/></g>
<g opacity="0.5" filter="url(#bl1)" fill="none" stroke="#3a3a3a" stroke-width="2"><path d="M60 612 C80 615 100 622 118 640"/><path d="M70 632 C90 636 108 645 125 655"/><path d="M100 600 C110 610 118 622 124 632"/></g>
<g opacity="0.6" filter="url(#bl3)"><path d="M52 513 L110 513 C100 530 80 545 52 550Z" fill="#8e8e8e"/></g>
<g opacity="0.8" filter="url(#bl2)"><path d="M275 513 L335 513 L335 545 C315 540 295 528 275 513Z" fill="#a8a8a8"/></g>
<g opacity="0.35" filter="url(#bl2)"><path d="M95 605 C110 610 125 625 135 640 L128 643 C118 630 105 618 92 612Z" fill="#e0e0e0"/></g>
</g>
<g clip-path="url(#clip2)">
<rect x="52" y="690.1" width="280.3" height="170.1" filter="url(#rc2)"/>
<rect x="52" y="690.1" width="280.3" height="170.1" filter="url(#nc2)" opacity="0.35"/>
<g mask="url(#m_c2)" opacity="0.85">
<rect x="52" y="690.1" width="280.3" height="170.1" filter="url(#nc1)"/>
<rect x="52" y="690.1" width="280.3" height="170.1" filter="url(#fil_c1)"/>
</g>
<g filter="url(#disp)" fill="#2a2a2a" opacity="0.92"><ellipse cx="97" cy="721" rx="12.0" ry="6.0"/><ellipse cx="175" cy="727" rx="12.0" ry="8.0"/><ellipse cx="64" cy="751" rx="12.0" ry="8.0"/><ellipse cx="97" cy="760" rx="8.0" ry="8.0"/><ellipse cx="70" cy="780" rx="18.0" ry="8.0"/><ellipse cx="230" cy="798" rx="34.0" ry="10.0"/><ellipse cx="275" cy="753" rx="6.0" ry="6.0"/><ellipse cx="220" cy="710" rx="12.0" ry="7.0"/><ellipse cx="277" cy="727" rx="8.0" ry="8.0"/><ellipse cx="318" cy="750" rx="5.0" ry="4.0"/><ellipse cx="322" cy="770" rx="5.0" ry="4.0"/><ellipse cx="315" cy="790" rx="6.0" ry="5.0"/><ellipse cx="325" cy="810" rx="5.0" ry="4.0"/><ellipse cx="64" cy="841" rx="12.0" ry="15.0"/><ellipse cx="150" cy="800" rx="6.0" ry="4.0"/><ellipse cx="135" cy="770" rx="5.0" ry="4.0"/><ellipse cx="180" cy="790" rx="5.0" ry="4.0"/><ellipse cx="300" cy="770" rx="4.0" ry="4.0"/><ellipse cx="290" cy="790" rx="5.0" ry="4.0"/></g>
</g>
<g clip-path="url(#clip3)">
<g transform="rotate(-28 527 598)"><rect x="330" y="420" width="400" height="360" filter="url(#rg1)"/></g>
<g transform="rotate(-28 527 598)" opacity="0.4"><rect x="330" y="420" width="400" height="360" filter="url(#ng1)"/></g>
<rect x="386.7" y="513.1" width="280.5" height="171.1" filter="url(#ng1f)" opacity="0.45"/>
<rect x="386.7" y="513.1" width="280.5" height="171.1" filter="url(#sp_g1)"/>
</g>
<g clip-path="url(#clip4)">
<rect x="386.7" y="690.2" width="281.0" height="170.4" filter="url(#ng2)"/>
<rect x="386.7" y="690.2" width="281.0" height="170.4" filter="url(#sp_g2)"/>
<g fill="#3c3c3c" opacity="0.55" filter="url(#bl1)"><ellipse cx="609.9" cy="747.4" rx="6.5" ry="5.5"/><ellipse cx="641.6" cy="695.8" rx="9" ry="7"/><ellipse cx="661.6" cy="698.8" rx="7" ry="6"/><ellipse cx="649.6" cy="791.8" rx="6" ry="5"/><ellipse cx="637.6" cy="787.8" rx="5" ry="4.5"/><ellipse cx="659.6" cy="794.8" rx="5" ry="4.5"/><ellipse cx="656.6" cy="743.8" rx="4" ry="3.5"/><ellipse cx="626.6" cy="746.8" rx="3.5" ry="3"/><ellipse cx="641.6" cy="756.8" rx="3.5" ry="3"/><ellipse cx="506.6" cy="743.8" rx="4" ry="3.5"/><ellipse cx="514.6" cy="739.8" rx="3" ry="2.5"/><ellipse cx="560.6" cy="736.8" rx="3.5" ry="3"/><ellipse cx="449.3" cy="730.8" rx="3" ry="2.5"/><ellipse cx="611.6" cy="821.8" rx="4" ry="3.5"/><ellipse cx="601.6" cy="850.3" rx="4.5" ry="4"/><ellipse cx="626.4" cy="823.5" rx="3.5" ry="3"/><ellipse cx="651.6" cy="816.8" rx="4" ry="3.5"/><ellipse cx="664.6" cy="831.8" rx="4" ry="3.5"/><ellipse cx="523.5" cy="800.8" rx="3" ry="2.5"/><ellipse cx="581.1" cy="815.3" rx="3" ry="2.5"/><ellipse cx="471.6" cy="761.8" rx="2.5" ry="2"/><ellipse cx="541.6" cy="771.8" rx="2.5" ry="2"/><ellipse cx="591.6" cy="791.8" rx="2.5" ry="2"/><ellipse cx="631.6" cy="711.8" rx="3" ry="2.5"/><ellipse cx="596.6" cy="706.8" rx="2.5" ry="2"/><ellipse cx="431.6" cy="801.8" rx="2.5" ry="2"/><ellipse cx="501.6" cy="831.8" rx="2.5" ry="2"/></g>
<g fill="#d0d0d0" opacity="0.95" filter="url(#bl1)"><ellipse cx="608.3" cy="745.6" rx="6.5" ry="5.5"/><ellipse cx="640" cy="694" rx="9" ry="7"/><ellipse cx="660" cy="697" rx="7" ry="6"/><ellipse cx="648" cy="790" rx="6" ry="5"/><ellipse cx="636" cy="786" rx="5" ry="4.5"/><ellipse cx="658" cy="793" rx="5" ry="4.5"/><ellipse cx="655" cy="742" rx="4" ry="3.5"/><ellipse cx="625" cy="745" rx="3.5" ry="3"/><ellipse cx="640" cy="755" rx="3.5" ry="3"/><ellipse cx="505" cy="742" rx="4" ry="3.5"/><ellipse cx="513" cy="738" rx="3" ry="2.5"/><ellipse cx="559" cy="735" rx="3.5" ry="3"/><ellipse cx="447.7" cy="729" rx="3" ry="2.5"/><ellipse cx="610" cy="820" rx="4" ry="3.5"/><ellipse cx="600" cy="848.5" rx="4.5" ry="4"/><ellipse cx="624.8" cy="821.7" rx="3.5" ry="3"/><ellipse cx="650" cy="815" rx="4" ry="3.5"/><ellipse cx="663" cy="830" rx="4" ry="3.5"/><ellipse cx="521.9" cy="799" rx="3" ry="2.5"/><ellipse cx="579.5" cy="813.5" rx="3" ry="2.5"/><ellipse cx="470" cy="760" rx="2.5" ry="2"/><ellipse cx="540" cy="770" rx="2.5" ry="2"/><ellipse cx="590" cy="790" rx="2.5" ry="2"/><ellipse cx="630" cy="710" rx="3" ry="2.5"/><ellipse cx="595" cy="705" rx="2.5" ry="2"/><ellipse cx="430" cy="800" rx="2.5" ry="2"/><ellipse cx="500" cy="830" rx="2.5" ry="2"/></g>
<g fill="#f4f4f4" opacity="0.9" filter="url(#bl1)"><ellipse cx="606.3" cy="743.7" rx="2.9" ry="2.2"/><ellipse cx="637.3" cy="691.5" rx="4.0" ry="2.8"/><ellipse cx="657.9" cy="694.9" rx="3.1" ry="2.4"/><ellipse cx="646.2" cy="788.2" rx="2.7" ry="2.0"/><ellipse cx="634.5" cy="784.4" rx="2.2" ry="1.8"/><ellipse cx="656.5" cy="791.4" rx="2.2" ry="1.8"/><ellipse cx="653.8" cy="740.8" rx="1.8" ry="1.4"/><ellipse cx="624.0" cy="744.0" rx="1.6" ry="1.2"/><ellipse cx="639.0" cy="754.0" rx="1.6" ry="1.2"/><ellipse cx="503.8" cy="740.8" rx="1.8" ry="1.4"/><ellipse cx="512.1" cy="737.1" rx="1.4" ry="1.0"/><ellipse cx="558.0" cy="734.0" rx="1.6" ry="1.2"/><ellipse cx="446.8" cy="728.1" rx="1.4" ry="1.0"/><ellipse cx="608.8" cy="818.8" rx="1.8" ry="1.4"/><ellipse cx="598.6" cy="847.1" rx="2.0" ry="1.6"/><ellipse cx="623.8" cy="820.7" rx="1.6" ry="1.2"/><ellipse cx="648.8" cy="813.8" rx="1.8" ry="1.4"/><ellipse cx="661.8" cy="828.8" rx="1.8" ry="1.4"/><ellipse cx="521.0" cy="798.1" rx="1.4" ry="1.0"/><ellipse cx="578.6" cy="812.6" rx="1.4" ry="1.0"/><ellipse cx="469.2" cy="759.3" rx="1.1" ry="0.8"/><ellipse cx="539.2" cy="769.3" rx="1.1" ry="0.8"/><ellipse cx="589.2" cy="789.3" rx="1.1" ry="0.8"/><ellipse cx="629.1" cy="709.1" rx="1.4" ry="1.0"/><ellipse cx="594.2" cy="704.3" rx="1.1" ry="0.8"/><ellipse cx="429.2" cy="799.3" rx="1.1" ry="0.8"/><ellipse cx="499.2" cy="829.3" rx="1.1" ry="0.8"/></g>
</g>
<text x="58.50" y="536.80" font-size="17.00" text-anchor="start" font-weight="bold" fill="#fff">PTFE_GW+0.1 mg/L PFOA</text>
<text x="229.00" y="578.20" font-size="17.00" text-anchor="start" font-weight="bold" fill="#fff">Fibril break</text>
<line x1="257.4" y1="583.8" x2="222.1" y2="610.2" stroke="#fff" stroke-width="2.6"/>
<path d="M214.9 615.6 L219.4 606.6 L224.8 613.8Z" fill="#fff"/>
<text x="165.20" y="659.50" font-size="17.00" text-anchor="start" font-weight="bold" fill="#fff">PFOA fouling</text>
<line x1="161.0" y1="651.0" x2="130.6" y2="642.1" stroke="#fff" stroke-width="2.6"/>
<path d="M122.0 639.6 L131.9 637.8 L129.4 646.4Z" fill="#fff"/>
<rect x="288" y="656.2" width="39.0" height="18.4" fill="#7f807e"/>
<text x="296.10" y="669.10" font-size="10.30" text-anchor="start" font-weight="bold" fill="#fff" transform="matrix(1 0 0 1.06 0 -40.146)">1 µm</text>
<rect x="294.9" y="675.4" width="26.1" height="4.9" fill="#fff"/>
<text x="57.10" y="709.40" font-size="17.00" text-anchor="start" font-weight="bold" fill="#fff">PTFE_GW+10 mg/L PFOA</text>
<text x="69.40" y="817.70" font-size="17.00" text-anchor="start" font-weight="bold" fill="#fff">Scaling</text>
<line x1="91.9" y1="801.4" x2="91.9" y2="751.1" stroke="#fff" stroke-width="2.6"/>
<path d="M91.9 742.1 L96.4 751.1 L87.4 751.1Z" fill="#fff"/>
<text x="141.30" y="756.40" font-size="17.00" text-anchor="start" font-weight="bold" fill="#fff">PFOA</text>
<text x="130.30" y="775.80" font-size="17.00" text-anchor="start" font-weight="bold" fill="#fff">fouling</text>
<line x1="192.1" y1="751.0" x2="217.5" y2="751.0" stroke="#fff" stroke-width="2.6"/>
<path d="M226.5 751.0 L217.5 755.5 L217.5 746.5Z" fill="#fff"/>
<text x="167.50" y="833.10" font-size="17.00" text-anchor="start" font-weight="bold" fill="#fff">Fibril</text>
<text x="167.50" y="854.40" font-size="17.00" text-anchor="start" font-weight="bold" fill="#fff">break</text>
<line x1="216.5" y1="831.9" x2="236.5" y2="812.3" stroke="#fff" stroke-width="2.6"/>
<path d="M242.9 806.0 L239.6 815.5 L233.3 809.1Z" fill="#fff"/>
<rect x="292" y="831.2" width="39.0" height="19.3" fill="#7f807e"/>
<text x="300.90" y="844.90" font-size="10.30" text-anchor="start" font-weight="bold" fill="#fff" transform="matrix(1 0 0 1.06 0 -50.694)">1 µm</text>
<rect x="301" y="851.3" width="26.4" height="4.8" fill="#fff"/>
<text x="393.70" y="536.50" font-size="17.00" text-anchor="start" font-weight="bold" fill="#fff">PVDF_GW+0.1 mg/L PFOA</text>
<text x="447.20" y="633.70" font-size="17.00" text-anchor="start" font-weight="bold" fill="#fff">PFOA</text>
<text x="435.90" y="655.10" font-size="17.00" text-anchor="start" font-weight="bold" fill="#fff">fouling</text>
<line x1="499.5" y1="628.1" x2="525.4" y2="628.1" stroke="#fff" stroke-width="2.6"/>
<path d="M534.4 628.1 L525.4 632.6 L525.4 623.6Z" fill="#fff"/>
<rect x="624.5" y="657.7" width="38.3" height="18.3" fill="#7f807e"/>
<text x="632.50" y="670.70" font-size="10.30" text-anchor="start" font-weight="bold" fill="#fff" transform="matrix(1 0 0 1.06 0 -40.242)">1 µm</text>
<rect x="632" y="677.3" width="27.0" height="4.6" fill="#fff"/>
<text x="395.20" y="710.40" font-size="17.00" text-anchor="start" font-weight="bold" fill="#fff">PVDF_GW+10 mg/L PFOA</text>
<text x="401.40" y="791.50" font-size="17.00" text-anchor="start" font-weight="bold" fill="#fff">PFOA</text>
<text x="390.10" y="813.70" font-size="17.00" text-anchor="start" font-weight="bold" fill="#fff">fouling</text>
<line x1="452.6" y1="776.1" x2="485.5" y2="760.5" stroke="#fff" stroke-width="2.6"/>
<path d="M493.6 756.6 L487.4 764.5 L483.5 756.4Z" fill="#fff"/>
<text x="532.20" y="784.00" font-size="17.00" text-anchor="start" font-weight="bold" fill="#fff">Scaling</text>
<line x1="568.8" y1="767.6" x2="599.7" y2="755.5" stroke="#fff" stroke-width="2.6"/>
<path d="M608.1 752.2 L601.4 759.7 L598.1 751.3Z" fill="#fff"/>
<rect x="610" y="832.3" width="38.7" height="17.7" fill="#7f807e"/>
<text x="618.50" y="845.00" font-size="10.30" text-anchor="start" font-weight="bold" fill="#fff" transform="matrix(1 0 0 1.06 0 -50.700)">1 µm</text>
<rect x="619.9" y="851.4" width="26.3" height="4.2" fill="#fff"/>
<text x="647.50" y="852.50" font-size="8.50" text-anchor="start" font-weight="bold" fill="#eee" transform="matrix(1 0 0 1.06 0 -51.150)">µm</text>
<line x1="646.00" y1="855.30" x2="661.50" y2="855.30" stroke="#f0f0f0" stroke-width="0.9"/>
<text x="4.20" y="525.30" font-size="19.00" text-anchor="start" font-weight="bold" fill="#000" transform="matrix(1 0 0 1.06 0 -31.518)">c</text>
<text x="344.80" y="525.30" font-size="19.00" text-anchor="start" font-weight="bold" fill="#000" transform="matrix(1 0 0 1.06 0 -31.518)">g</text>
</svg></body></html>
